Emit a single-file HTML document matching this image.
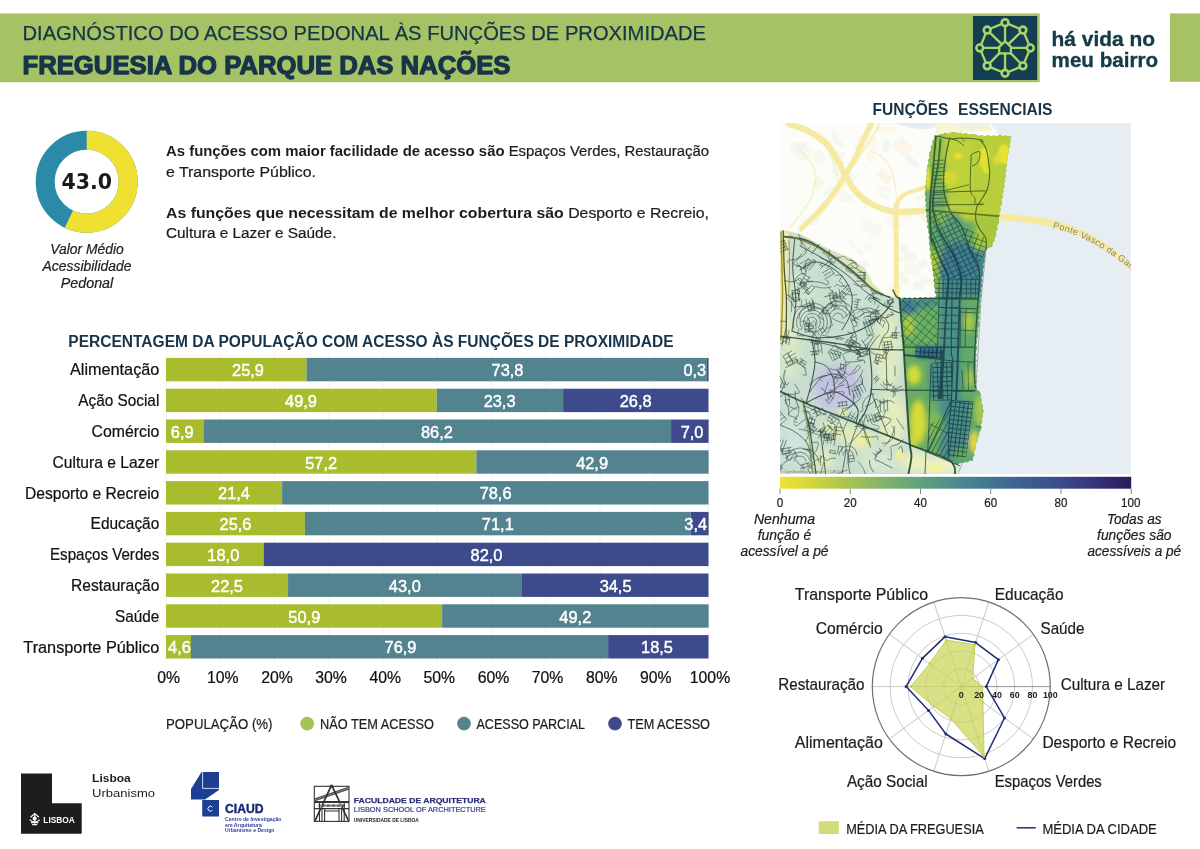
<!DOCTYPE html>
<html lang="pt"><head><meta charset="utf-8"><title>Diagnóstico do acesso pedonal às funções de proximidade - Freguesia do Parque das Nações</title>
<style>html,body{margin:0;padding:0;background:#fff;}body{width:1200px;height:849px;overflow:hidden;font-family:"Liberation Sans",sans-serif;}svg{display:block;}</style>
</head><body>
<svg width="1200" height="849" viewBox="0 0 1200 849">
<rect width="1200" height="849" fill="#ffffff"/>
<rect x="0.00" y="13.40" width="1039.70" height="68.80" fill="#a5c364" />
<rect x="1170.00" y="13.40" width="30.00" height="68.40" fill="#a5c364" />
<text x="22.50" y="39.70" font-family='"Liberation Sans", sans-serif' font-size="20.00" text-anchor="start" fill="#17344a" textLength="683.50" lengthAdjust="spacingAndGlyphs" stroke="#17344a" stroke-width="0.25">DIAGNÓSTICO DO ACESSO PEDONAL ÀS FUNÇÕES DE PROXIMIDADE</text>
<text x="22.50" y="74.30" font-family='"Liberation Sans", sans-serif' font-size="25.60" text-anchor="start" fill="#17344a" font-weight="bold" textLength="488.00" lengthAdjust="spacingAndGlyphs" stroke="#17344a" stroke-width="1.25" stroke-linejoin="round">FREGUESIA DO PARQUE DAS NAÇÕES</text>
<rect x="973.00" y="16.00" width="64.20" height="64.00" fill="#143f50" />
<g fill="none" stroke="#a9d56a" stroke-width="2.3" stroke-linecap="round" stroke-linejoin="round">
<polygon points="1005.05,22.65 1022.94,30.06 1030.35,47.95 1022.94,65.84 1005.05,73.25 987.16,65.84 979.75,47.95 987.16,30.06"/>
<polygon points="1005.05,41.45 1010.95,46.85 1010.95,53.35 999.15,53.35 999.15,46.85"/>
<line x1="1005.05" y1="22.65" x2="1005.05" y2="41.45"/>
<line x1="1022.94" y1="30.06" x2="1008.95" y2="43.55"/>
<line x1="1030.35" y1="47.95" x2="1010.95" y2="47.95"/>
<line x1="1022.94" y1="65.84" x2="1010.95" y2="53.35"/>
<line x1="1005.05" y1="73.25" x2="1005.05" y2="53.35"/>
<line x1="987.16" y1="65.84" x2="999.15" y2="53.35"/>
<line x1="979.75" y1="47.95" x2="999.15" y2="47.95"/>
<line x1="987.16" y1="30.06" x2="1001.15" y2="43.55"/>
</g>
<circle cx="1005.05" cy="22.65" r="3.4" fill="#143f50" stroke="#a9d56a" stroke-width="2.6"/>
<circle cx="1022.94" cy="30.06" r="3.4" fill="#143f50" stroke="#a9d56a" stroke-width="2.6"/>
<circle cx="1030.35" cy="47.95" r="3.4" fill="#143f50" stroke="#a9d56a" stroke-width="2.6"/>
<circle cx="1022.94" cy="65.84" r="3.4" fill="#143f50" stroke="#a9d56a" stroke-width="2.6"/>
<circle cx="1005.05" cy="73.25" r="3.4" fill="#143f50" stroke="#a9d56a" stroke-width="2.6"/>
<circle cx="987.16" cy="65.84" r="3.4" fill="#143f50" stroke="#a9d56a" stroke-width="2.6"/>
<circle cx="979.75" cy="47.95" r="3.4" fill="#143f50" stroke="#a9d56a" stroke-width="2.6"/>
<circle cx="987.16" cy="30.06" r="3.4" fill="#143f50" stroke="#a9d56a" stroke-width="2.6"/>
<text x="1051.60" y="46.30" font-family='"Liberation Sans", sans-serif' font-size="20.00" text-anchor="start" fill="#143b48" font-weight="bold" textLength="103.40" lengthAdjust="spacingAndGlyphs" stroke="#143b48" stroke-width="0.35">há vida no</text>
<text x="1051.60" y="67.30" font-family='"Liberation Sans", sans-serif' font-size="20.00" text-anchor="start" fill="#143b48" font-weight="bold" textLength="106.40" lengthAdjust="spacingAndGlyphs" stroke="#143b48" stroke-width="0.35">meu bairro</text>
<circle cx="86.70" cy="181.70" r="41.50" fill="none" stroke="#2b8aa7" stroke-width="19.00"/>
<circle cx="86.70" cy="181.70" r="41.50" fill="none" stroke="#efe032" stroke-width="19.00" stroke-dasharray="148.63 260.75" transform="rotate(-90 86.70 181.70)"/>
<text x="86.70" y="189.20" font-family='"DejaVu Sans", sans-serif' font-size="20.50" text-anchor="middle" fill="#1a1a1a" font-weight="bold" >43.0</text>
<text x="87.00" y="253.50" font-family='"Liberation Sans", sans-serif' font-size="15.00" text-anchor="middle" fill="#222" font-style="italic" textLength="73.50" lengthAdjust="spacingAndGlyphs"  stroke="#222" stroke-width="0.22">Valor Médio</text>
<text x="87.00" y="270.80" font-family='"Liberation Sans", sans-serif' font-size="15.00" text-anchor="middle" fill="#222" font-style="italic" textLength="89.00" lengthAdjust="spacingAndGlyphs"  stroke="#222" stroke-width="0.22">Acessibilidade</text>
<text x="87.00" y="288.10" font-family='"Liberation Sans", sans-serif' font-size="15.00" text-anchor="middle" fill="#222" font-style="italic" textLength="52.50" lengthAdjust="spacingAndGlyphs"  stroke="#222" stroke-width="0.22">Pedonal</text>
<text x="166.00" y="156.20" font-family='"Liberation Sans", sans-serif' font-size="15.20" text-anchor="start" fill="#1d1d1b" font-weight="bold" textLength="338.52" lengthAdjust="spacingAndGlyphs" >As funções com maior facilidade de acesso são</text>
<text x="508.66" y="156.20" font-family='"Liberation Sans", sans-serif' font-size="15.20" text-anchor="start" fill="#1d1d1b" textLength="200.34" lengthAdjust="spacingAndGlyphs"  stroke="#1d1d1b" stroke-width="0.22">Espaços Verdes, Restauração</text>
<text x="166.00" y="176.50" font-family='"Liberation Sans", sans-serif' font-size="15.20" text-anchor="start" fill="#1d1d1b" textLength="150.00" lengthAdjust="spacingAndGlyphs"  stroke="#1d1d1b" stroke-width="0.22">e Transporte Público.</text>
<text x="166.00" y="218.00" font-family='"Liberation Sans", sans-serif' font-size="15.20" text-anchor="start" fill="#1d1d1b" font-weight="bold" textLength="397.77" lengthAdjust="spacingAndGlyphs" >As funções que necessitam de melhor cobertura são</text>
<text x="568.17" y="218.00" font-family='"Liberation Sans", sans-serif' font-size="15.20" text-anchor="start" fill="#1d1d1b" textLength="140.83" lengthAdjust="spacingAndGlyphs"  stroke="#1d1d1b" stroke-width="0.22">Desporto e Recreio,</text>
<text x="166.00" y="238.20" font-family='"Liberation Sans", sans-serif' font-size="15.20" text-anchor="start" fill="#1d1d1b" textLength="170.40" lengthAdjust="spacingAndGlyphs"  stroke="#1d1d1b" stroke-width="0.22">Cultura e Lazer e Saúde.</text>
<text x="68.30" y="346.60" font-family='"Liberation Sans", sans-serif' font-size="16.00" text-anchor="start" fill="#17344a" font-weight="bold" textLength="605.30" lengthAdjust="spacingAndGlyphs" >PERCENTAGEM DA POPULAÇÃO COM ACESSO ÀS FUNÇÕES DE PROXIMIDADE</text>
<line x1="166.00" y1="352" x2="166.00" y2="664" stroke="#f2f2f2" stroke-width="1"/>
<line x1="220.25" y1="352" x2="220.25" y2="664" stroke="#f2f2f2" stroke-width="1"/>
<line x1="274.50" y1="352" x2="274.50" y2="664" stroke="#f2f2f2" stroke-width="1"/>
<line x1="328.75" y1="352" x2="328.75" y2="664" stroke="#f2f2f2" stroke-width="1"/>
<line x1="383.00" y1="352" x2="383.00" y2="664" stroke="#f2f2f2" stroke-width="1"/>
<line x1="437.25" y1="352" x2="437.25" y2="664" stroke="#f2f2f2" stroke-width="1"/>
<line x1="491.50" y1="352" x2="491.50" y2="664" stroke="#f2f2f2" stroke-width="1"/>
<line x1="545.75" y1="352" x2="545.75" y2="664" stroke="#f2f2f2" stroke-width="1"/>
<line x1="600.00" y1="352" x2="600.00" y2="664" stroke="#f2f2f2" stroke-width="1"/>
<line x1="654.25" y1="352" x2="654.25" y2="664" stroke="#f2f2f2" stroke-width="1"/>
<line x1="708.50" y1="352" x2="708.50" y2="664" stroke="#f2f2f2" stroke-width="1"/>
<text x="159.30" y="375.40" font-family='"Liberation Sans", sans-serif' font-size="16.20" text-anchor="end" fill="#111" textLength="89.30" lengthAdjust="spacingAndGlyphs"  stroke="#111" stroke-width="0.22">Alimentação</text>
<rect x="166.00" y="357.90" width="140.51" height="23.40" fill="#a8bc2d" />
<rect x="306.51" y="357.90" width="400.36" height="23.40" fill="#52838f" />
<rect x="706.87" y="357.90" width="1.63" height="23.40" fill="#3d4a8b" />
<text x="248.00" y="376.20" font-family='"Liberation Sans", sans-serif' font-size="16.40" text-anchor="middle" fill="#fff" stroke="#fff" stroke-width="0.45">25,9</text>
<text x="507.50" y="376.20" font-family='"Liberation Sans", sans-serif' font-size="16.40" text-anchor="middle" fill="#fff" stroke="#fff" stroke-width="0.45">73,8</text>
<text x="694.80" y="376.20" font-family='"Liberation Sans", sans-serif' font-size="16.40" text-anchor="middle" fill="#fff" stroke="#fff" stroke-width="0.45">0,3</text>
<text x="159.30" y="406.20" font-family='"Liberation Sans", sans-serif' font-size="16.20" text-anchor="end" fill="#111" textLength="81.00" lengthAdjust="spacingAndGlyphs"  stroke="#111" stroke-width="0.22">Ação Social</text>
<rect x="166.00" y="388.70" width="270.71" height="23.40" fill="#a8bc2d" />
<rect x="436.71" y="388.70" width="126.40" height="23.40" fill="#52838f" />
<rect x="563.11" y="388.70" width="145.39" height="23.40" fill="#3d4a8b" />
<text x="301.00" y="407.00" font-family='"Liberation Sans", sans-serif' font-size="16.40" text-anchor="middle" fill="#fff" stroke="#fff" stroke-width="0.45">49,9</text>
<text x="499.60" y="407.00" font-family='"Liberation Sans", sans-serif' font-size="16.40" text-anchor="middle" fill="#fff" stroke="#fff" stroke-width="0.45">23,3</text>
<text x="635.70" y="407.00" font-family='"Liberation Sans", sans-serif' font-size="16.40" text-anchor="middle" fill="#fff" stroke="#fff" stroke-width="0.45">26,8</text>
<text x="159.30" y="437.00" font-family='"Liberation Sans", sans-serif' font-size="16.20" text-anchor="end" fill="#111" textLength="67.70" lengthAdjust="spacingAndGlyphs"  stroke="#111" stroke-width="0.22">Comércio</text>
<rect x="166.00" y="419.50" width="37.43" height="23.40" fill="#a8bc2d" />
<rect x="203.43" y="419.50" width="467.63" height="23.40" fill="#52838f" />
<rect x="671.07" y="419.50" width="37.53" height="23.40" fill="#3d4a8b" />
<text x="182.20" y="437.80" font-family='"Liberation Sans", sans-serif' font-size="16.40" text-anchor="middle" fill="#fff" stroke="#fff" stroke-width="0.45">6,9</text>
<text x="436.90" y="437.80" font-family='"Liberation Sans", sans-serif' font-size="16.40" text-anchor="middle" fill="#fff" stroke="#fff" stroke-width="0.45">86,2</text>
<text x="692.10" y="437.80" font-family='"Liberation Sans", sans-serif' font-size="16.40" text-anchor="middle" fill="#fff" stroke="#fff" stroke-width="0.45">7,0</text>
<text x="159.30" y="467.80" font-family='"Liberation Sans", sans-serif' font-size="16.20" text-anchor="end" fill="#111" textLength="106.70" lengthAdjust="spacingAndGlyphs"  stroke="#111" stroke-width="0.22">Cultura e Lazer</text>
<rect x="166.00" y="450.30" width="310.31" height="23.40" fill="#a8bc2d" />
<rect x="476.31" y="450.30" width="232.29" height="23.40" fill="#52838f" />
<text x="321.20" y="468.60" font-family='"Liberation Sans", sans-serif' font-size="16.40" text-anchor="middle" fill="#fff" stroke="#fff" stroke-width="0.45">57,2</text>
<text x="592.10" y="468.60" font-family='"Liberation Sans", sans-serif' font-size="16.40" text-anchor="middle" fill="#fff" stroke="#fff" stroke-width="0.45">42,9</text>
<text x="159.30" y="498.60" font-family='"Liberation Sans", sans-serif' font-size="16.20" text-anchor="end" fill="#111" textLength="134.30" lengthAdjust="spacingAndGlyphs"  stroke="#111" stroke-width="0.22">Desporto e Recreio</text>
<rect x="166.00" y="481.10" width="116.09" height="23.40" fill="#a8bc2d" />
<rect x="282.09" y="481.10" width="426.40" height="23.40" fill="#52838f" />
<text x="234.00" y="499.40" font-family='"Liberation Sans", sans-serif' font-size="16.40" text-anchor="middle" fill="#fff" stroke="#fff" stroke-width="0.45">21,4</text>
<text x="495.60" y="499.40" font-family='"Liberation Sans", sans-serif' font-size="16.40" text-anchor="middle" fill="#fff" stroke="#fff" stroke-width="0.45">78,6</text>
<text x="159.30" y="529.40" font-family='"Liberation Sans", sans-serif' font-size="16.20" text-anchor="end" fill="#111" textLength="68.70" lengthAdjust="spacingAndGlyphs"  stroke="#111" stroke-width="0.22">Educação</text>
<rect x="166.00" y="511.90" width="138.88" height="23.40" fill="#a8bc2d" />
<rect x="304.88" y="511.90" width="385.72" height="23.40" fill="#52838f" />
<rect x="690.60" y="511.90" width="18.00" height="23.40" fill="#3d4a8b" />
<text x="235.50" y="530.20" font-family='"Liberation Sans", sans-serif' font-size="16.40" text-anchor="middle" fill="#fff" stroke="#fff" stroke-width="0.45">25,6</text>
<text x="497.80" y="530.20" font-family='"Liberation Sans", sans-serif' font-size="16.40" text-anchor="middle" fill="#fff" stroke="#fff" stroke-width="0.45">71,1</text>
<text x="695.70" y="530.20" font-family='"Liberation Sans", sans-serif' font-size="16.40" text-anchor="middle" fill="#fff" stroke="#fff" stroke-width="0.45">3,4</text>
<text x="159.30" y="560.20" font-family='"Liberation Sans", sans-serif' font-size="16.20" text-anchor="end" fill="#111" textLength="109.30" lengthAdjust="spacingAndGlyphs"  stroke="#111" stroke-width="0.22">Espaços Verdes</text>
<rect x="166.00" y="542.70" width="97.65" height="23.40" fill="#a8bc2d" />
<rect x="263.65" y="542.70" width="444.85" height="23.40" fill="#3d4a8b" />
<text x="223.30" y="561.00" font-family='"Liberation Sans", sans-serif' font-size="16.40" text-anchor="middle" fill="#fff" stroke="#fff" stroke-width="0.45">18,0</text>
<text x="486.50" y="561.00" font-family='"Liberation Sans", sans-serif' font-size="16.40" text-anchor="middle" fill="#fff" stroke="#fff" stroke-width="0.45">82,0</text>
<text x="159.30" y="591.00" font-family='"Liberation Sans", sans-serif' font-size="16.20" text-anchor="end" fill="#111" textLength="88.30" lengthAdjust="spacingAndGlyphs"  stroke="#111" stroke-width="0.22">Restauração</text>
<rect x="166.00" y="573.50" width="122.06" height="23.40" fill="#a8bc2d" />
<rect x="288.06" y="573.50" width="233.28" height="23.40" fill="#52838f" />
<rect x="521.34" y="573.50" width="187.16" height="23.40" fill="#3d4a8b" />
<text x="227.00" y="591.80" font-family='"Liberation Sans", sans-serif' font-size="16.40" text-anchor="middle" fill="#fff" stroke="#fff" stroke-width="0.45">22,5</text>
<text x="404.80" y="591.80" font-family='"Liberation Sans", sans-serif' font-size="16.40" text-anchor="middle" fill="#fff" stroke="#fff" stroke-width="0.45">43,0</text>
<text x="615.60" y="591.80" font-family='"Liberation Sans", sans-serif' font-size="16.40" text-anchor="middle" fill="#fff" stroke="#fff" stroke-width="0.45">34,5</text>
<text x="159.30" y="621.80" font-family='"Liberation Sans", sans-serif' font-size="16.20" text-anchor="end" fill="#111" textLength="44.30" lengthAdjust="spacingAndGlyphs"  stroke="#111" stroke-width="0.22">Saúde</text>
<rect x="166.00" y="604.30" width="276.13" height="23.40" fill="#a8bc2d" />
<rect x="442.13" y="604.30" width="266.47" height="23.40" fill="#52838f" />
<text x="304.30" y="622.60" font-family='"Liberation Sans", sans-serif' font-size="16.40" text-anchor="middle" fill="#fff" stroke="#fff" stroke-width="0.45">50,9</text>
<text x="575.30" y="622.60" font-family='"Liberation Sans", sans-serif' font-size="16.40" text-anchor="middle" fill="#fff" stroke="#fff" stroke-width="0.45">49,2</text>
<text x="159.30" y="652.60" font-family='"Liberation Sans", sans-serif' font-size="16.20" text-anchor="end" fill="#111" textLength="136.00" lengthAdjust="spacingAndGlyphs"  stroke="#111" stroke-width="0.22">Transporte Público</text>
<rect x="166.00" y="635.10" width="24.95" height="23.40" fill="#a8bc2d" />
<rect x="190.95" y="635.10" width="417.18" height="23.40" fill="#52838f" />
<rect x="608.14" y="635.10" width="100.36" height="23.40" fill="#3d4a8b" />
<text x="179.50" y="653.40" font-family='"Liberation Sans", sans-serif' font-size="16.40" text-anchor="middle" fill="#fff" stroke="#fff" stroke-width="0.45">4,6</text>
<text x="400.50" y="653.40" font-family='"Liberation Sans", sans-serif' font-size="16.40" text-anchor="middle" fill="#fff" stroke="#fff" stroke-width="0.45">76,9</text>
<text x="657.00" y="653.40" font-family='"Liberation Sans", sans-serif' font-size="16.40" text-anchor="middle" fill="#fff" stroke="#fff" stroke-width="0.45">18,5</text>
<text x="168.70" y="682.50" font-family='"Liberation Sans", sans-serif' font-size="15.80" text-anchor="middle" fill="#111" textLength="22.84" lengthAdjust="spacingAndGlyphs"  stroke="#111" stroke-width="0.22">0%</text>
<text x="222.83" y="682.50" font-family='"Liberation Sans", sans-serif' font-size="15.80" text-anchor="middle" fill="#111" textLength="31.62" lengthAdjust="spacingAndGlyphs"  stroke="#111" stroke-width="0.22">10%</text>
<text x="276.96" y="682.50" font-family='"Liberation Sans", sans-serif' font-size="15.80" text-anchor="middle" fill="#111" textLength="31.62" lengthAdjust="spacingAndGlyphs"  stroke="#111" stroke-width="0.22">20%</text>
<text x="331.09" y="682.50" font-family='"Liberation Sans", sans-serif' font-size="15.80" text-anchor="middle" fill="#111" textLength="31.62" lengthAdjust="spacingAndGlyphs"  stroke="#111" stroke-width="0.22">30%</text>
<text x="385.22" y="682.50" font-family='"Liberation Sans", sans-serif' font-size="15.80" text-anchor="middle" fill="#111" textLength="31.62" lengthAdjust="spacingAndGlyphs"  stroke="#111" stroke-width="0.22">40%</text>
<text x="439.35" y="682.50" font-family='"Liberation Sans", sans-serif' font-size="15.80" text-anchor="middle" fill="#111" textLength="31.62" lengthAdjust="spacingAndGlyphs"  stroke="#111" stroke-width="0.22">50%</text>
<text x="493.48" y="682.50" font-family='"Liberation Sans", sans-serif' font-size="15.80" text-anchor="middle" fill="#111" textLength="31.62" lengthAdjust="spacingAndGlyphs"  stroke="#111" stroke-width="0.22">60%</text>
<text x="547.61" y="682.50" font-family='"Liberation Sans", sans-serif' font-size="15.80" text-anchor="middle" fill="#111" textLength="31.62" lengthAdjust="spacingAndGlyphs"  stroke="#111" stroke-width="0.22">70%</text>
<text x="601.74" y="682.50" font-family='"Liberation Sans", sans-serif' font-size="15.80" text-anchor="middle" fill="#111" textLength="31.62" lengthAdjust="spacingAndGlyphs"  stroke="#111" stroke-width="0.22">80%</text>
<text x="655.87" y="682.50" font-family='"Liberation Sans", sans-serif' font-size="15.80" text-anchor="middle" fill="#111" textLength="31.62" lengthAdjust="spacingAndGlyphs"  stroke="#111" stroke-width="0.22">90%</text>
<text x="710.00" y="682.50" font-family='"Liberation Sans", sans-serif' font-size="15.80" text-anchor="middle" fill="#111" textLength="40.41" lengthAdjust="spacingAndGlyphs"  stroke="#111" stroke-width="0.22">100%</text>
<text x="166.00" y="729.00" font-family='"Liberation Sans", sans-serif' font-size="14.60" text-anchor="start" fill="#1d1d1b" textLength="106.50" lengthAdjust="spacingAndGlyphs"  stroke="#1d1d1b" stroke-width="0.22">POPULAÇÃO (%)</text>
<circle cx="307.20" cy="723.6" r="6.5" fill="#a5c454" stroke="#8fae48" stroke-width="0.6"/>
<text x="320.00" y="729.00" font-family='"Liberation Sans", sans-serif' font-size="14.60" text-anchor="start" fill="#1d1d1b" textLength="114.00" lengthAdjust="spacingAndGlyphs"  stroke="#1d1d1b" stroke-width="0.22">NÃO TEM ACESSO</text>
<circle cx="464.00" cy="723.6" r="6.5" fill="#52838f" stroke="#47727d" stroke-width="0.6"/>
<text x="476.50" y="729.00" font-family='"Liberation Sans", sans-serif' font-size="14.60" text-anchor="start" fill="#1d1d1b" textLength="108.50" lengthAdjust="spacingAndGlyphs"  stroke="#1d1d1b" stroke-width="0.22">ACESSO PARCIAL</text>
<circle cx="615.00" cy="723.6" r="6.5" fill="#3d4a8b" stroke="#333e78" stroke-width="0.6"/>
<text x="627.50" y="729.00" font-family='"Liberation Sans", sans-serif' font-size="14.60" text-anchor="start" fill="#1d1d1b" textLength="82.50" lengthAdjust="spacingAndGlyphs"  stroke="#1d1d1b" stroke-width="0.22">TEM ACESSO</text>
<text x="872.50" y="115.00" font-family='"Liberation Sans", sans-serif' font-size="16.20" text-anchor="start" fill="#17344a" font-weight="bold" textLength="76.00" lengthAdjust="spacingAndGlyphs" >FUNÇÕES</text>
<text x="958.00" y="115.00" font-family='"Liberation Sans", sans-serif' font-size="16.20" text-anchor="start" fill="#17344a" font-weight="bold" textLength="94.50" lengthAdjust="spacingAndGlyphs" >ESSENCIAIS</text>
<defs><clipPath id="mapclip"><rect x="780" y="123" width="351" height="351"/></clipPath>
<clipPath id="dclip"><polygon points="934.4,135.3 937.3,135.8 939.6,133.9 942.5,134.4 945.0,132.8 948.4,133.7 951.6,132.2 955.1,131.9 957.7,133.2 960.5,132.8 963.2,134.1 966.1,133.1 969.2,134.8 972.7,134.3 976.0,134.7 979.0,136.1 982.0,135.2 984.9,136.6 988.0,135.2 991.0,136.2 994.0,135.5 997.0,136.3 1000.0,134.8 1002.7,136.3 1005.5,135.5 1008.2,136.6 1011.3,136.4 1010.2,138.9 1010.7,141.7 1009.2,144.2 1009.7,147.0 1008.5,149.5 1008.9,152.3 1007.5,154.8 1008.1,157.6 1007.5,160.2 1006.2,162.7 1007.2,165.5 1005.6,168.0 1006.4,170.7 1004.9,173.2 1006.1,175.9 1004.7,178.4 1005.2,181.1 1003.7,183.6 1004.8,186.4 1002.9,188.8 1003.7,191.6 1002.1,194.0 1003.0,196.9 1001.4,199.3 1002.0,202.1 1001.7,204.7 999.9,207.1 1000.7,209.9 999.1,212.4 999.6,215.2 998.4,217.7 999.1,220.5 998.5,223.1 997.0,226.0 997.4,229.3 995.6,232.1 996.3,235.5 994.3,237.9 994.3,241.1 992.3,243.5 992.2,247.1 988.9,247.2 986.9,249.1 985.2,252.4 985.3,256.0 984.3,258.7 984.9,261.6 983.1,264.1 984.1,267.1 982.6,269.6 983.2,272.5 983.0,275.2 981.4,277.7 982.7,280.5 981.2,283.0 982.3,285.7 980.9,288.2 981.7,290.9 980.2,293.4 981.3,296.1 980.0,298.6 980.7,301.3 979.5,304.0 980.6,306.8 979.3,309.4 980.1,312.2 978.5,314.9 979.7,317.7 978.1,320.3 979.2,323.1 978.9,325.9 977.5,328.4 978.3,331.2 977.2,333.8 978.0,336.6 976.4,339.2 977.2,342.0 976.0,344.6 976.8,347.4 976.5,350.0 975.5,352.6 976.6,355.3 975.4,357.9 976.6,360.6 975.5,363.2 976.3,365.9 975.6,368.5 976.4,371.1 975.4,373.8 976.7,376.4 975.3,379.1 976.7,381.7 975.3,384.4 976.4,386.8 976.8,389.8 979.5,391.6 980.8,394.3 980.6,397.3 981.7,400.0 981.2,403.0 982.8,405.6 982.5,408.5 984.0,411.4 982.5,413.8 982.9,416.6 981.7,419.1 982.3,421.8 980.9,424.3 981.3,427.1 981.0,429.8 979.1,432.3 979.3,435.4 977.5,438.0 977.5,441.1 975.9,443.7 976.1,446.8 975.2,449.6 973.9,452.1 974.5,455.0 972.7,457.5 972.8,460.7 970.0,460.3 967.8,462.3 965.0,461.9 962.6,463.2 959.9,463.1 957.1,464.7 954.5,462.2 951.0,461.6 948.0,460.1 945.7,457.9 942.7,457.8 940.5,455.6 937.2,456.0 935.0,453.7 932.0,453.6 929.7,451.6 926.6,451.6 924.2,449.5 921.0,449.5 918.6,447.5 915.4,447.4 912.9,445.6 909.1,445.1 910.4,442.3 909.0,439.8 910.0,437.1 908.6,434.5 909.6,431.8 907.9,429.3 907.9,426.6 908.7,423.9 907.7,421.4 908.6,418.7 907.4,416.1 908.3,413.4 906.6,410.9 907.8,408.2 906.7,405.6 907.7,402.9 906.0,400.4 907.2,397.6 905.9,395.1 906.8,392.4 905.6,389.8 906.4,387.1 905.2,384.5 906.2,381.8 905.1,379.2 905.7,376.5 904.5,373.9 905.5,371.2 904.3,368.6 905.2,365.9 903.8,363.3 905.2,360.6 903.9,358.0 904.5,355.3 903.5,352.7 903.0,350.1 904.2,347.2 902.8,344.6 903.5,341.8 902.1,339.2 903.2,336.3 901.5,333.7 902.5,330.9 901.0,328.3 902.2,325.4 900.7,322.8 900.2,320.1 901.2,317.2 899.9,314.6 900.7,311.8 899.7,309.1 900.6,306.3 899.2,303.7 900.1,300.9 899.2,297.6 901.8,298.9 904.4,297.6 907.1,298.5 909.7,297.5 912.3,298.7 914.9,297.2 917.6,298.6 920.2,297.0 922.8,298.1 925.4,297.0 928.0,297.9 930.6,297.2 933.3,297.8 935.2,297.5 936.3,294.5 934.5,291.9 935.4,288.9 933.9,286.3 934.9,283.3 933.4,280.7 934.1,277.7 932.8,275.1 933.2,272.1 932.0,269.3 932.8,266.3 931.1,263.6 932.1,260.6 930.4,257.9 930.1,255.0 931.0,252.1 929.3,249.4 930.1,246.4 928.8,243.7 929.5,240.7 928.5,237.9 929.3,235.0 928.0,232.2 928.4,229.5 926.9,226.9 928.0,224.1 926.8,221.5 927.3,218.8 926.1,216.2 927.0,213.4 925.6,210.8 926.7,208.1 925.3,205.6 926.5,202.9 924.8,200.3 926.0,197.6 925.0,195.0 924.8,192.4 925.9,189.7 925.0,187.0 926.2,184.4 925.7,181.6 927.0,179.0 926.0,176.2 927.2,173.6 926.3,170.8 927.7,168.4 927.3,165.6 928.9,163.2 927.8,160.3 929.8,158.0 929.1,155.2 929.5,152.5 931.3,149.9 930.7,146.8 932.8,144.3 932.3,141.2 934.3,138.7"/></clipPath>
<clipPath id="nclip"><polygon points="779.0,230.2 786.0,230.5 801.2,234.5 828.8,249.3 850.0,257.8 864.8,268.4 873.3,284.0 885.0,295.0 899.2,298.2 903.8,350.0 909.9,445.0 957.4,464.1 960.0,465.5 958.0,475.0 779.0,475.0"/></clipPath>
<filter id="b3" x="-20%" y="-20%" width="140%" height="140%"><feGaussianBlur stdDeviation="2.6"/></filter>
<filter id="b5" x="-20%" y="-20%" width="140%" height="140%"><feGaussianBlur stdDeviation="5"/></filter>
<filter id="b1" x="-20%" y="-20%" width="140%" height="140%"><feGaussianBlur stdDeviation="1.2"/></filter>
</defs>
<g clip-path="url(#mapclip)">
<rect x="780" y="123" width="351" height="351" fill="#fcfcf8"/>
<rect x="828.3" y="151.4" width="16.4" height="4.7" fill="#f8f5ec" transform="rotate(0 828.3 151.4)"/>
<rect x="834.3" y="135.1" width="14.1" height="4.4" fill="#f2f6f1" transform="rotate(45 834.3 135.1)"/>
<rect x="792.0" y="140.9" width="12.8" height="12.3" fill="#f8f7f0" transform="rotate(20 792.0 140.9)"/>
<rect x="872.2" y="227.0" width="7.0" height="9.9" fill="#f8f7f0" transform="rotate(20 872.2 227.0)"/>
<rect x="788.7" y="275.2" width="10.6" height="5.4" fill="#f8f7f0" transform="rotate(-30 788.7 275.2)"/>
<rect x="862.1" y="244.4" width="7.6" height="9.7" fill="#f6f8f2" transform="rotate(-30 862.1 244.4)"/>
<rect x="795.9" y="249.6" width="15.0" height="10.2" fill="#f2f6f1" transform="rotate(45 795.9 249.6)"/>
<rect x="893.1" y="206.5" width="20.8" height="7.6" fill="#f6f8f2" transform="rotate(20 893.1 206.5)"/>
<rect x="882.0" y="167.7" width="15.2" height="9.3" fill="#faf6e8" transform="rotate(45 882.0 167.7)"/>
<rect x="823.2" y="296.5" width="7.9" height="8.2" fill="#faf6e8" transform="rotate(20 823.2 296.5)"/>
<rect x="915.5" y="198.8" width="21.4" height="4.8" fill="#f8f5ec" transform="rotate(-30 915.5 198.8)"/>
<rect x="830.6" y="186.3" width="13.9" height="12.0" fill="#f8f7f0" transform="rotate(0 830.6 186.3)"/>
<rect x="917.1" y="208.0" width="16.6" height="4.6" fill="#faf6e8" transform="rotate(45 917.1 208.0)"/>
<rect x="822.7" y="192.5" width="16.7" height="4.2" fill="#f2f6f1" transform="rotate(-30 822.7 192.5)"/>
<rect x="806.0" y="145.5" width="6.9" height="11.7" fill="#f6f8f2" transform="rotate(20 806.0 145.5)"/>
<rect x="838.9" y="285.4" width="13.9" height="5.7" fill="#f2f6f1" transform="rotate(-30 838.9 285.4)"/>
<rect x="908.3" y="268.4" width="19.8" height="6.8" fill="#f2f6f1" transform="rotate(-30 908.3 268.4)"/>
<rect x="879.6" y="191.6" width="9.7" height="4.8" fill="#f6f8f2" transform="rotate(20 879.6 191.6)"/>
<rect x="876.2" y="127.1" width="19.3" height="5.8" fill="#faf6e8" transform="rotate(0 876.2 127.1)"/>
<rect x="802.8" y="218.6" width="15.8" height="7.2" fill="#f6f8f2" transform="rotate(0 802.8 218.6)"/>
<rect x="847.3" y="277.4" width="21.2" height="10.8" fill="#f8f5ec" transform="rotate(45 847.3 277.4)"/>
<rect x="838.9" y="194.0" width="13.7" height="8.0" fill="#f6f8f2" transform="rotate(0 838.9 194.0)"/>
<rect x="922.8" y="202.1" width="7.8" height="10.0" fill="#f8f7f0" transform="rotate(0 922.8 202.1)"/>
<rect x="863.1" y="218.9" width="21.2" height="10.1" fill="#f8f7f0" transform="rotate(20 863.1 218.9)"/>
<rect x="869.8" y="151.0" width="10.0" height="7.5" fill="#faf6e8" transform="rotate(45 869.8 151.0)"/>
<rect x="799.6" y="273.6" width="21.9" height="8.7" fill="#f2f6f1" transform="rotate(-30 799.6 273.6)"/>
<rect x="794.3" y="142.9" width="11.5" height="6.6" fill="#f6f8f2" transform="rotate(0 794.3 142.9)"/>
<rect x="811.3" y="291.6" width="11.8" height="10.9" fill="#f8f7f0" transform="rotate(-30 811.3 291.6)"/>
<rect x="921.9" y="276.1" width="17.1" height="6.6" fill="#faf6e8" transform="rotate(20 921.9 276.1)"/>
<rect x="832.9" y="164.0" width="14.7" height="9.0" fill="#f6f8f2" transform="rotate(20 832.9 164.0)"/>
<rect x="897.3" y="268.2" width="17.8" height="6.3" fill="#f8f5ec" transform="rotate(45 897.3 268.2)"/>
<rect x="832.8" y="130.1" width="6.4" height="6.8" fill="#faf6e8" transform="rotate(20 832.8 130.1)"/>
<rect x="881.0" y="292.4" width="13.2" height="13.4" fill="#faf6e8" transform="rotate(-30 881.0 292.4)"/>
<rect x="793.5" y="142.9" width="13.5" height="7.4" fill="#f2f6f1" transform="rotate(0 793.5 142.9)"/>
<rect x="850.6" y="239.3" width="18.8" height="4.8" fill="#f8f7f0" transform="rotate(45 850.6 239.3)"/>
<rect x="893.9" y="256.3" width="13.6" height="5.8" fill="#faf6e8" transform="rotate(0 893.9 256.3)"/>
<rect x="896.5" y="295.0" width="12.3" height="8.0" fill="#f8f7f0" transform="rotate(20 896.5 295.0)"/>
<rect x="806.3" y="147.2" width="8.4" height="13.0" fill="#f6f8f2" transform="rotate(45 806.3 147.2)"/>
<rect x="876.0" y="186.3" width="14.8" height="5.3" fill="#f8f7f0" transform="rotate(0 876.0 186.3)"/>
<rect x="857.3" y="288.4" width="12.9" height="12.7" fill="#f6f8f2" transform="rotate(0 857.3 288.4)"/>
<rect x="818.0" y="176.3" width="9.8" height="9.9" fill="#faf6e8" transform="rotate(45 818.0 176.3)"/>
<rect x="901.3" y="135.7" width="17.8" height="13.0" fill="#f8f5ec" transform="rotate(45 901.3 135.7)"/>
<rect x="900.3" y="278.7" width="8.1" height="5.5" fill="#f8f5ec" transform="rotate(0 900.3 278.7)"/>
<rect x="906.8" y="260.9" width="15.7" height="11.8" fill="#f6f8f2" transform="rotate(20 906.8 260.9)"/>
<rect x="802.2" y="233.3" width="7.9" height="4.6" fill="#f8f5ec" transform="rotate(45 802.2 233.3)"/>
<rect x="894.2" y="143.6" width="15.0" height="6.5" fill="#faf6e8" transform="rotate(0 894.2 143.6)"/>
<rect x="892.4" y="213.8" width="15.0" height="11.6" fill="#f8f7f0" transform="rotate(45 892.4 213.8)"/>
<rect x="828.6" y="295.3" width="15.7" height="6.0" fill="#faf6e8" transform="rotate(45 828.6 295.3)"/>
<rect x="854.7" y="266.3" width="14.1" height="6.5" fill="#f8f5ec" transform="rotate(-30 854.7 266.3)"/>
<rect x="914.0" y="281.2" width="9.2" height="8.5" fill="#f2f6f1" transform="rotate(0 914.0 281.2)"/>
<rect x="838.1" y="180.3" width="16.7" height="8.3" fill="#f6f8f2" transform="rotate(-30 838.1 180.3)"/>
<rect x="894.1" y="282.0" width="8.5" height="11.2" fill="#faf6e8" transform="rotate(20 894.1 282.0)"/>
<rect x="818.2" y="149.0" width="13.5" height="11.5" fill="#f8f7f0" transform="rotate(45 818.2 149.0)"/>
<rect x="908.5" y="153.5" width="16.7" height="6.2" fill="#f2f6f1" transform="rotate(45 908.5 153.5)"/>
<rect x="830.5" y="159.3" width="11.1" height="11.2" fill="#f8f7f0" transform="rotate(-30 830.5 159.3)"/>
<rect x="861.2" y="202.1" width="6.3" height="7.3" fill="#f8f5ec" transform="rotate(-30 861.2 202.1)"/>
<rect x="855.3" y="136.3" width="21.8" height="11.9" fill="#f8f7f0" transform="rotate(0 855.3 136.3)"/>
<rect x="820.0" y="131.9" width="18.5" height="6.7" fill="#f6f8f2" transform="rotate(45 820.0 131.9)"/>
<rect x="903.5" y="243.3" width="21.1" height="8.1" fill="#f8f5ec" transform="rotate(45 903.5 243.3)"/>
<rect x="882.2" y="140.7" width="6.9" height="10.9" fill="#f2f6f1" transform="rotate(0 882.2 140.7)"/>
<polygon points="990,123 1131,123 1131,474 955,474 960,300 980,250 1000,136" fill="#e6eef4"/>
<path d="M893 123 C905 126 915 130 926 129 C935 128 940 125 946 123 Z" fill="#e3edf3"/>
<path d="M936 123 L990 123 L992 131 L936 133 Z" fill="#f8f4d4"/>
<path d="M955 123 L990 123 L990 127 C975 131 965 129 955 127 Z" fill="#eef2e6"/>
<g fill="none" stroke="#f6eaa2" stroke-linecap="round" stroke-linejoin="round">
<path d="M788.5 123.8 C791.8 125.0 801.9 127.9 808.3 131.3 C814.6 134.7 821.6 139.1 826.6 144.0 C831.6 148.9 834.9 155.8 838.0 161.0 C841.1 166.2 842.0 169.9 845.0 175.1 C848.0 180.3 852.0 187.4 856.3 192.1 C860.5 196.8 865.3 200.3 870.5 203.4 C875.7 206.5 882.5 209.1 887.4 210.5 C892.3 211.9 893.2 211.9 900.0 211.9 C906.8 211.9 923.3 210.7 928.0 210.4" stroke-width="6.2"/>
<path d="M871.9 122.8 C870.5 125.6 866.5 133.4 863.4 139.8 C860.3 146.2 856.8 154.6 853.5 161.0 C850.2 167.4 846.9 172.6 843.6 178.0 C840.3 183.4 837.5 188.3 833.7 193.5 C829.9 198.7 825.5 204.1 821.0 209.0 C816.5 213.9 810.2 219.9 806.9 223.2 C803.6 226.5 802.2 227.9 801.2 228.8" stroke-width="5.4"/>
<path d="M826.6 144.0 C827.8 147.5 832.1 158.2 834.0 165.0 C835.9 171.8 839.0 178.3 838.0 185.0 C837.0 191.7 831.8 199.2 828.0 205.0 C824.2 210.8 817.2 217.5 815.0 220.0" stroke-width="1.6" opacity="0.55"/>
<path d="M870.0 150.0 C872.5 151.7 881.2 155.8 885.0 160.0 C888.8 164.2 891.0 168.3 893.0 175.0 C895.0 181.7 896.3 195.8 897.0 200.0" stroke-width="1.6" opacity="0.5"/>
<path d="M800.0 150.0 C802.5 153.3 813.0 162.5 815.0 170.0 C817.0 177.5 814.5 187.5 812.0 195.0 C809.5 202.5 803.7 209.5 800.0 215.0 C796.3 220.5 791.7 225.8 790.0 228.0" stroke-width="1.8" opacity="0.5"/>
<path d="M896 205 L896.5 300" stroke-width="5"/>
<path d="M896 209 C897 197 905 193 915 190.5 C921 189 925 187.5 927 186" stroke-width="4.2"/>
<path d="M895 212 C905 213 915 212 927 210" stroke-width="5.6"/>
<path d="M880 123 C872 140 862 150 856 162" stroke-width="2.2" opacity="0.6"/>
<path d="M782 240 C784 260 784 280 783 300 C782 320 781 330 780 340" stroke-width="5"/>
<path d="M789 244 C790 262 789 280 788 296" stroke-width="2.4"/>
</g>
<path d="M998 213.6 C1030 215.2 1050 218.2 1068 224.2 C1095 234 1112 247 1131 263.4 L1131 270.6 C1112 254 1094 241.6 1066 231.4 C1048 225.4 1030 222.2 998 220.2 Z" fill="#f6eaa2"/>
<defs><path id="bridgep" d="M1052.5 228 C1080 234.5 1105 247.5 1136 273.5"/></defs>
<text font-family='"Liberation Sans", sans-serif' font-size="9.2" fill="#8b8672" letter-spacing="0.35"><textPath href="#bridgep">Ponte Vasco da Gama</textPath></text>
<path d="M986 250 L981 300 L976 388 M962 464 L958 474" fill="none" stroke="#8c8c8c" stroke-width="0.7"/>
<g clip-path="url(#nclip)">
<rect x="779" y="225" width="190" height="250" fill="#c9decf"/>
<g filter="url(#b5)">
<ellipse cx="837.0" cy="386.0" rx="24.0" ry="22.0" fill="#c3c1e2"/>
<ellipse cx="832.0" cy="398.0" rx="16.0" ry="12.0" fill="#c6c2e4"/>
<ellipse cx="887.0" cy="350.0" rx="12.0" ry="40.0" fill="#e2ecc0"/>
<ellipse cx="892.0" cy="420.0" rx="14.0" ry="26.0" fill="#e4edbf"/>
<ellipse cx="860.0" cy="440.0" rx="14.0" ry="10.0" fill="#e6ecb4"/>
<ellipse cx="835.0" cy="430.0" rx="16.0" ry="9.0" fill="#e4ecb8"/>
<ellipse cx="940.0" cy="466.0" rx="22.0" ry="9.0" fill="#eff2c2"/>
<ellipse cx="915.0" cy="462.0" rx="14.0" ry="10.0" fill="#edf1c0"/>
<ellipse cx="800.0" cy="300.0" rx="18.0" ry="30.0" fill="#cfe3d0"/>
<ellipse cx="850.0" cy="290.0" rx="20.0" ry="18.0" fill="#cde2d6"/>
<ellipse cx="795.0" cy="440.0" rx="12.0" ry="25.0" fill="#cfe4dc"/>
<ellipse cx="880.0" cy="462.0" rx="20.0" ry="10.0" fill="#d6e8d0"/>
<ellipse cx="790.0" cy="350.0" rx="8.0" ry="30.0" fill="#dfeac4"/>
<ellipse cx="822.0" cy="460.0" rx="12.0" ry="10.0" fill="#e3ebbd"/>
</g>
<rect x="779" y="229" width="9.5" height="112" fill="#efe9a8"/>
<path d="M790 232 L803 236 L836 254 L862 276 L878 294 L886 298 L868 274 L846 256 L822 243 L803 233 Z" fill="#dfe9b6"/>
<g filter="url(#b1)">
<ellipse cx="866.0" cy="437.0" rx="5.0" ry="4.0" fill="#eeee9a"/>
<ellipse cx="861.0" cy="442.0" rx="4.0" ry="3.0" fill="#efef96"/>
<ellipse cx="843.0" cy="411.0" rx="5.0" ry="3.0" fill="#e9ee9e"/>
<ellipse cx="900.0" cy="455.0" rx="4.0" ry="6.0" fill="#f0ee98"/>
<ellipse cx="935.0" cy="468.0" rx="8.0" ry="4.0" fill="#f2f0a0"/>
</g>
</g>
<g clip-path="url(#dclip)">
<rect x="895" y="128" width="125" height="345" fill="#69ab64"/>
<g filter="url(#b3)">
<rect x="920.0" y="125.0" width="100.0" height="96.0" fill="#b9ce3a"/>
<rect x="946.0" y="140.0" width="26.0" height="50.0" fill="#c0d23a"/>
<rect x="920.0" y="128.0" width="25.0" height="40.0" fill="#94bf50"/>
<rect x="920.0" y="165.0" width="26.0" height="30.0" fill="#80b55a"/>
<rect x="920.0" y="192.0" width="27.0" height="30.0" fill="#6fa868"/>
<rect x="975.0" y="215.0" width="40.0" height="40.0" fill="#a9c73c"/>
<ellipse cx="950.0" cy="232.0" rx="17.0" ry="20.0" fill="#5c9d78"/>
<ellipse cx="940.0" cy="215.0" rx="9.0" ry="12.0" fill="#7fb460"/>
<rect x="926.0" y="250.0" width="62.0" height="50.0" fill="#448689"/>
<ellipse cx="960.0" cy="262.0" rx="18.0" ry="20.0" fill="#3f7f8d"/>
<rect x="922.0" y="250.0" width="17.0" height="30.0" fill="#a6c73c"/>
<rect x="924.0" y="278.0" width="16.0" height="20.0" fill="#84b957"/>
<ellipse cx="989.0" cy="243.0" rx="8.0" ry="6.0" fill="#a5c63c"/>
<rect x="897.0" y="296.0" width="42.0" height="60.0" fill="#6bb063"/>
<ellipse cx="908.0" cy="306.0" rx="11.0" ry="8.0" fill="#3e7a94"/>
<ellipse cx="925.0" cy="303.0" rx="12.0" ry="5.0" fill="#4a8a8c"/>
<ellipse cx="909.0" cy="326.0" rx="5.0" ry="10.0" fill="#b5cf3a"/>
<rect x="939.0" y="296.0" width="22.0" height="170.0" fill="#4b8f86"/>
<rect x="961.0" y="296.0" width="20.0" height="170.0" fill="#62a868"/>
<ellipse cx="969.0" cy="322.0" rx="5.0" ry="10.0" fill="#a8c846"/>
<rect x="916.0" y="346.0" width="25.0" height="12.0" fill="#2f6585"/>
<ellipse cx="914.0" cy="375.0" rx="7.0" ry="10.0" fill="#d6dc38"/>
<ellipse cx="918.0" cy="422.0" rx="8.0" ry="22.0" fill="#d8dc38"/>
<ellipse cx="913.0" cy="440.0" rx="6.0" ry="8.0" fill="#c8d63c"/>
<rect x="929.0" y="362.0" width="26.0" height="38.0" fill="#4b8c88"/>
<rect x="948.0" y="400.0" width="22.0" height="56.0" fill="#4a8b88"/>
<ellipse cx="970.0" cy="378.0" rx="4.0" ry="9.0" fill="#a8c848"/>
<ellipse cx="980.0" cy="410.0" rx="5.0" ry="16.0" fill="#a8c848"/>
<ellipse cx="974.0" cy="442.0" rx="4.5" ry="11.0" fill="#e2de35"/>
<ellipse cx="935.0" cy="425.0" rx="8.0" ry="14.0" fill="#7db85a"/>
<ellipse cx="962.0" cy="455.0" rx="10.0" ry="8.0" fill="#62a868"/>
</g>
<g filter="url(#b1)">
<ellipse cx="958.0" cy="156.0" rx="4.0" ry="3.5" fill="#e8e032"/>
<ellipse cx="984.0" cy="158.0" rx="5.0" ry="11.0" fill="#e6e030"/>
<ellipse cx="1004.0" cy="154.0" rx="6.0" ry="10.0" fill="#eae232"/>
<ellipse cx="986.0" cy="170.0" rx="3.0" ry="3.0" fill="#e6e030"/>
<ellipse cx="950.0" cy="178.0" rx="8.0" ry="7.0" fill="#d0d836"/>
<ellipse cx="997.0" cy="160.0" rx="4.0" ry="5.0" fill="#dcdc34"/>
<ellipse cx="928.0" cy="178.0" rx="2.5" ry="12.0" fill="#e4de30"/>
</g>
</g>
<g clip-path="url(#nclip)" fill="none" stroke="#324e48" stroke-opacity="0.8" stroke-linecap="round" stroke-linejoin="round">
<path d="M837.6 369.9 C837.9 370.4 838.5 371.8 839.0 372.8 C839.4 373.7 839.8 374.7 840.3 375.7 C840.8 376.6 841.4 377.5 842.0 378.4 C842.6 379.3 844.1 380.2 844.0 380.9 C843.9 381.7 842.3 382.3 841.4 382.9 C840.5 383.5 839.2 384.3 838.7 384.6" stroke-width="0.90"/>
<path d="M862.0 384.6 C862.1 384.0 862.5 382.5 862.6 381.4 C862.6 380.4 862.3 379.3 862.0 378.3 C861.7 377.3 860.9 375.9 860.6 375.4" stroke-width="0.90"/>
<path d="M810.7 308.2 C811.3 308.2 812.9 308.1 813.9 308.1 C815.0 308.1 816.1 308.2 817.1 308.2 C818.2 308.3 819.8 308.3 820.3 308.4" stroke-width="0.70"/>
<path d="M851.3 265.0 C851.7 265.4 852.8 266.5 853.7 267.1 C854.6 267.7 855.6 268.2 856.5 268.7 C857.4 269.3 858.3 269.8 859.2 270.4 C860.1 271.0 861.0 271.6 861.9 272.1 C862.8 272.6 864.3 273.2 864.8 273.4" stroke-width="0.90"/>
<path d="M815.2 260.2 C814.9 260.7 814.1 262.8 813.4 262.9 C812.7 263.0 811.7 261.6 810.9 260.9 C810.1 260.2 809.4 258.7 808.6 258.7 C807.8 258.6 806.9 260.0 806.0 260.6 C805.2 261.2 804.2 261.8 803.3 262.2 C802.3 262.7 800.8 263.3 800.3 263.5" stroke-width="0.70"/>
<path d="M815.2 465.3 C814.7 465.0 812.5 464.3 812.4 463.6 C812.3 462.9 813.8 461.9 814.6 461.3 C815.4 460.6 816.3 460.0 817.3 459.5 C818.2 459.1 819.9 459.2 820.3 458.5 C820.8 457.9 820.1 455.9 820.0 455.4" stroke-width="0.70"/>
<path d="M856.0 326.2 C855.4 326.4 853.2 326.5 852.9 327.1 C852.6 327.8 853.7 329.1 854.0 330.1 C854.4 331.1 854.6 332.2 855.0 333.2 C855.4 334.2 856.5 335.5 856.2 336.2 C855.9 336.8 854.2 336.8 853.1 337.1 C852.1 337.4 850.4 337.2 850.0 337.9 C849.6 338.5 850.7 340.4 850.8 340.9" stroke-width="0.90"/>
<path d="M868.7 299.6 C868.9 299.1 869.4 297.0 870.1 296.8 C870.8 296.6 871.9 297.9 872.8 298.4 C873.7 299.0 874.6 299.6 875.5 300.1 C876.4 300.7 877.3 301.3 878.2 301.9 C879.1 302.5 879.9 303.2 880.8 303.8 C881.6 304.4 882.8 305.7 883.5 305.5 C884.2 305.3 884.8 303.2 885.1 302.7" stroke-width="0.80"/>
<path d="M827.4 372.7 C827.8 373.0 829.1 374.0 830.0 374.5 C830.9 375.1 831.9 375.5 832.9 375.9 C833.9 376.3 834.9 376.6 836.0 376.8 C837.0 377.1 838.1 377.3 839.1 377.4 C840.2 377.4 841.8 377.2 842.3 377.1" stroke-width="0.70"/>
<path d="M784.6 387.6 C784.5 387.1 784.0 385.5 783.7 384.5 C783.3 383.5 782.9 382.6 782.4 381.6 C782.0 380.6 781.6 379.6 781.1 378.7 C780.6 377.7 780.1 376.8 779.5 375.9 C779.0 375.0 778.5 374.0 777.9 373.1 C777.3 372.3 776.7 371.4 776.0 370.5 C775.4 369.7 774.8 368.8 774.1 368.0 C773.4 367.2 772.4 366.0 772.0 365.6" stroke-width="0.90"/>
<path d="M783.8 393.6 C783.4 394.0 782.3 395.2 781.5 395.9 C780.7 396.6 779.8 397.2 778.9 397.7 C778.0 398.3 776.6 399.0 776.1 399.3" stroke-width="0.90"/>
<path d="M867.4 346.2 C867.6 346.7 868.2 348.2 868.7 349.1 C869.3 350.0 870.0 350.8 870.8 351.6 C871.5 352.3 872.4 353.0 873.3 353.6 C874.2 354.1 875.7 354.2 876.2 354.9 C876.6 355.7 875.7 357.1 875.7 358.1 C875.7 359.2 875.9 360.3 876.2 361.3 C876.5 362.3 877.3 363.7 877.5 364.2" stroke-width="0.80"/>
<path d="M863.2 342.5 C863.6 342.2 864.7 341.0 865.4 340.3 C866.2 339.5 867.0 338.8 867.7 338.0 C868.4 337.2 869.1 336.4 869.7 335.5 C870.3 334.6 870.6 333.0 871.4 332.8 C872.1 332.6 873.8 333.9 874.3 334.1" stroke-width="0.70"/>
<path d="M869.5 460.4 C869.5 460.9 869.5 462.5 869.7 463.6 C869.9 464.6 870.1 465.7 870.5 466.7 C870.8 467.7 871.3 468.7 871.9 469.6 C872.4 470.5 873.5 471.7 873.8 472.1" stroke-width="0.90"/>
<path d="M837.7 257.3 C838.2 257.3 839.8 257.4 840.9 257.2 C841.9 257.0 843.0 255.9 843.9 256.1 C844.7 256.3 845.2 257.9 846.0 258.5 C846.8 259.2 847.8 259.7 848.8 260.1 C849.7 260.5 850.8 260.6 851.9 260.7 C853.0 260.8 854.4 260.1 855.1 260.6 C855.8 261.1 856.1 263.1 856.3 263.6" stroke-width="0.70"/>
<path d="M866.2 286.2 C865.7 286.2 864.1 286.2 863.0 286.2 C861.9 286.1 860.8 286.1 859.8 286.0 C858.7 285.8 857.7 285.6 856.7 285.2 C855.7 284.8 854.3 284.0 853.8 283.8" stroke-width="0.70"/>
<path d="M830.4 423.7 C830.9 423.4 833.0 422.7 833.1 422.0 C833.2 421.3 831.9 420.3 831.2 419.4 C830.6 418.6 829.5 417.4 829.1 417.0" stroke-width="0.90"/>
<path d="M862.1 287.5 C862.1 287.0 861.6 284.7 862.1 284.3 C862.6 283.9 864.2 284.7 865.2 285.1 C866.2 285.5 867.2 286.0 868.0 286.6 C868.9 287.2 869.8 287.9 870.5 288.7 C871.1 289.5 871.6 290.5 872.1 291.5 C872.5 292.4 873.0 293.4 873.2 294.5 C873.4 295.5 872.9 297.0 873.5 297.7 C874.1 298.3 876.1 298.1 876.7 298.2" stroke-width="0.80"/>
<path d="M823.2 422.8 C823.4 423.3 824.0 424.8 824.2 425.8 C824.3 426.9 824.3 428.0 824.1 429.0 C823.9 430.1 823.4 431.1 822.8 432.0 C822.3 432.9 821.0 434.0 820.7 434.3" stroke-width="0.80"/>
<path d="M846.8 307.3 C846.6 306.8 846.2 305.2 845.7 304.3 C845.3 303.3 844.6 302.5 844.0 301.6 C843.3 300.8 842.7 299.9 841.9 299.2 C841.2 298.4 840.4 297.7 839.5 297.1 C838.6 296.5 837.6 296.1 836.6 295.8 C835.6 295.5 833.9 294.8 833.4 295.2 C832.9 295.6 833.0 298.0 833.6 298.4 C834.1 298.8 836.2 297.8 836.7 297.7" stroke-width="0.90"/>
<path d="M894.8 366.2 C894.9 366.7 894.9 368.3 894.9 369.4 C895.0 370.5 895.1 371.5 895.1 372.6 C895.1 373.7 895.1 375.3 895.0 375.8" stroke-width="0.80"/>
<path d="M842.6 318.8 C843.1 318.5 844.3 317.5 845.1 316.8 C845.9 316.1 846.6 315.3 847.4 314.6 C848.2 313.8 849.8 313.2 849.9 312.5 C849.9 311.8 848.3 311.0 847.6 310.2 C846.9 309.4 846.2 308.6 845.4 307.8 C844.7 307.1 843.6 305.9 843.3 305.5" stroke-width="0.70"/>
<path d="M843.5 375.1 C843.7 374.6 844.4 373.2 844.8 372.2 C845.2 371.2 845.4 370.1 845.6 369.1 C845.8 368.0 846.0 367.0 846.0 365.9 C846.0 364.8 845.8 363.8 845.6 362.7 C845.4 361.7 845.2 360.6 844.8 359.6 C844.5 358.6 844.1 357.6 843.6 356.6 C843.2 355.7 842.3 354.3 842.1 353.9" stroke-width="0.70"/>
<path d="M894.5 385.7 C894.3 386.1 893.5 387.5 893.1 388.5 C892.7 389.5 891.8 390.9 892.1 391.6 C892.5 392.2 894.8 391.8 895.2 392.4 C895.7 393.1 895.0 395.1 895.0 395.6" stroke-width="0.70"/>
<path d="M835.5 458.4 C834.9 458.3 833.3 458.1 832.3 458.3 C831.2 458.4 830.2 458.8 829.2 459.2 C828.2 459.6 827.2 460.9 826.4 460.7 C825.6 460.5 825.2 458.8 824.5 458.0 C823.8 457.3 822.8 455.8 822.2 455.9 C821.5 456.0 821.1 457.8 820.8 458.8 C820.5 459.8 820.4 460.9 820.4 462.0 C820.3 463.0 820.6 464.6 820.6 465.1" stroke-width="0.80"/>
<path d="M800.0 282.8 C800.6 282.9 802.2 282.9 803.2 283.1 C804.3 283.3 806.0 283.5 806.3 284.1 C806.5 284.7 805.3 286.0 804.7 286.9 C804.0 287.7 802.7 288.7 802.4 289.1" stroke-width="0.80"/>
<path d="M807.8 326.6 C807.5 326.1 806.5 324.9 806.1 323.9 C805.6 323.0 805.7 321.3 805.0 320.9 C804.3 320.5 802.4 321.4 801.9 321.5" stroke-width="0.80"/>
<path d="M891.9 426.0 C892.2 426.4 893.2 427.7 893.7 428.6 C894.1 429.6 894.4 430.7 894.5 431.7 C894.6 432.8 894.5 433.9 894.3 434.9 C894.0 435.9 893.6 436.9 893.1 437.9 C892.5 438.8 891.9 439.7 891.2 440.4 C890.4 441.2 889.5 441.8 888.5 442.2 C887.6 442.7 886.5 442.9 885.4 443.1 C884.4 443.3 882.8 443.2 882.2 443.2" stroke-width="0.70"/>
<path d="M880.1 310.0 C879.6 310.3 878.3 311.3 877.4 311.7 C876.4 312.1 875.3 312.2 874.2 312.3 C873.2 312.3 872.1 312.2 871.0 312.0 C870.0 311.8 869.0 311.3 868.1 310.8 C867.2 310.2 866.0 309.1 865.5 308.8" stroke-width="0.90"/>
<path d="M808.2 267.7 C807.9 268.2 806.8 269.4 806.3 270.3 C805.8 271.2 806.0 272.8 805.3 273.3 C804.6 273.9 803.1 273.3 802.1 273.5 C801.1 273.8 800.1 274.3 799.2 274.9 C798.4 275.5 797.6 276.3 796.9 277.2 C796.3 278.0 795.7 279.0 795.4 279.9 C795.0 280.9 794.7 282.5 794.6 283.0" stroke-width="0.70"/>
<path d="M860.5 427.8 C860.9 428.1 862.2 429.1 863.0 429.8 C863.7 430.5 864.5 431.4 865.1 432.2 C865.7 433.1 866.2 434.1 866.6 435.0 C867.1 436.0 867.5 437.0 867.9 437.9 C868.3 438.9 868.6 440.0 868.9 441.0 C869.2 442.0 869.5 443.0 869.7 444.1 C870.0 445.1 870.3 446.7 870.4 447.2" stroke-width="0.80"/>
<path d="M862.6 370.1 C862.4 370.6 862.1 372.2 861.7 373.2 C861.4 374.2 860.9 375.1 860.4 376.1 C859.9 377.0 859.3 377.9 858.7 378.8 C858.1 379.7 857.5 380.6 856.8 381.4 C856.2 382.2 855.5 383.0 854.7 383.7 C853.9 384.4 853.0 385.1 852.1 385.6 C851.2 386.1 850.2 386.6 849.2 386.9 C848.2 387.3 846.6 387.5 846.0 387.6" stroke-width="0.70"/>
<path d="M787.6 262.8 C787.7 262.3 787.7 260.2 788.4 259.8 C789.1 259.3 790.5 260.0 791.6 260.0 C792.6 260.0 793.7 259.9 794.8 259.6 C795.8 259.3 796.8 258.8 797.7 258.2 C798.5 257.6 799.3 256.9 800.0 256.1 C800.8 255.3 801.7 254.0 802.0 253.6" stroke-width="0.80"/>
<path d="M860.7 398.2 C860.3 398.6 859.1 399.7 858.3 400.4 C857.5 401.1 856.6 401.7 855.8 402.4 C855.0 403.1 854.2 403.8 853.4 404.5 C852.6 405.2 851.7 405.8 850.9 406.4 C850.0 407.1 849.2 407.8 848.3 408.4 C847.5 409.1 846.6 409.7 845.7 410.2 C844.8 410.8 843.2 411.2 843.0 412.0 C842.8 412.7 844.3 414.3 844.6 414.8" stroke-width="0.90"/>
<path d="M902.5 452.4 C902.5 451.9 902.5 450.3 902.2 449.3 C901.9 448.3 901.4 446.5 900.8 446.4 C900.2 446.3 899.0 448.4 898.6 448.8" stroke-width="0.90"/>
<path d="M810.9 467.7 C810.4 467.9 808.1 468.0 807.8 468.7 C807.5 469.3 808.6 470.7 809.1 471.6 C809.6 472.5 810.3 473.4 810.9 474.3 C811.5 475.1 812.2 476.0 813.0 476.7 C813.7 477.4 815.0 478.4 815.4 478.7" stroke-width="0.80"/>
<path d="M881.6 325.6 C881.3 325.2 880.2 324.0 879.6 323.1 C878.9 322.3 877.4 321.5 877.4 320.7 C877.4 319.9 878.7 318.5 879.5 318.3 C880.4 318.2 881.4 319.4 882.3 320.0 C883.2 320.5 884.9 320.7 885.1 321.5 C885.4 322.2 884.1 323.3 883.7 324.3 C883.4 325.3 883.0 326.9 882.8 327.4" stroke-width="0.70"/>
<path d="M867.5 354.8 C867.4 354.3 867.3 352.7 867.1 351.6 C867.0 350.6 866.8 349.5 866.5 348.5 C866.2 347.5 865.7 346.5 865.2 345.5 C864.8 344.6 864.2 343.7 863.7 342.8 C863.1 341.8 862.2 340.5 861.9 340.0" stroke-width="0.80"/>
<path d="M847.2 470.2 C846.7 470.4 845.1 470.7 844.1 471.0 C843.1 471.3 842.1 471.7 841.1 472.1 C840.1 472.5 839.1 472.9 838.2 473.4 C837.2 473.9 835.9 474.7 835.4 475.0" stroke-width="0.70"/>
<path d="M872.9 325.4 C872.6 325.0 871.8 323.6 871.4 322.6 C871.1 321.6 870.9 320.5 870.8 319.5 C870.6 318.4 870.5 317.3 870.5 316.3 C870.5 315.2 870.8 313.6 870.9 313.1" stroke-width="0.70"/>
<path d="M862.1 426.6 C862.6 426.8 864.7 426.8 865.2 427.5 C865.6 428.2 864.8 429.6 864.7 430.7 C864.7 431.8 864.8 432.8 865.0 433.9 C865.1 434.9 865.4 436.0 865.8 437.0 C866.1 438.0 866.4 439.0 866.8 440.0 C867.3 441.0 867.8 441.9 868.4 442.8 C869.0 443.7 870.0 445.0 870.3 445.4" stroke-width="0.80"/>
<path d="M825.1 427.3 C824.8 427.7 824.1 429.1 823.5 430.1 C822.9 431.0 822.4 431.9 821.8 432.8 C821.2 433.7 820.7 434.6 820.1 435.5 C819.6 436.4 818.7 437.8 818.4 438.2" stroke-width="0.80"/>
<path d="M884.6 446.2 C884.9 445.8 885.9 444.5 886.6 443.7 C887.3 442.9 888.1 442.1 888.7 441.3 C889.3 440.4 889.8 439.5 890.4 438.5 C890.9 437.6 891.4 436.7 891.9 435.7 C892.4 434.8 892.8 433.8 893.2 432.8 C893.5 431.8 893.8 430.8 894.0 429.7 C894.3 428.7 894.5 427.1 894.6 426.6" stroke-width="0.80"/>
<path d="M861.7 420.0 C861.9 420.5 862.6 422.0 862.9 423.0 C863.2 424.0 863.3 425.1 863.5 426.1 C863.6 427.2 863.7 428.8 863.7 429.3" stroke-width="0.90"/>
<path d="M811.0 406.4 C810.5 406.1 809.2 405.1 808.4 404.5 C807.5 403.8 806.7 403.1 805.9 402.5 C805.1 401.8 804.3 401.1 803.4 400.5 C802.6 399.8 801.3 398.8 800.9 398.5" stroke-width="0.80"/>
<path d="M849.3 462.0 C849.2 461.5 848.8 460.0 848.6 458.9 C848.4 457.9 848.2 456.8 848.0 455.8 C847.8 454.7 847.7 453.7 847.4 452.6 C847.1 451.6 846.5 450.1 846.3 449.6" stroke-width="0.70"/>
<path d="M812.3 337.8 C812.6 337.3 813.5 336.0 814.0 335.0 C814.5 334.1 814.9 333.1 815.3 332.1 C815.6 331.1 815.9 330.0 816.0 329.0 C816.1 327.9 816.1 326.8 815.9 325.8 C815.8 324.7 815.5 323.7 815.0 322.7 C814.5 321.8 813.5 320.5 813.2 320.1" stroke-width="0.70"/>
<path d="M815.2 406.2 C815.6 406.6 817.0 407.5 817.8 408.2 C818.6 408.8 819.3 410.4 820.1 410.4 C820.8 410.4 821.7 408.1 822.3 408.1 C823.0 408.2 823.5 409.9 824.1 410.8 C824.7 411.7 825.9 412.9 825.7 413.6 C825.5 414.2 823.2 414.6 822.8 414.8" stroke-width="0.80"/>
<path d="M820.2 257.6 C820.7 257.8 822.2 258.4 823.2 258.8 C824.2 259.2 825.2 259.5 826.2 260.0 C827.1 260.4 828.1 260.9 829.0 261.4 C829.9 262.0 830.7 262.7 831.6 263.4 C832.4 264.0 833.3 264.6 834.1 265.3 C834.9 266.0 836.0 267.2 836.4 267.6" stroke-width="0.90"/>
<path d="M795.9 419.1 C796.2 418.6 797.1 417.2 797.5 416.3 C797.9 415.3 798.3 414.3 798.5 413.2 C798.7 412.2 798.8 411.1 798.8 410.0 C798.8 409.0 799.0 407.2 798.5 406.9 C797.9 406.5 796.4 407.4 795.5 407.9 C794.5 408.3 793.6 408.9 792.7 409.5 C791.8 410.1 791.0 410.8 790.2 411.6 C789.5 412.3 788.6 413.7 788.3 414.1" stroke-width="0.70"/>
<path d="M794.5 384.2 C794.9 384.7 796.0 385.8 796.6 386.7 C797.1 387.6 797.6 388.6 798.1 389.5 C798.5 390.5 799.7 391.7 799.4 392.4 C799.2 393.1 797.5 393.3 796.5 393.6 C795.5 394.0 794.4 394.2 793.4 394.3 C792.3 394.4 791.2 394.4 790.2 394.4 C789.1 394.4 788.0 394.4 787.0 394.3 C785.9 394.2 784.3 394.1 783.8 394.0" stroke-width="0.80"/>
<path d="M822.8 335.6 C823.3 335.7 824.9 335.9 825.9 336.0 C827.0 336.2 828.1 336.3 829.1 336.5 C830.2 336.7 831.2 336.9 832.2 337.2 C833.3 337.4 834.3 337.6 835.3 337.9 C836.4 338.2 837.4 338.5 838.4 338.8 C839.4 339.1 841.0 339.5 841.5 339.7" stroke-width="0.80"/>
<path d="M883.5 381.9 C883.7 382.4 883.8 384.4 884.5 384.9 C885.2 385.3 886.7 384.5 887.7 384.6 C888.8 384.7 889.8 385.0 890.8 385.4 C891.8 385.8 892.7 386.5 893.5 387.1 C894.4 387.7 895.1 389.1 895.9 389.2 C896.8 389.3 897.7 388.0 898.6 387.4 C899.6 386.9 901.1 386.4 901.6 386.2" stroke-width="0.80"/>
<path d="M867.7 316.4 C868.2 316.1 869.6 315.4 870.5 314.8 C871.4 314.2 872.3 313.7 873.2 313.0 C874.0 312.3 874.9 311.7 875.6 310.9 C876.3 310.1 876.9 309.2 877.4 308.2 C877.9 307.3 878.5 305.8 878.7 305.3" stroke-width="0.80"/>
<path d="M856.0 268.5 C856.3 268.0 857.8 266.5 857.7 265.7 C857.5 265.0 855.9 264.5 855.1 263.8 C854.3 263.2 853.4 262.5 852.7 261.7 C852.0 260.9 850.6 259.8 850.8 259.2 C850.9 258.5 853.1 258.0 853.6 257.8" stroke-width="0.90"/>
<path d="M854.8 426.5 C855.3 426.5 856.9 426.5 858.0 426.3 C859.1 426.2 860.8 426.4 861.2 425.8 C861.5 425.2 860.6 423.7 860.3 422.7 C860.0 421.7 859.6 420.2 859.4 419.6" stroke-width="0.90"/>
<path d="M878.4 407.4 C878.7 407.0 879.4 405.5 880.1 404.7 C880.7 403.8 881.5 403.0 882.3 402.4 C883.2 401.8 884.2 401.3 885.2 401.0 C886.2 400.6 887.3 400.5 888.3 400.5 C889.4 400.6 890.5 400.8 891.5 401.2 C892.4 401.7 893.7 402.7 894.1 403.0" stroke-width="0.80"/>
<path d="M796.4 266.6 C796.9 266.4 798.7 265.1 799.4 265.4 C800.1 265.7 800.3 267.4 800.7 268.3 C801.0 269.3 801.4 270.3 801.7 271.4 C802.1 272.4 801.9 274.1 802.6 274.4 C803.3 274.8 805.2 273.8 805.7 273.7" stroke-width="0.80"/>
<path d="M811.8 442.5 C812.3 442.5 813.9 442.4 815.0 442.4 C816.1 442.4 817.7 441.9 818.2 442.5 C818.7 443.0 818.1 444.6 817.9 445.7 C817.7 446.7 817.4 447.7 817.0 448.7 C816.6 449.7 816.1 450.7 815.6 451.6 C815.0 452.5 814.0 453.8 813.7 454.2" stroke-width="0.70"/>
<path d="M794.1 423.8 C794.5 424.2 795.5 426.1 796.3 426.2 C797.1 426.2 798.0 424.9 798.8 424.2 C799.7 423.5 800.4 422.7 801.3 422.1 C802.1 421.4 803.0 420.9 803.9 420.3 C804.8 419.7 805.8 418.4 806.6 418.5 C807.3 418.7 807.8 420.3 808.5 421.1 C809.1 422.0 810.0 423.3 810.3 423.7" stroke-width="0.80"/>
<path d="M820.9 439.3 C821.2 439.0 822.5 438.0 823.2 437.1 C823.9 436.3 824.4 435.4 824.9 434.4 C825.3 433.5 825.7 431.9 825.8 431.4" stroke-width="0.70"/>
<path d="M862.0 311.0 C862.4 311.3 864.4 312.4 864.4 313.0 C864.4 313.7 862.8 314.4 861.9 315.0 C861.1 315.7 860.1 316.2 859.2 316.7 C858.2 317.1 857.2 317.5 856.2 317.8 C855.1 318.0 853.5 318.1 853.0 318.2" stroke-width="0.80"/>
<path d="M827.8 393.6 C828.3 393.3 829.6 392.4 830.4 391.7 C831.3 391.1 832.1 390.4 832.9 389.7 C833.7 389.0 835.2 388.3 835.3 387.6 C835.3 386.8 833.1 385.9 833.1 385.2 C833.2 384.5 834.7 383.8 835.5 383.1 C836.3 382.4 837.9 381.8 838.0 381.0 C838.0 380.3 836.3 378.9 836.0 378.5" stroke-width="0.70"/>
<path d="M804.1 410.3 C804.6 410.5 806.1 411.0 807.0 411.5 C807.9 412.1 808.8 412.8 809.4 413.6 C810.1 414.5 810.5 415.5 810.9 416.5 C811.2 417.5 811.5 419.1 811.6 419.6" stroke-width="0.90"/>
<path d="M893.9 314.4 C893.4 314.5 891.8 314.6 890.7 314.7 C889.6 314.8 888.1 314.3 887.5 314.9 C886.9 315.4 887.4 317.5 887.3 318.1" stroke-width="0.70"/>
<path d="M856.8 294.6 C856.3 294.7 854.7 295.0 853.6 295.1 C852.6 295.1 851.5 295.1 850.4 295.0 C849.4 294.9 848.3 294.6 847.3 294.3 C846.3 294.0 845.2 293.8 844.2 293.4 C843.3 293.0 841.9 292.1 841.4 291.8" stroke-width="0.70"/>
<path d="M822.0 381.1 C821.6 380.8 820.3 378.9 819.6 379.0 C818.9 379.1 818.3 380.7 817.7 381.6 C817.0 382.4 816.4 383.3 815.7 384.1 C815.1 384.9 814.3 385.7 813.7 386.5 C813.0 387.4 812.3 388.2 811.7 389.1 C811.1 390.0 810.3 391.3 810.0 391.8" stroke-width="0.90"/>
<path d="M872.8 421.1 C873.4 421.1 875.0 421.1 876.0 420.8 C877.0 420.6 878.1 420.1 879.0 419.6 C879.9 419.1 880.8 418.5 881.6 417.8 C882.4 417.1 883.1 416.3 883.7 415.4 C884.3 414.5 884.8 413.6 885.2 412.6 C885.5 411.6 885.8 410.0 886.0 409.5" stroke-width="0.70"/>
<path d="M842.2 416.6 C842.7 416.6 844.3 416.7 845.4 416.8 C846.5 416.9 848.2 416.6 848.6 417.2 C849.0 417.8 848.1 419.3 847.8 420.3 C847.4 421.3 846.7 422.7 846.5 423.2" stroke-width="0.70"/>
<path d="M865.6 406.3 C866.1 406.2 867.7 405.7 868.6 405.2 C869.6 404.7 870.4 404.1 871.3 403.5 C872.2 402.9 873.1 402.3 873.8 401.5 C874.6 400.8 875.2 399.2 876.0 399.1 C876.8 399.0 877.7 400.4 878.6 400.9 C879.6 401.4 880.5 401.9 881.5 402.3 C882.5 402.7 884.1 403.1 884.6 403.3" stroke-width="0.90"/>
<path d="M828.6 251.4 C828.9 251.8 829.9 253.1 830.6 253.9 C831.4 254.6 832.3 255.3 833.1 255.9 C834.0 256.5 834.9 257.0 835.9 257.5 C836.9 257.9 838.4 258.4 838.9 258.6" stroke-width="0.70"/>
<path d="M829.1 256.9 C829.1 256.4 828.8 254.7 828.9 253.7 C829.0 252.6 829.2 251.6 829.6 250.6 C830.0 249.6 831.4 248.6 831.2 247.8 C831.1 247.0 829.6 246.5 828.9 245.7 C828.2 244.9 827.3 243.5 827.0 243.1" stroke-width="0.80"/>
<path d="M798.9 295.9 C799.0 295.4 799.6 293.8 799.6 292.8 C799.7 291.7 799.5 290.6 799.2 289.6 C798.9 288.6 798.0 287.2 797.8 286.7" stroke-width="0.90"/>
<path d="M864.3 310.1 C863.8 309.9 862.3 309.2 861.3 309.1 C860.3 308.9 859.1 309.0 858.1 309.2 C857.1 309.4 856.0 309.7 855.1 310.2 C854.1 310.7 853.3 311.4 852.6 312.2 C851.9 313.0 850.6 314.3 850.8 314.9 C851.0 315.5 853.4 315.8 853.9 315.9" stroke-width="0.80"/>
<path d="M847.8 344.3 C848.1 344.7 849.0 346.0 849.5 347.0 C849.9 347.9 850.9 349.4 850.6 350.0 C850.3 350.6 848.5 350.6 847.5 350.7 C846.4 350.8 845.3 350.9 844.3 350.7 C843.2 350.5 842.2 350.2 841.2 349.7 C840.3 349.3 839.4 348.6 838.5 348.0 C837.7 347.3 836.6 346.2 836.2 345.8" stroke-width="0.90"/>
<path d="M797.0 419.7 C796.6 419.4 795.4 418.3 794.6 417.7 C793.7 417.1 792.7 416.6 791.7 416.3 C790.7 415.9 789.1 416.0 788.6 415.4 C788.2 414.7 788.9 413.2 788.9 412.2 C788.9 411.1 788.8 410.0 788.6 409.0 C788.4 407.9 788.1 406.9 787.7 405.9 C787.3 404.9 786.9 404.0 786.4 403.0 C785.9 402.0 785.2 400.6 784.9 400.2" stroke-width="0.80"/>
<path d="M853.7 402.7 C853.3 403.1 852.5 404.5 851.7 405.2 C850.9 406.0 850.0 406.5 849.0 407.0 C848.1 407.5 847.0 407.8 846.0 408.1 C845.0 408.3 843.5 407.9 842.8 408.5 C842.2 409.1 842.6 410.7 842.3 411.7 C842.0 412.7 841.5 413.7 841.0 414.6 C840.5 415.5 839.7 417.2 839.0 417.2 C838.4 417.1 837.5 415.0 837.2 414.6" stroke-width="0.80"/>
<path d="M857.7 461.5 C858.1 461.9 859.3 462.9 860.0 463.7 C860.7 464.5 861.3 465.4 861.9 466.3 C862.5 467.2 863.1 468.1 863.5 469.0 C864.0 470.0 864.3 471.0 864.6 472.0 C864.9 473.0 865.8 474.5 865.4 475.1 C865.0 475.8 863.3 475.6 862.3 475.8 C861.2 476.0 859.6 476.2 859.1 476.2" stroke-width="0.70"/>
<path d="M800.4 284.6 C800.6 285.2 801.7 287.0 801.4 287.7 C801.0 288.4 799.4 288.4 798.4 288.9 C797.4 289.3 796.4 289.7 795.5 290.3 C794.7 290.9 793.9 291.7 793.1 292.4 C792.4 293.2 791.6 293.9 790.9 294.8 C790.2 295.6 788.8 296.7 789.0 297.3 C789.2 297.9 790.9 298.2 791.9 298.6 C792.9 298.9 794.5 299.3 795.0 299.4" stroke-width="0.70"/>
<path d="M858.5 353.8 C858.0 353.7 856.4 353.1 855.4 352.8 C854.4 352.5 853.4 352.2 852.3 352.0 C851.3 351.7 850.2 351.6 849.2 351.3 C848.2 351.1 847.1 350.9 846.1 350.6 C845.0 350.4 843.5 350.0 843.0 349.8" stroke-width="0.70"/>
<path d="M890.9 312.0 C891.3 312.3 893.3 313.6 893.2 314.2 C893.1 314.9 891.4 315.4 890.5 315.9 C889.5 316.4 888.6 316.8 887.5 317.2 C886.5 317.5 885.5 317.7 884.4 317.8 C883.4 317.9 881.8 317.3 881.2 317.9 C880.6 318.4 880.9 320.0 880.6 321.0 C880.3 322.0 879.6 323.5 879.3 324.0" stroke-width="0.90"/>
<path d="M903.0 388.8 C902.5 389.0 901.2 389.9 900.2 390.4 C899.2 390.8 898.2 391.1 897.1 391.3 C896.1 391.5 895.0 391.6 893.9 391.5 C892.9 391.5 891.8 391.4 890.8 391.2 C889.7 390.9 888.7 390.4 887.8 390.0 C886.8 389.5 885.9 389.0 885.0 388.4 C884.2 387.7 883.3 387.1 882.5 386.3 C881.8 385.6 880.8 384.3 880.4 383.9" stroke-width="0.70"/>
<path d="M788.0 405.5 C788.5 405.7 789.8 406.6 790.7 407.1 C791.7 407.6 792.7 408.0 793.7 408.4 C794.7 408.7 796.2 409.2 796.7 409.3" stroke-width="0.80"/>
<path d="M803.1 255.6 C802.6 255.9 801.2 256.7 800.3 257.3 C799.4 257.8 798.5 258.4 797.7 259.1 C796.9 259.8 796.1 260.5 795.4 261.3 C794.7 262.1 793.2 263.1 793.4 263.8 C793.5 264.5 795.2 264.9 796.2 265.3 C797.2 265.7 798.2 266.1 799.2 266.4 C800.2 266.8 801.2 267.2 802.2 267.4 C803.3 267.6 804.9 267.7 805.4 267.8" stroke-width="0.80"/>
<path d="M851.6 273.3 C851.2 273.0 849.9 272.1 849.0 271.5 C848.1 271.0 846.5 270.8 846.2 270.0 C845.9 269.2 846.5 267.3 847.2 267.0 C847.9 266.6 849.2 267.5 850.3 267.8 C851.3 268.0 852.9 268.1 853.4 268.2" stroke-width="0.70"/>
<path d="M786.0 321.5 C785.4 321.5 783.8 321.1 782.8 321.1 C781.7 321.1 780.6 321.3 779.6 321.5 C778.6 321.7 777.5 322.1 776.5 322.5 C775.6 322.9 774.6 323.3 773.7 323.9 C772.8 324.5 771.1 325.3 771.2 325.9 C771.2 326.5 772.9 327.2 773.8 327.6 C774.8 328.1 776.4 328.5 776.9 328.6" stroke-width="0.80"/>
<path d="M826.1 414.8 C825.7 414.6 824.2 413.9 823.2 413.5 C822.3 413.1 821.2 412.8 820.2 412.5 C819.2 412.1 818.2 411.8 817.2 411.4 C816.2 411.0 815.2 410.6 814.2 410.2 C813.3 409.8 812.3 409.3 811.3 408.9 C810.4 408.4 809.4 407.9 808.4 407.4 C807.5 407.0 805.9 406.5 805.4 406.3" stroke-width="0.80"/>
<path d="M885.3 334.8 C885.6 334.4 886.8 333.2 887.3 332.3 C887.8 331.3 888.2 330.3 888.4 329.3 C888.6 328.2 888.8 327.1 888.7 326.1 C888.7 325.0 888.4 323.9 888.1 323.0 C887.7 322.0 887.1 321.0 886.5 320.2 C885.8 319.3 885.2 318.4 884.3 317.8 C883.5 317.2 882.0 316.6 881.5 316.3" stroke-width="0.90"/>
<path d="M804.2 250.9 C804.6 250.5 806.5 249.6 806.6 248.8 C806.7 248.0 805.3 247.1 804.7 246.2 C804.1 245.3 803.5 244.5 802.9 243.6 C802.3 242.7 801.8 241.8 801.3 240.8 C800.8 239.9 800.2 238.4 800.0 237.9" stroke-width="0.70"/>
<path d="M784.6 280.5 C785.1 280.6 786.6 281.2 787.6 281.4 C788.7 281.6 789.7 281.8 790.8 281.8 C791.9 281.8 793.0 281.7 794.0 281.5 C795.0 281.2 796.0 280.7 796.9 280.2 C797.8 279.6 798.7 278.3 799.5 278.3 C800.4 278.4 801.8 279.5 802.0 280.3 C802.2 281.2 800.8 282.7 800.6 283.2" stroke-width="0.90"/>
<path d="M788.8 383.0 C788.4 383.4 787.1 385.3 786.4 385.2 C785.8 385.1 785.3 383.3 784.9 382.4 C784.4 381.4 784.1 380.4 783.9 379.3 C783.7 378.3 783.7 377.2 783.8 376.1 C783.9 375.1 784.1 374.0 784.3 373.0 C784.6 371.9 785.1 370.4 785.2 369.9" stroke-width="0.90"/>
<path d="M859.2 343.7 C858.6 343.5 857.1 342.9 856.1 342.8 C855.0 342.6 853.6 343.3 852.9 342.8 C852.2 342.3 852.4 340.7 852.1 339.7 C851.7 338.7 850.5 337.6 850.7 336.8 C850.9 336.0 853.3 335.6 853.3 334.9 C853.3 334.3 851.6 333.6 850.7 333.1 C849.8 332.6 848.2 332.1 847.8 331.9" stroke-width="0.90"/>
<path d="M813.0 300.7 C813.1 301.2 813.7 302.7 814.0 303.7 C814.3 304.7 815.1 306.3 814.7 306.8 C814.3 307.3 812.0 306.9 811.5 306.9" stroke-width="0.90"/>
<path d="M811.3 264.9 C810.8 265.0 809.3 265.5 808.2 265.6 C807.2 265.8 805.7 265.4 805.0 265.9 C804.4 266.5 804.9 268.8 804.3 269.1 C803.7 269.3 802.4 268.1 801.5 267.5 C800.6 266.9 799.7 266.3 799.0 265.6 C798.2 264.8 797.4 263.4 797.1 263.0" stroke-width="0.70"/>
<path d="M833.2 382.5 C833.4 382.0 833.9 380.5 834.3 379.5 C834.7 378.5 835.1 377.5 835.6 376.6 C836.1 375.7 836.7 374.8 837.3 373.9 C838.0 373.1 838.6 372.2 839.3 371.4 C840.0 370.6 840.7 369.8 841.4 369.0 C842.1 368.2 842.9 367.5 843.8 366.8 C844.6 366.2 845.5 365.6 846.4 365.1 C847.3 364.5 848.7 363.6 849.1 363.3" stroke-width="0.70"/>
<path d="M803.1 374.7 C803.6 374.7 805.8 375.5 806.3 375.1 C806.7 374.6 806.1 372.9 805.8 371.9 C805.6 370.9 805.2 369.8 804.8 368.9 C804.3 367.9 802.9 367.1 803.0 366.2 C803.1 365.4 804.8 364.2 805.1 363.8" stroke-width="0.80"/>
<path d="M828.1 382.2 C827.9 382.7 827.5 384.2 827.2 385.2 C826.9 386.3 826.5 387.3 826.2 388.3 C825.9 389.3 825.5 390.3 825.1 391.3 C824.7 392.3 824.0 393.7 823.8 394.2" stroke-width="0.70"/>
<path d="M865.2 345.5 C865.7 345.2 867.0 344.4 867.8 343.7 C868.7 343.0 869.5 342.3 870.1 341.5 C870.8 340.7 871.4 339.7 871.9 338.8 C872.5 337.9 873.6 336.6 873.3 335.9 C873.0 335.3 871.3 335.2 870.2 335.0 C869.2 334.8 867.6 335.0 867.0 335.0" stroke-width="0.90"/>
<path d="M892.1 298.4 C891.7 298.7 890.3 299.6 889.6 300.3 C888.9 301.1 888.3 302.1 887.8 303.0 C887.3 304.0 886.4 305.4 886.7 306.0 C887.1 306.6 888.8 306.5 889.9 306.5 C891.0 306.6 892.6 306.5 893.1 306.4" stroke-width="0.80"/>
<path d="M903.8 429.2 C903.5 428.8 902.6 427.4 902.1 426.5 C901.5 425.6 900.8 424.8 900.2 423.9 C899.6 423.0 898.9 422.2 898.4 421.3 C897.8 420.4 897.0 419.0 896.7 418.6" stroke-width="0.80"/>
<path d="M835.3 293.3 C834.8 293.1 833.3 292.5 832.5 291.9 C831.6 291.3 830.8 290.5 830.1 289.7 C829.4 288.9 828.7 287.5 828.4 287.0" stroke-width="0.70"/>
<path d="M843.2 432.6 C843.3 432.1 843.4 430.5 843.7 429.5 C843.9 428.5 844.3 427.4 844.7 426.5 C845.2 425.5 846.0 424.1 846.2 423.6" stroke-width="0.80"/>
<path d="M887.7 459.1 C888.3 459.2 890.3 460.0 890.9 459.5 C891.5 459.0 891.2 457.4 891.3 456.3 C891.3 455.2 891.2 454.2 891.2 453.1 C891.2 452.0 891.2 451.0 891.1 449.9 C891.0 448.9 890.7 447.3 890.6 446.7" stroke-width="0.70"/>
<path d="M812.4 336.0 C812.5 335.5 813.7 333.7 813.4 333.0 C813.1 332.3 811.5 332.1 810.5 331.6 C809.5 331.1 808.6 330.7 807.6 330.3 C806.6 329.8 805.2 329.2 804.7 328.9" stroke-width="0.90"/>
<path d="M900.5 335.9 C901.1 336.0 902.7 336.2 903.7 336.4 C904.7 336.7 905.8 337.0 906.7 337.4 C907.7 337.9 908.6 338.4 909.5 339.0 C910.4 339.7 911.5 340.8 912.0 341.1" stroke-width="0.90"/>
<path d="M861.1 436.7 C861.6 436.7 863.2 436.9 864.3 437.0 C865.3 437.1 866.4 437.1 867.5 437.1 C868.5 437.1 869.6 437.1 870.7 437.0 C871.7 437.0 872.8 437.1 873.9 436.9 C874.9 436.8 876.3 435.8 877.0 436.2 C877.6 436.6 877.7 438.7 877.8 439.3" stroke-width="0.80"/>
<path d="M872.9 299.9 C872.5 300.3 871.1 302.1 870.4 301.9 C869.8 301.8 868.6 299.8 868.8 299.2 C869.0 298.6 870.8 298.5 871.9 298.3 C872.9 298.0 874.5 297.4 875.1 297.9 C875.6 298.4 875.1 300.0 875.0 301.1 C875.0 302.2 874.8 303.8 874.7 304.3" stroke-width="0.70"/>
<path d="M845.9 362.2 C846.5 362.2 848.1 362.1 849.1 362.0 C850.2 362.0 851.3 362.0 852.3 361.9 C853.4 361.9 854.5 361.8 855.5 361.7 C856.6 361.6 857.6 361.4 858.7 361.2 C859.7 361.0 861.3 360.6 861.8 360.5" stroke-width="0.80"/>
<path d="M796.5 416.0 C796.3 416.4 795.6 417.9 795.1 418.9 C794.7 419.8 793.7 421.3 794.0 421.9 C794.4 422.4 796.7 422.3 797.2 422.4" stroke-width="0.70"/>
<path d="M830.8 292.3 C830.8 292.8 831.4 294.9 830.9 295.5 C830.4 296.1 828.8 295.6 827.8 295.9 C826.7 296.1 825.2 296.7 824.7 296.9" stroke-width="0.90"/>
<path d="M799.0 318.9 C799.1 318.4 799.2 316.8 799.4 315.7 C799.6 314.7 799.8 313.6 800.2 312.6 C800.6 311.6 801.1 310.6 801.8 309.8 C802.5 309.0 803.4 308.4 804.3 307.8 C805.1 307.2 806.1 306.6 807.0 306.2 C808.0 305.8 809.1 305.5 810.1 305.3 C811.2 305.1 812.8 305.2 813.3 305.2" stroke-width="0.80"/>
<path d="M880.5 343.2 C880.8 342.8 881.8 341.5 882.3 340.6 C882.8 339.6 882.8 338.1 883.5 337.6 C884.2 337.1 885.6 337.8 886.7 337.7 C887.7 337.6 888.8 337.5 889.8 337.1 C890.8 336.7 891.8 336.2 892.6 335.5 C893.4 334.9 894.1 334.0 894.7 333.1 C895.2 332.2 895.7 331.2 895.9 330.1 C896.1 329.1 896.0 327.5 896.1 326.9" stroke-width="0.80"/>
<path d="M785.9 340.2 C785.4 340.5 784.2 341.6 783.3 342.1 C782.4 342.7 781.4 343.2 780.5 343.6 C779.5 344.0 778.5 344.4 777.4 344.7 C776.4 344.9 774.8 344.6 774.3 345.2 C773.8 345.8 774.5 347.3 774.5 348.4 C774.5 349.4 774.4 350.5 774.2 351.6 C774.1 352.6 773.7 353.6 773.4 354.7 C773.1 355.7 772.4 357.1 772.2 357.6" stroke-width="0.80"/>
<path d="M826.1 375.4 C825.5 375.5 823.9 375.8 822.9 376.0 C821.9 376.3 820.9 376.7 819.9 377.1 C818.9 377.5 817.9 377.9 817.0 378.4 C816.1 378.9 815.2 379.6 814.4 380.3 C813.5 380.9 812.8 381.7 812.0 382.4 C811.3 383.2 810.3 384.5 809.9 384.9" stroke-width="0.90"/>
<path d="M804.1 336.0 C803.6 335.9 802.0 335.7 800.9 335.6 C799.9 335.5 798.2 336.0 797.7 335.4 C797.3 334.9 798.0 333.3 798.1 332.2 C798.2 331.2 797.8 329.6 798.4 329.1 C799.0 328.6 801.0 329.8 801.6 329.3 C802.2 328.8 802.0 326.6 802.0 326.1" stroke-width="0.70"/>
<path d="M903.3 439.8 C902.9 440.2 901.9 441.4 901.1 442.1 C900.2 442.8 899.3 443.3 898.4 443.8 C897.4 444.3 896.4 444.8 895.4 445.1 C894.4 445.5 892.8 445.7 892.3 445.8" stroke-width="0.90"/>
<path d="M826.0 280.0 C826.4 280.4 828.3 281.3 828.5 282.1 C828.6 282.9 827.7 284.7 827.0 284.9 C826.2 285.1 825.1 283.9 824.1 283.5 C823.1 283.1 822.0 282.9 821.0 282.7 C820.0 282.4 818.9 282.1 817.9 282.0 C816.8 281.8 815.8 281.7 814.7 281.7 C813.6 281.6 812.6 281.7 811.5 281.7 C810.4 281.8 808.8 281.9 808.3 281.9" stroke-width="0.80"/>
<path d="M819.7 339.1 C819.9 338.6 820.3 337.0 820.7 336.0 C821.1 335.1 821.5 334.0 822.1 333.2 C822.6 332.3 823.4 331.5 824.2 330.7 C824.9 330.0 825.8 329.4 826.7 328.8 C827.5 328.1 828.5 327.6 829.4 327.1 C830.3 326.6 831.9 326.4 832.3 325.7 C832.6 324.9 831.7 323.6 831.5 322.6 C831.2 321.5 831.0 319.9 830.9 319.4" stroke-width="0.70"/>
<path d="M806.0 325.2 C806.5 325.5 808.4 326.9 808.9 326.5 C809.5 326.2 809.4 324.4 809.4 323.4 C809.4 322.3 809.3 321.2 809.0 320.2 C808.6 319.2 807.7 317.8 807.5 317.4" stroke-width="0.90"/>
<path d="M843.4 285.8 C843.1 285.4 842.4 283.9 841.7 283.1 C841.0 282.3 839.4 281.8 839.2 281.1 C839.1 280.3 840.5 279.3 840.9 278.3 C841.4 277.4 842.3 275.8 841.9 275.3 C841.5 274.8 839.7 275.1 838.7 275.2 C837.6 275.2 836.0 275.5 835.5 275.5" stroke-width="0.70"/>
<path d="M856.9 424.5 C857.4 424.6 859.0 424.7 860.1 424.8 C861.2 424.8 862.6 425.4 863.3 424.9 C863.9 424.4 863.7 422.8 864.0 421.8 C864.2 420.8 864.4 419.7 864.7 418.7 C865.1 417.7 866.3 416.5 866.0 415.8 C865.7 415.1 863.7 414.2 863.0 414.5 C862.4 414.8 862.1 417.0 861.9 417.5" stroke-width="0.80"/>
<path d="M884.5 334.6 C884.2 335.0 883.3 336.3 882.8 337.3 C882.3 338.2 882.0 339.3 881.6 340.2 C881.2 341.2 880.8 342.2 880.4 343.2 C880.1 344.2 879.8 345.3 879.5 346.3 C879.2 347.3 878.7 348.8 878.6 349.3" stroke-width="0.70"/>
<path d="M800.4 298.8 C799.9 298.9 798.4 299.3 797.4 299.7 C796.4 300.1 795.3 301.3 794.5 301.1 C793.7 300.9 793.3 299.3 792.6 298.5 C791.9 297.7 791.0 297.0 790.2 296.5 C789.3 295.9 787.8 295.2 787.3 295.0" stroke-width="0.90"/>
<path d="M786.2 297.5 C786.6 297.8 787.9 298.8 788.7 299.5 C789.5 300.3 790.2 301.1 790.9 301.9 C791.5 302.7 792.2 303.6 792.7 304.5 C793.2 305.5 793.1 307.1 793.9 307.5 C794.6 307.9 795.9 307.0 797.0 306.8 C798.0 306.6 799.1 306.5 800.1 306.4 C801.2 306.4 802.3 306.4 803.3 306.5 C804.4 306.6 806.0 307.1 806.5 307.2" stroke-width="0.80"/>
<path d="M786.0 461.4 C785.7 461.7 784.4 462.8 783.7 463.5 C783.0 464.3 782.2 465.1 781.6 466.0 C781.0 466.9 780.5 467.9 780.2 468.9 C779.9 469.9 779.7 471.5 779.7 472.0" stroke-width="0.70"/>
<path d="M805.7 271.5 C805.6 271.0 805.2 269.4 805.1 268.3 C805.1 267.3 805.2 266.2 805.4 265.2 C805.6 264.1 805.8 263.0 806.2 262.1 C806.6 261.1 807.3 259.4 807.9 259.4 C808.6 259.3 810.2 261.1 810.1 261.8 C810.0 262.5 808.3 263.0 807.3 263.5 C806.4 263.9 804.8 263.6 804.3 264.3 C803.7 265.0 804.1 267.0 804.1 267.5" stroke-width="0.70"/>
<path d="M791.4 311.8 C791.4 311.2 791.4 309.6 791.4 308.6 C791.4 307.5 791.4 306.4 791.5 305.4 C791.5 304.3 791.7 303.3 791.7 302.2 C791.8 301.1 791.9 300.1 792.0 299.0 C792.1 297.9 792.3 296.9 792.4 295.8 C792.6 294.8 792.1 293.1 792.7 292.6 C793.3 292.2 794.8 293.0 795.9 293.2 C796.9 293.4 798.5 293.7 799.0 293.8" stroke-width="0.70"/>
<path d="M803.3 410.8 C803.6 411.3 804.3 413.5 804.9 413.6 C805.6 413.7 806.3 411.4 807.2 411.3 C808.0 411.1 809.6 412.4 810.1 412.6" stroke-width="0.70"/>
<path d="M823.4 436.7 C822.9 436.5 821.4 435.9 820.5 435.5 C819.5 435.1 818.4 434.7 817.4 434.4 C816.4 434.0 815.4 433.6 814.4 433.3 C813.4 432.9 812.4 432.5 811.4 432.2 C810.4 431.9 809.4 431.5 808.4 431.3 C807.3 431.0 806.3 430.8 805.3 430.5 C804.2 430.3 803.2 429.9 802.2 429.7 C801.1 429.4 799.6 429.1 799.0 429.0" stroke-width="0.80"/>
<path d="M876.1 456.7 C875.9 457.1 874.6 458.9 874.9 459.6 C875.2 460.3 876.9 460.4 877.9 460.8 C878.9 461.2 879.9 461.7 880.8 462.1 C881.8 462.5 882.8 463.0 883.7 463.5 C884.6 464.0 885.6 464.6 886.5 465.1 C887.4 465.6 888.4 466.0 889.4 466.5 C890.3 467.0 891.7 467.7 892.2 467.9" stroke-width="0.90"/>
<path d="M821.3 388.3 C821.7 388.6 823.1 389.5 823.9 390.2 C824.7 390.9 825.4 391.7 826.1 392.5 C826.7 393.4 827.3 394.3 827.6 395.3 C828.0 396.3 828.1 397.9 828.2 398.4" stroke-width="0.90"/>
<path d="M844.0 338.9 C843.5 338.7 842.0 338.2 841.0 337.8 C840.0 337.4 838.7 336.3 838.0 336.6 C837.3 336.9 837.1 339.1 836.9 339.6" stroke-width="0.90"/>
<path d="M884.6 426.4 C885.0 426.1 886.4 425.2 887.2 424.5 C888.0 423.8 888.7 423.0 889.4 422.2 C890.0 421.3 891.2 420.1 891.0 419.4 C890.8 418.7 889.0 418.5 888.0 418.1 C887.1 417.7 886.1 417.3 885.0 417.0 C884.0 416.7 883.0 416.5 881.9 416.4 C880.9 416.3 879.8 416.2 878.7 416.2 C877.7 416.1 876.0 416.1 875.5 416.1" stroke-width="0.90"/>
<path d="M801.7 300.2 C801.6 300.8 801.5 302.4 801.5 303.4 C801.4 304.5 800.9 306.2 801.4 306.6 C802.0 307.1 803.6 306.5 804.6 306.4 C805.7 306.2 806.7 306.0 807.8 305.7 C808.8 305.4 809.8 305.0 810.8 304.6 C811.7 304.1 813.0 303.2 813.5 302.9" stroke-width="0.80"/>
<path d="M860.6 354.1 C860.3 354.6 859.2 355.8 858.7 356.7 C858.1 357.6 857.0 359.0 857.3 359.5 C857.5 360.1 859.3 360.1 860.4 360.2 C861.4 360.3 862.8 359.6 863.6 360.0 C864.3 360.5 864.6 362.5 864.8 363.0" stroke-width="0.90"/>
<path d="M822.4 252.6 C822.9 252.8 824.4 253.4 825.3 254.0 C826.1 254.6 826.9 255.5 827.5 256.3 C828.2 257.1 828.4 258.7 829.2 259.0 C830.0 259.3 831.2 258.3 832.3 258.1 C833.3 257.9 835.0 257.5 835.5 258.0 C835.9 258.6 835.2 260.2 834.8 261.2 C834.5 262.2 833.7 263.6 833.5 264.1" stroke-width="0.70"/>
<path d="M823.8 462.4 C823.7 462.9 823.3 464.5 823.0 465.5 C822.7 466.5 822.3 467.5 822.0 468.5 C821.7 469.6 821.4 470.6 821.2 471.6 C820.9 472.7 820.6 473.7 820.3 474.7 C820.0 475.7 819.7 476.8 819.3 477.8 C818.9 478.8 818.5 479.7 818.0 480.7 C817.5 481.6 816.2 482.7 816.4 483.4 C816.5 484.2 818.7 484.8 819.1 485.1" stroke-width="0.70"/>
<path d="M804.4 469.0 C804.0 468.6 802.7 467.6 801.9 466.9 C801.2 466.2 800.4 465.4 799.7 464.6 C799.0 463.9 798.3 463.0 797.6 462.2 C797.0 461.4 796.0 460.0 795.7 459.6" stroke-width="0.80"/>
<path d="M813.1 449.9 C812.6 449.8 811.0 449.3 809.9 449.2 C808.9 449.1 807.8 449.1 806.7 449.2 C805.7 449.2 804.1 449.5 803.6 449.5" stroke-width="0.80"/>
<path d="M882.2 295.7 C881.8 295.4 880.4 294.6 879.4 294.2 C878.4 293.8 877.3 293.6 876.3 293.5 C875.2 293.4 874.1 293.5 873.1 293.7 C872.0 293.9 871.0 294.2 870.0 294.6 C869.1 295.1 868.2 295.8 867.4 296.5 C866.7 297.2 865.7 298.5 865.3 298.9" stroke-width="0.80"/>
<path d="M895.9 388.0 C895.7 388.5 894.9 389.9 894.5 390.9 C894.2 391.9 893.9 393.0 893.7 394.0 C893.5 395.1 893.3 396.6 893.2 397.2" stroke-width="0.70"/>
<path d="M869.1 344.0 C868.8 344.5 867.9 345.8 867.5 346.8 C867.0 347.7 867.3 349.4 866.6 349.9 C865.9 350.3 864.5 349.5 863.4 349.5 C862.4 349.5 861.3 349.5 860.2 349.6 C859.2 349.8 858.1 349.9 857.1 350.2 C856.1 350.5 854.6 351.2 854.1 351.4" stroke-width="0.80"/>
<path d="M809.9 293.1 C809.5 292.7 808.3 291.6 807.6 290.8 C806.9 290.0 806.2 289.2 805.7 288.3 C805.1 287.4 804.5 286.5 804.1 285.5 C803.6 284.5 802.7 283.1 803.0 282.5 C803.4 281.9 805.1 282.0 806.2 281.9 C807.2 281.7 808.3 281.6 809.4 281.5 C810.4 281.3 812.0 281.1 812.5 281.1" stroke-width="0.80"/>
<path d="M818.9 461.7 C818.7 461.2 818.4 459.6 818.0 458.7 C817.7 457.7 817.2 456.7 816.6 455.8 C816.0 454.9 815.3 454.1 814.5 453.4 C813.8 452.6 812.9 451.9 812.0 451.4 C811.1 450.9 810.1 450.5 809.0 450.1 C808.0 449.8 806.4 449.7 805.9 449.6" stroke-width="0.90"/>
<path d="M801.3 245.9 C801.3 245.3 801.3 243.7 801.2 242.7 C801.1 241.6 800.8 240.6 800.6 239.5 C800.3 238.5 800.0 237.4 799.7 236.5 C799.3 235.5 798.7 234.5 798.2 233.6 C797.7 232.6 797.3 231.7 796.7 230.8 C796.1 229.9 795.5 228.3 794.8 228.2 C794.1 228.1 792.9 230.0 792.5 230.4" stroke-width="0.80"/>
<path d="M838.9 369.3 C838.4 369.3 836.8 369.7 835.8 369.7 C834.7 369.8 833.6 369.8 832.6 369.5 C831.5 369.3 830.1 368.6 829.6 368.4" stroke-width="0.70"/>
<path d="M828.8 303.5 C828.4 303.9 827.4 305.1 826.7 305.9 C826.0 306.8 825.4 307.6 824.7 308.4 C824.0 309.2 823.3 310.0 822.6 310.8 C821.9 311.6 821.1 312.3 820.4 313.2 C819.7 314.0 818.3 314.9 818.4 315.7 C818.5 316.4 820.0 317.1 820.9 317.7 C821.7 318.4 823.0 319.4 823.4 319.7" stroke-width="0.90"/>
<path d="M853.6 394.4 C853.6 394.9 853.3 396.5 853.2 397.6 C853.2 398.6 853.3 399.7 853.5 400.8 C853.7 401.8 854.0 402.9 854.5 403.8 C854.9 404.8 855.5 405.7 856.0 406.6 C856.6 407.5 857.6 408.8 857.9 409.2" stroke-width="0.90"/>
<path d="M844.1 323.3 C843.6 323.2 842.1 322.7 841.1 322.3 C840.1 322.0 839.1 321.6 838.1 321.3 C837.1 320.9 836.1 320.5 835.2 320.0 C834.2 319.5 833.3 318.9 832.4 318.3 C831.5 317.7 830.6 317.2 829.7 316.6 C828.9 315.9 828.0 315.3 827.3 314.6 C826.5 313.8 825.5 312.6 825.1 312.2" stroke-width="0.70"/>
<path d="M842.6 395.2 C842.9 394.7 844.3 392.8 844.0 392.3 C843.7 391.7 841.9 391.7 840.8 391.7 C839.8 391.6 838.7 391.6 837.6 391.8 C836.6 392.0 835.5 392.4 834.6 392.8 C833.7 393.3 832.7 393.9 832.0 394.7 C831.2 395.4 830.5 396.2 829.9 397.1 C829.4 398.0 829.3 399.6 828.5 400.0 C827.8 400.4 825.9 399.8 825.4 399.7" stroke-width="0.70"/>
<path d="M839.5 307.1 C839.0 307.0 836.9 307.2 836.3 306.6 C835.8 306.0 836.3 304.5 836.2 303.4 C836.0 302.4 836.0 300.6 835.4 300.3 C834.8 300.0 833.4 301.2 832.5 301.7 C831.6 302.2 830.3 303.2 829.8 303.5" stroke-width="0.80"/>
<path d="M849.0 444.2 C849.4 443.8 850.5 442.7 851.3 442.0 C852.1 441.2 852.9 440.5 853.6 439.7 C854.4 439.0 855.0 438.2 855.7 437.4 C856.5 436.6 857.1 435.7 857.8 434.9 C858.5 434.1 859.3 433.4 860.0 432.6 C860.7 431.8 861.3 430.9 862.0 430.1 C862.6 429.2 863.2 428.3 863.8 427.4 C864.3 426.5 865.0 425.1 865.3 424.6" stroke-width="0.90"/>
<path d="M805.5 441.5 C805.8 441.0 806.6 439.7 807.0 438.7 C807.5 437.7 807.9 436.7 808.3 435.7 C808.6 434.7 808.9 433.7 809.2 432.7 C809.6 431.7 809.6 430.0 810.2 429.7 C810.9 429.3 812.3 430.2 813.4 430.4 C814.4 430.7 815.4 430.9 816.5 431.1 C817.5 431.3 818.6 431.5 819.6 431.6 C820.7 431.8 822.3 432.0 822.8 432.1" stroke-width="0.70"/>
<path d="M847.4 266.1 C847.8 265.8 849.0 264.7 849.9 264.2 C850.8 263.6 851.9 263.2 852.8 262.8 C853.8 262.5 854.9 262.2 855.9 261.9 C856.9 261.6 858.0 261.4 859.0 261.1 C860.1 260.9 861.1 260.7 862.2 260.5 C863.2 260.3 864.8 260.2 865.3 260.1" stroke-width="0.80"/>
<path d="M862.2 428.5 C862.8 428.4 864.4 428.2 865.4 428.2 C866.5 428.2 867.6 428.3 868.6 428.4 C869.7 428.4 870.7 428.5 871.8 428.6 C872.9 428.7 873.9 428.8 875.0 428.9 C876.1 429.0 877.5 429.8 878.2 429.4 C878.8 428.9 879.1 426.9 878.7 426.2 C878.2 425.5 876.6 425.7 875.6 425.3 C874.6 425.0 873.1 424.3 872.6 424.1" stroke-width="0.70"/>
<path d="M860.0 411.7 C860.5 411.5 862.5 411.0 862.9 410.3 C863.3 409.5 862.4 408.2 862.4 407.1 C862.5 406.0 862.7 405.0 863.0 403.9 C863.2 402.9 863.6 401.9 864.1 400.9 C864.5 400.0 865.2 399.1 865.9 398.3 C866.6 397.5 867.4 396.7 868.2 396.1 C869.1 395.5 870.0 394.8 871.0 394.5 C871.9 394.1 873.6 394.0 874.1 394.0" stroke-width="0.80"/>
<path d="M815.3 286.4 C815.8 286.5 817.3 287.0 818.3 287.3 C819.4 287.5 820.4 287.7 821.5 287.8 C822.6 287.9 823.6 288.0 824.7 288.0 C825.8 288.0 826.8 287.9 827.9 287.7 C828.9 287.5 830.5 287.1 831.0 287.0" stroke-width="0.70"/>
<path d="M832.5 376.5 C833.0 376.7 834.4 377.4 835.4 377.7 C836.4 378.0 837.6 378.1 838.6 378.0 C839.7 378.0 841.4 377.9 841.7 377.3 C842.0 376.7 841.0 375.3 840.4 374.4 C839.8 373.5 838.7 372.3 838.4 371.9" stroke-width="0.90"/>
<path d="M859.1 344.0 C859.2 344.6 859.5 346.1 860.0 347.1 C860.4 348.1 861.0 349.0 861.6 349.8 C862.3 350.7 863.6 351.7 864.0 352.0" stroke-width="0.70"/>
<path d="M875.6 407.6 C875.6 407.1 875.8 405.4 875.8 404.4 C875.7 403.3 875.4 402.3 875.1 401.3 C874.7 400.3 873.8 398.9 873.5 398.5" stroke-width="0.70"/>
<path d="M886.1 379.6 C886.4 380.0 887.2 381.4 887.7 382.3 C888.3 383.3 888.6 384.9 889.4 385.1 C890.1 385.3 891.8 383.9 892.2 383.6" stroke-width="0.90"/>
<path d="M879.4 335.1 C879.0 335.4 877.8 336.5 877.1 337.3 C876.4 338.1 875.7 338.9 875.0 339.8 C874.4 340.6 873.7 341.4 873.1 342.3 C872.5 343.2 872.0 344.2 871.4 345.1 C870.9 346.0 870.3 346.9 869.7 347.7 C869.1 348.6 868.5 349.5 867.9 350.4 C867.4 351.3 866.9 352.3 866.4 353.2 C865.8 354.1 864.9 355.4 864.6 355.9" stroke-width="0.90"/>
<path d="M795.2 391.5 C795.2 392.0 795.2 393.6 795.2 394.7 C795.2 395.8 795.3 396.9 795.4 397.9 C795.6 399.0 796.0 400.0 796.3 401.0 C796.6 402.0 796.8 403.1 797.2 404.0 C797.7 405.0 798.6 406.4 798.8 406.8" stroke-width="0.90"/>
<path d="M833.1 398.7 C832.7 398.3 831.6 397.1 831.1 396.1 C830.7 395.2 830.3 394.1 830.2 393.1 C830.1 392.0 829.9 390.2 830.4 389.9 C830.9 389.5 832.5 391.4 833.3 391.2 C834.1 391.0 834.6 389.4 835.3 388.7 C836.1 388.0 837.0 387.4 837.9 386.8 C838.9 386.3 839.9 385.9 840.9 385.6 C841.9 385.3 843.5 385.2 844.1 385.1" stroke-width="0.90"/>
<path d="M827.0 401.0 C827.2 401.4 828.0 403.6 828.6 403.7 C829.3 403.7 830.1 402.2 830.8 401.3 C831.5 400.5 832.1 399.6 832.6 398.7 C833.1 397.7 833.5 396.7 833.8 395.7 C834.1 394.7 834.1 393.1 834.2 392.5" stroke-width="0.70"/>
<path d="M838.9 350.0 C838.6 349.6 837.7 348.3 837.1 347.4 C836.4 346.6 835.8 345.0 835.1 344.9 C834.3 344.9 833.4 346.3 832.7 347.1 C832.0 347.9 831.4 348.8 830.8 349.7 C830.2 350.6 829.4 351.9 829.1 352.4" stroke-width="0.70"/>
<path d="M849.1 285.2 C848.6 285.3 847.1 285.9 846.0 286.1 C845.0 286.3 843.9 286.4 842.8 286.4 C841.8 286.3 840.7 286.2 839.7 285.9 C838.7 285.6 837.6 284.4 836.8 284.6 C835.9 284.7 834.9 286.4 834.5 286.8" stroke-width="0.80"/>
<path d="M810.2 246.9 C809.8 247.3 808.7 248.4 808.0 249.2 C807.3 250.0 806.6 250.8 806.0 251.7 C805.4 252.6 804.7 254.1 804.5 254.5" stroke-width="0.80"/>
<path d="M850.2 375.0 C850.5 374.6 851.5 373.4 852.2 372.6 C852.9 371.8 853.6 370.9 854.2 370.1 C854.9 369.3 855.5 368.4 856.2 367.5 C856.8 366.7 857.6 365.2 858.3 365.2 C859.0 365.2 860.5 366.8 860.4 367.6 C860.4 368.4 859.0 369.1 858.2 369.9 C857.4 370.6 856.6 371.3 855.8 372.0 C855.0 372.7 853.7 373.6 853.2 373.9" stroke-width="0.80"/>
<path d="M856.8 337.4 C856.8 338.0 856.5 339.6 856.3 340.6 C856.2 341.7 856.0 342.7 856.0 343.8 C855.9 344.9 855.9 345.9 855.9 347.0 C856.0 348.1 856.7 349.6 856.2 350.2 C855.7 350.8 854.0 350.5 853.0 350.7 C852.0 350.9 850.9 351.2 849.9 351.5 C848.9 351.8 847.9 352.1 846.9 352.5 C845.9 352.9 844.4 353.5 843.9 353.7" stroke-width="0.70"/>
<polyline points="805.6,275.3 810.6,278.1" stroke-width="0.75"/>
<polyline points="803.3,278.0 808.8,281.1" stroke-width="0.75"/>
<polyline points="803.3,281.9 806.9,284.0" stroke-width="0.75"/>
<polyline points="799.1,283.6 804.0,286.4" stroke-width="0.75"/>
<polyline points="809.2,277.3 804.1,286.4" stroke-width="0.75"/>
<polyline points="805.2,275.1 800.1,284.2" stroke-width="0.75"/>
<polyline points="788.7,393.4 789.7,404.3" stroke-width="0.75"/>
<polyline points="785.0,392.5 786.1,404.2" stroke-width="0.75"/>
<polyline points="788.7,393.9 785.2,394.2" stroke-width="0.75"/>
<polyline points="789.3,399.6 785.7,399.9" stroke-width="0.75"/>
<polyline points="791.5,452.8 783.7,454.0" stroke-width="0.75"/>
<polyline points="789.4,450.4 782.9,451.5" stroke-width="0.75"/>
<polyline points="791.2,447.4 782.6,448.8" stroke-width="0.75"/>
<polyline points="782.0,454.3 781.1,449.0" stroke-width="0.75"/>
<polyline points="782.9,454.2 782.1,448.9" stroke-width="0.75"/>
<polyline points="789.6,453.1 788.7,447.8" stroke-width="0.75"/>
<polyline points="850.8,315.0 859.1,319.9" stroke-width="0.75"/>
<polyline points="850.0,318.1 858.1,322.8" stroke-width="0.75"/>
<polyline points="855.4,317.7 853.8,320.3" stroke-width="0.75"/>
<polyline points="811.8,298.6 814.7,310.3" stroke-width="0.75"/>
<polyline points="809.3,301.1 811.5,309.8" stroke-width="0.75"/>
<polyline points="805.7,299.4 808.5,310.3" stroke-width="0.75"/>
<polyline points="813.2,304.4 807.4,305.9" stroke-width="0.75"/>
<polyline points="814.7,310.1 808.8,311.6" stroke-width="0.75"/>
<polyline points="814.2,308.3 808.3,309.8" stroke-width="0.75"/>
<polyline points="811.1,465.6 800.4,468.7" stroke-width="0.75"/>
<polyline points="808.8,462.8 800.8,465.1" stroke-width="0.75"/>
<polyline points="809.8,466.0 808.9,462.7" stroke-width="0.75"/>
<polyline points="808.3,466.4 807.3,463.2" stroke-width="0.75"/>
<polyline points="803.6,467.8 802.7,464.5" stroke-width="0.75"/>
<polyline points="789.1,330.5 786.4,343.0" stroke-width="0.75"/>
<polyline points="785.6,329.2 782.6,342.9" stroke-width="0.75"/>
<polyline points="787.6,337.3 784.0,336.5" stroke-width="0.75"/>
<polyline points="787.3,338.6 783.7,337.8" stroke-width="0.75"/>
<polyline points="787.6,337.3 784.0,336.5" stroke-width="0.75"/>
<polyline points="877.1,353.8 882.9,355.6" stroke-width="0.75"/>
<polyline points="876.8,357.0 882.0,358.6" stroke-width="0.75"/>
<polyline points="876.8,360.3 881.8,361.9" stroke-width="0.75"/>
<polyline points="875.6,363.3 878.7,364.2" stroke-width="0.75"/>
<polyline points="880.1,354.7 877.3,363.8" stroke-width="0.75"/>
<polyline points="877.1,353.8 874.3,362.9" stroke-width="0.75"/>
<polyline points="832.6,262.1 826.5,268.3" stroke-width="0.75"/>
<polyline points="831.6,258.7 824.5,265.9" stroke-width="0.75"/>
<polyline points="831.7,263.1 829.4,260.9" stroke-width="0.75"/>
<polyline points="832.6,262.2 830.3,260.0" stroke-width="0.75"/>
<polyline points="857.9,414.8 854.6,419.9" stroke-width="0.75"/>
<polyline points="854.9,412.9 850.8,419.1" stroke-width="0.75"/>
<polyline points="851.4,411.7 847.9,417.0" stroke-width="0.75"/>
<polyline points="855.6,418.4 849.6,414.5" stroke-width="0.75"/>
<polyline points="854.3,420.2 848.4,416.3" stroke-width="0.75"/>
<polyline points="839.1,421.4 837.2,424.5" stroke-width="0.75"/>
<polyline points="835.8,419.8 833.9,423.0" stroke-width="0.75"/>
<polyline points="832.8,417.8 831.0,420.8" stroke-width="0.75"/>
<polyline points="830.2,414.9 827.9,418.8" stroke-width="0.75"/>
<polyline points="839.9,420.1 830.4,414.5" stroke-width="0.75"/>
<polyline points="839.4,420.8 830.0,415.2" stroke-width="0.75"/>
<polyline points="836.5,425.8 827.1,420.2" stroke-width="0.75"/>
<polyline points="821.0,343.9 822.1,353.2" stroke-width="0.75"/>
<polyline points="817.6,343.5 818.6,352.7" stroke-width="0.75"/>
<polyline points="814.3,344.3 815.3,353.1" stroke-width="0.75"/>
<polyline points="821.0,343.3 814.3,344.0" stroke-width="0.75"/>
<polyline points="815.2,419.2 812.7,427.9" stroke-width="0.75"/>
<polyline points="812.9,416.6 809.5,428.1" stroke-width="0.75"/>
<polyline points="809.7,416.9 807.0,425.8" stroke-width="0.75"/>
<polyline points="815.0,419.9 809.3,418.2" stroke-width="0.75"/>
<polyline points="814.0,423.6 808.2,421.9" stroke-width="0.75"/>
<polyline points="813.8,424.1 808.1,422.4" stroke-width="0.75"/>
<polyline points="782.6,468.0 776.8,471.4" stroke-width="0.75"/>
<polyline points="781.0,465.4 776.3,468.0" stroke-width="0.75"/>
<polyline points="776.6,471.5 775.0,468.7" stroke-width="0.75"/>
<polyline points="782.3,468.2 780.7,465.5" stroke-width="0.75"/>
<polyline points="798.6,279.8 808.2,288.2" stroke-width="0.75"/>
<polyline points="796.8,282.4 805.4,290.0" stroke-width="0.75"/>
<polyline points="804.0,284.6 801.9,286.9" stroke-width="0.75"/>
<polyline points="802.1,282.9 800.0,285.3" stroke-width="0.75"/>
<polyline points="808.2,288.3 806.1,290.6" stroke-width="0.75"/>
<polyline points="784.9,420.9 780.1,424.6" stroke-width="0.75"/>
<polyline points="784.7,416.6 777.5,422.0" stroke-width="0.75"/>
<polyline points="781.5,414.4 776.3,418.3" stroke-width="0.75"/>
<polyline points="779.3,411.4 774.0,415.5" stroke-width="0.75"/>
<polyline points="779.3,425.2 772.7,416.5" stroke-width="0.75"/>
<polyline points="780.1,424.6 773.5,415.8" stroke-width="0.75"/>
<polyline points="786.6,419.7 780.0,410.9" stroke-width="0.75"/>
<polyline points="822.7,327.6 825.7,331.9" stroke-width="0.75"/>
<polyline points="819.2,328.4 822.8,333.8" stroke-width="0.75"/>
<polyline points="816.8,331.0 819.3,334.7" stroke-width="0.75"/>
<polyline points="813.5,332.3 816.3,336.5" stroke-width="0.75"/>
<polyline points="822.8,327.7 814.2,333.4" stroke-width="0.75"/>
<polyline points="830.1,349.5 840.9,352.6" stroke-width="0.75"/>
<polyline points="830.4,352.9 840.6,355.8" stroke-width="0.75"/>
<polyline points="840.8,352.6 839.9,355.6" stroke-width="0.75"/>
<polyline points="853.2,461.2 847.7,462.2" stroke-width="0.75"/>
<polyline points="854.1,458.1 848.1,459.3" stroke-width="0.75"/>
<polyline points="851.9,455.6 848.2,456.3" stroke-width="0.75"/>
<polyline points="854.4,460.9 853.3,455.3" stroke-width="0.75"/>
<polyline points="834.6,426.8 842.5,427.6" stroke-width="0.75"/>
<polyline points="835.6,430.4 841.1,431.0" stroke-width="0.75"/>
<polyline points="833.9,433.9 840.8,434.6" stroke-width="0.75"/>
<polyline points="836.8,427.0 836.0,434.1" stroke-width="0.75"/>
<polyline points="835.8,426.9 835.1,434.0" stroke-width="0.75"/>
<polyline points="834.5,426.7 833.7,433.8" stroke-width="0.75"/>
<polyline points="789.9,337.1 788.8,344.8" stroke-width="0.75"/>
<polyline points="786.8,335.7 785.6,343.9" stroke-width="0.75"/>
<polyline points="783.3,337.4 782.2,344.9" stroke-width="0.75"/>
<polyline points="780.1,336.5 778.9,344.7" stroke-width="0.75"/>
<polyline points="789.8,337.9 780.1,336.5" stroke-width="0.75"/>
<polyline points="789.7,338.7 780.0,337.3" stroke-width="0.75"/>
<polyline points="878.6,378.8 874.9,383.0" stroke-width="0.75"/>
<polyline points="877.1,375.8 874.1,379.2" stroke-width="0.75"/>
<polyline points="876.6,381.1 874.3,379.0" stroke-width="0.75"/>
<polyline points="878.9,378.5 876.6,376.4" stroke-width="0.75"/>
<polyline points="877.7,379.8 875.4,377.7" stroke-width="0.75"/>
<polyline points="815.2,331.1 806.4,332.0" stroke-width="0.75"/>
<polyline points="813.1,328.5 805.8,329.2" stroke-width="0.75"/>
<polyline points="814.0,325.7 806.0,326.4" stroke-width="0.75"/>
<polyline points="812.5,323.0 805.2,323.7" stroke-width="0.75"/>
<polyline points="809.4,331.7 808.6,323.4" stroke-width="0.75"/>
<polyline points="809.2,331.7 808.3,323.4" stroke-width="0.75"/>
<polyline points="805.4,332.1 804.5,323.8" stroke-width="0.75"/>
<polyline points="858.0,272.3 864.7,272.5" stroke-width="0.75"/>
<polyline points="855.6,275.2 865.0,275.4" stroke-width="0.75"/>
<polyline points="857.6,278.2 865.5,278.3" stroke-width="0.75"/>
<polyline points="856.1,281.0 864.1,281.2" stroke-width="0.75"/>
<polyline points="865.2,272.5 865.0,281.2" stroke-width="0.75"/>
<polyline points="864.1,272.4 863.9,281.2" stroke-width="0.75"/>
<polyline points="815.5,262.1 809.0,270.4" stroke-width="0.75"/>
<polyline points="813.3,259.5 806.7,268.0" stroke-width="0.75"/>
<polyline points="815.7,261.8 813.1,259.8" stroke-width="0.75"/>
<polyline points="836.2,305.7 833.8,309.7" stroke-width="0.75"/>
<polyline points="834.2,303.1 830.8,308.7" stroke-width="0.75"/>
<polyline points="831.8,301.2 828.9,306.0" stroke-width="0.75"/>
<polyline points="836.0,306.1 830.7,303.0" stroke-width="0.75"/>
<polyline points="835.9,306.2 830.7,303.1" stroke-width="0.75"/>
<polyline points="835.1,307.5 829.9,304.3" stroke-width="0.75"/>
<polyline points="860.7,380.6 866.1,391.0" stroke-width="0.75"/>
<polyline points="858.9,384.4 863.0,392.5" stroke-width="0.75"/>
<polyline points="855.8,385.8 860.4,394.9" stroke-width="0.75"/>
<polyline points="862.3,383.7 856.3,386.8" stroke-width="0.75"/>
<polyline points="879.1,448.2 881.9,451.4" stroke-width="0.75"/>
<polyline points="876.3,450.9 878.6,453.3" stroke-width="0.75"/>
<polyline points="873.1,452.9 876.8,456.9" stroke-width="0.75"/>
<polyline points="880.7,450.1 875.2,455.2" stroke-width="0.75"/>
<polyline points="881.2,450.5 875.6,455.6" stroke-width="0.75"/>
<polyline points="881.4,450.8 875.8,455.9" stroke-width="0.75"/>
<polyline points="797.4,301.1 794.7,301.5" stroke-width="0.75"/>
<polyline points="797.1,297.4 793.9,297.9" stroke-width="0.75"/>
<polyline points="796.6,293.6 792.5,294.3" stroke-width="0.75"/>
<polyline points="798.3,289.6 792.4,290.5" stroke-width="0.75"/>
<polyline points="793.6,301.7 791.9,290.6" stroke-width="0.75"/>
<polyline points="799.4,300.8 797.7,289.7" stroke-width="0.75"/>
<polyline points="799.3,300.8 797.6,289.7" stroke-width="0.75"/>
<polyline points="870.4,353.4 857.7,357.8" stroke-width="0.75"/>
<polyline points="868.5,350.2 855.8,354.7" stroke-width="0.75"/>
<polyline points="865.8,347.4 856.6,350.5" stroke-width="0.75"/>
<polyline points="861.0,356.7 858.6,349.9" stroke-width="0.75"/>
<polyline points="859.9,357.1 857.5,350.2" stroke-width="0.75"/>
<polyline points="839.1,289.2 840.5,298.1" stroke-width="0.75"/>
<polyline points="836.0,292.0 837.1,299.1" stroke-width="0.75"/>
<polyline points="832.2,290.2 833.6,299.3" stroke-width="0.75"/>
<polyline points="829.1,292.8 830.4,300.9" stroke-width="0.75"/>
<polyline points="840.3,296.9 830.0,298.5" stroke-width="0.75"/>
<polyline points="786.4,440.0 782.8,450.1" stroke-width="0.75"/>
<polyline points="783.5,439.9 780.5,448.2" stroke-width="0.75"/>
<polyline points="780.3,440.3 777.4,448.5" stroke-width="0.75"/>
<polyline points="778.5,437.1 774.7,447.8" stroke-width="0.75"/>
<polyline points="783.1,449.3 775.1,446.5" stroke-width="0.75"/>
<polyline points="782.5,451.0 774.5,448.2" stroke-width="0.75"/>
<polyline points="785.7,382.2 780.7,392.9" stroke-width="0.75"/>
<polyline points="782.6,381.7 777.7,392.1" stroke-width="0.75"/>
<polyline points="779.6,380.8 774.6,391.6" stroke-width="0.75"/>
<polyline points="777.4,378.3 772.4,389.2" stroke-width="0.75"/>
<polyline points="783.0,387.9 774.7,384.1" stroke-width="0.75"/>
<polyline points="892.5,332.5 899.4,332.8" stroke-width="0.75"/>
<polyline points="890.9,335.1 897.6,335.4" stroke-width="0.75"/>
<polyline points="892.3,337.9 897.9,338.1" stroke-width="0.75"/>
<polyline points="892.3,332.5 892.1,337.9" stroke-width="0.75"/>
<polyline points="896.4,332.7 896.2,338.0" stroke-width="0.75"/>
<polyline points="894.9,332.6 894.7,338.0" stroke-width="0.75"/>
<polyline points="878.5,319.5 872.5,319.9" stroke-width="0.75"/>
<polyline points="878.0,316.5 872.7,316.9" stroke-width="0.75"/>
<polyline points="878.0,313.6 873.0,313.9" stroke-width="0.75"/>
<polyline points="877.0,310.7 872.4,311.0" stroke-width="0.75"/>
<polyline points="878.5,319.5 877.8,310.6" stroke-width="0.75"/>
<polyline points="876.3,319.6 875.7,310.8" stroke-width="0.75"/>
<polyline points="817.2,428.5 809.3,435.5" stroke-width="0.75"/>
<polyline points="815.3,426.5 807.1,433.7" stroke-width="0.75"/>
<polyline points="814.0,424.0 806.6,430.5" stroke-width="0.75"/>
<polyline points="811.2,422.8 804.3,428.8" stroke-width="0.75"/>
<polyline points="816.5,429.1 811.1,422.9" stroke-width="0.75"/>
<polyline points="813.7,431.6 808.2,425.4" stroke-width="0.75"/>
<polyline points="813.5,431.8 808.0,425.6" stroke-width="0.75"/>
<polyline points="829.4,313.3 824.2,313.9" stroke-width="0.75"/>
<polyline points="828.5,310.3 822.5,311.0" stroke-width="0.75"/>
<polyline points="828.0,307.3 823.3,307.8" stroke-width="0.75"/>
<polyline points="823.7,313.9 823.0,307.8" stroke-width="0.75"/>
<polyline points="822.8,314.0 822.1,307.9" stroke-width="0.75"/>
<polyline points="849.7,291.0 842.2,298.7" stroke-width="0.75"/>
<polyline points="848.7,288.0 842.1,294.9" stroke-width="0.75"/>
<polyline points="846.7,286.2 839.6,293.5" stroke-width="0.75"/>
<polyline points="845.8,295.0 841.9,291.2" stroke-width="0.75"/>
<polyline points="843.8,297.0 839.9,293.2" stroke-width="0.75"/>
<polyline points="849.5,291.2 845.6,287.4" stroke-width="0.75"/>
<polyline points="884.5,417.5 876.1,421.5" stroke-width="0.75"/>
<polyline points="880.6,415.6 875.0,418.2" stroke-width="0.75"/>
<polyline points="881.3,411.4 873.7,415.1" stroke-width="0.75"/>
<polyline points="880.4,419.5 877.4,413.3" stroke-width="0.75"/>
<polyline points="877.7,420.8 874.7,414.6" stroke-width="0.75"/>
<polyline points="876.6,421.3 873.6,415.1" stroke-width="0.75"/>
<polyline points="798.1,360.0 788.9,365.3" stroke-width="0.75"/>
<polyline points="796.2,356.9 785.6,363.0" stroke-width="0.75"/>
<polyline points="795.3,353.2 785.8,358.6" stroke-width="0.75"/>
<polyline points="791.6,351.1 784.0,355.4" stroke-width="0.75"/>
<polyline points="793.1,362.9 787.6,353.3" stroke-width="0.75"/>
<polyline points="793.3,362.8 787.8,353.3" stroke-width="0.75"/>
<polyline points="788.4,365.6 782.9,356.0" stroke-width="0.75"/>
<polyline points="868.2,318.8 872.9,331.8" stroke-width="0.75"/>
<polyline points="865.3,319.2 869.9,331.8" stroke-width="0.75"/>
<polyline points="863.0,321.3 867.3,333.2" stroke-width="0.75"/>
<polyline points="869.6,322.7 864.2,324.6" stroke-width="0.75"/>
<polyline points="869.1,321.1 863.6,323.1" stroke-width="0.75"/>
<polyline points="836.1,349.5 840.2,357.8" stroke-width="0.75"/>
<polyline points="833.7,350.7 837.0,357.3" stroke-width="0.75"/>
<polyline points="831.4,351.9 835.4,360.1" stroke-width="0.75"/>
<polyline points="828.3,351.6 832.0,359.3" stroke-width="0.75"/>
<polyline points="839.9,357.2 832.7,360.7" stroke-width="0.75"/>
<polyline points="830.6,450.1 834.5,450.9" stroke-width="0.75"/>
<polyline points="829.9,452.6 836.4,454.0" stroke-width="0.75"/>
<polyline points="830.3,450.0 829.8,452.6" stroke-width="0.75"/>
<polyline points="835.4,451.1 834.8,453.6" stroke-width="0.75"/>
<polyline points="811.3,324.6 814.1,328.4" stroke-width="0.75"/>
<polyline points="808.4,326.6 812.0,331.5" stroke-width="0.75"/>
<polyline points="811.1,324.3 808.3,326.5" stroke-width="0.75"/>
<polyline points="813.4,327.4 810.5,329.6" stroke-width="0.75"/>
<polyline points="847.5,405.0 838.0,406.6" stroke-width="0.75"/>
<polyline points="846.6,401.4 837.8,402.8" stroke-width="0.75"/>
<polyline points="839.4,406.4 838.8,402.6" stroke-width="0.75"/>
<polyline points="842.6,405.8 842.0,402.1" stroke-width="0.75"/>
<polyline points="846.8,405.2 846.2,401.4" stroke-width="0.75"/>
<polyline points="797.7,455.5 786.0,461.5" stroke-width="0.75"/>
<polyline points="795.4,452.5 785.6,457.5" stroke-width="0.75"/>
<polyline points="792.2,449.9 783.1,454.6" stroke-width="0.75"/>
<polyline points="796.9,455.9 793.5,449.2" stroke-width="0.75"/>
<polyline points="788.6,460.2 785.1,453.5" stroke-width="0.75"/>
<polyline points="856.2,350.6 866.8,354.6" stroke-width="0.75"/>
<polyline points="857.6,354.3 863.7,356.6" stroke-width="0.75"/>
<polyline points="858.0,351.3 857.0,354.1" stroke-width="0.75"/>
<polyline points="859.8,352.0 858.7,354.7" stroke-width="0.75"/>
<polyline points="858.1,351.4 857.1,354.1" stroke-width="0.75"/>
<polyline points="887.3,399.8 887.7,411.1" stroke-width="0.75"/>
<polyline points="883.7,398.6 884.2,411.7" stroke-width="0.75"/>
<polyline points="880.1,400.0 880.5,410.6" stroke-width="0.75"/>
<polyline points="887.4,401.8 880.2,402.0" stroke-width="0.75"/>
<polyline points="833.7,439.7 825.3,440.5" stroke-width="0.75"/>
<polyline points="832.4,436.9 823.7,437.7" stroke-width="0.75"/>
<polyline points="832.9,433.8 823.4,434.8" stroke-width="0.75"/>
<polyline points="834.0,439.7 833.4,433.8" stroke-width="0.75"/>
<polyline points="829.3,440.1 828.7,434.2" stroke-width="0.75"/>
<polyline points="833.8,439.7 833.3,433.8" stroke-width="0.75"/>
<polyline points="832.0,430.2 826.2,436.5" stroke-width="0.75"/>
<polyline points="831.1,426.5 823.2,435.0" stroke-width="0.75"/>
<polyline points="827.3,425.9 820.9,432.7" stroke-width="0.75"/>
<polyline points="832.8,429.4 828.1,425.0" stroke-width="0.75"/>
<polyline points="832.3,430.0 827.6,425.6" stroke-width="0.75"/>
<polyline points="832.6,429.6 828.0,425.2" stroke-width="0.75"/>
<polyline points="834.2,273.5 825.1,279.0" stroke-width="0.75"/>
<polyline points="830.7,271.8 824.2,275.7" stroke-width="0.75"/>
<polyline points="829.5,268.7 822.6,272.9" stroke-width="0.75"/>
<polyline points="833.9,273.7 830.6,268.1" stroke-width="0.75"/>
<polyline points="825.2,264.0 820.8,268.4" stroke-width="0.75"/>
<polyline points="822.4,262.7 819.5,265.6" stroke-width="0.75"/>
<polyline points="822.6,266.6 820.6,264.5" stroke-width="0.75"/>
<polyline points="809.3,336.0 820.6,339.4" stroke-width="0.75"/>
<polyline points="809.1,338.8 819.7,342.0" stroke-width="0.75"/>
<polyline points="810.3,342.1 818.5,344.6" stroke-width="0.75"/>
<polyline points="818.5,338.7 816.9,344.1" stroke-width="0.75"/>
<polyline points="816.5,338.1 814.9,343.5" stroke-width="0.75"/>
<polyline points="814.5,287.7 807.9,294.7" stroke-width="0.75"/>
<polyline points="811.4,285.7 803.8,293.6" stroke-width="0.75"/>
<polyline points="814.6,287.7 811.9,285.1" stroke-width="0.75"/>
<polyline points="808.6,294.0 805.9,291.4" stroke-width="0.75"/>
<polyline points="808.3,294.3 805.6,291.8" stroke-width="0.75"/>
<polyline points="855.5,299.0 860.8,300.1" stroke-width="0.75"/>
<polyline points="853.8,301.4 858.3,302.4" stroke-width="0.75"/>
<polyline points="854.6,304.4 858.0,305.2" stroke-width="0.75"/>
<polyline points="854.4,307.2 858.1,308.0" stroke-width="0.75"/>
<polyline points="858.4,299.6 856.6,307.7" stroke-width="0.75"/>
<polyline points="853.7,316.9 857.4,326.1" stroke-width="0.75"/>
<polyline points="850.7,319.7 853.3,326.1" stroke-width="0.75"/>
<polyline points="854.9,319.9 851.4,321.3" stroke-width="0.75"/>
<polyline points="835.6,435.1 834.1,445.5" stroke-width="0.75"/>
<polyline points="831.8,436.8 830.7,443.7" stroke-width="0.75"/>
<polyline points="828.4,434.8 827.2,443.3" stroke-width="0.75"/>
<polyline points="824.9,434.3 823.4,444.1" stroke-width="0.75"/>
<polyline points="835.6,435.7 824.9,434.1" stroke-width="0.75"/>
<polyline points="835.0,439.5 824.4,437.9" stroke-width="0.75"/>
<polyline points="893.5,349.5 883.1,351.0" stroke-width="0.75"/>
<polyline points="893.3,346.7 882.4,348.2" stroke-width="0.75"/>
<polyline points="891.9,344.0 882.2,345.3" stroke-width="0.75"/>
<polyline points="891.2,341.2 883.1,342.3" stroke-width="0.75"/>
<polyline points="885.3,350.7 884.2,342.1" stroke-width="0.75"/>
<polyline points="888.7,350.2 887.5,341.7" stroke-width="0.75"/>
<polyline points="892.3,349.7 891.1,341.2" stroke-width="0.75"/>
<polyline points="844.1,364.6 843.7,369.0" stroke-width="0.75"/>
<polyline points="840.9,363.1 840.4,368.3" stroke-width="0.75"/>
<polyline points="844.0,364.7 840.8,364.5" stroke-width="0.75"/>
<polyline points="843.7,368.4 840.5,368.2" stroke-width="0.75"/>
<polyline points="842.4,446.7 841.6,452.0" stroke-width="0.75"/>
<polyline points="838.6,446.5 837.6,453.2" stroke-width="0.75"/>
<polyline points="842.4,446.8 838.7,446.2" stroke-width="0.75"/>
<polyline points="820.4,414.3 816.1,416.4" stroke-width="0.75"/>
<polyline points="818.2,411.1 813.1,413.7" stroke-width="0.75"/>
<polyline points="816.1,408.0 811.1,410.4" stroke-width="0.75"/>
<polyline points="817.4,415.8 814.0,409.0" stroke-width="0.75"/>
<polyline points="820.9,414.0 817.5,407.2" stroke-width="0.75"/>
<polyline points="817.9,415.5 814.5,408.7" stroke-width="0.75"/>
<polyline points="871.4,414.2 874.3,422.5" stroke-width="0.75"/>
<polyline points="868.6,414.6 871.7,423.4" stroke-width="0.75"/>
<polyline points="865.8,415.0 868.2,422.0" stroke-width="0.75"/>
<polyline points="873.1,418.9 867.8,420.8" stroke-width="0.75"/>
<polyline points="838.9,368.0 848.9,375.2" stroke-width="0.75"/>
<polyline points="836.7,370.5 846.3,377.5" stroke-width="0.75"/>
<polyline points="844.8,372.2 842.8,375.0" stroke-width="0.75"/>
<polyline points="852.5,339.8 861.4,345.7" stroke-width="0.75"/>
<polyline points="849.7,341.3 860.3,348.5" stroke-width="0.75"/>
<polyline points="849.1,344.5 859.6,351.5" stroke-width="0.75"/>
<polyline points="846.7,346.4 858.1,354.0" stroke-width="0.75"/>
<polyline points="854.3,340.9 849.4,348.2" stroke-width="0.75"/>
<polyline points="855.6,341.8 850.7,349.1" stroke-width="0.75"/>
<polyline points="888.5,350.9 885.3,357.8" stroke-width="0.75"/>
<polyline points="886.7,348.0 882.3,357.3" stroke-width="0.75"/>
<polyline points="884.9,358.7 882.3,357.5" stroke-width="0.75"/>
<polyline points="887.2,353.7 884.6,352.5" stroke-width="0.75"/>
<polyline points="884.9,358.7 882.3,357.5" stroke-width="0.75"/>
<polyline points="856.9,385.6 861.1,396.5" stroke-width="0.75"/>
<polyline points="854.0,386.6 858.2,397.5" stroke-width="0.75"/>
<polyline points="851.6,388.8 855.2,398.1" stroke-width="0.75"/>
<polyline points="858.3,389.1 852.5,391.3" stroke-width="0.75"/>
<polyline points="796.1,363.1 785.8,367.4" stroke-width="0.75"/>
<polyline points="796.0,359.3 786.8,363.2" stroke-width="0.75"/>
<polyline points="798.1,362.3 796.7,359.0" stroke-width="0.75"/>
<polyline points="797.6,362.5 796.2,359.2" stroke-width="0.75"/>
<polyline points="818.8,354.2 811.4,354.9" stroke-width="0.75"/>
<polyline points="820.5,350.7 810.2,351.7" stroke-width="0.75"/>
<polyline points="813.0,354.8 812.7,351.5" stroke-width="0.75"/>
<polyline points="816.4,354.4 816.1,351.2" stroke-width="0.75"/>
<polyline points="836.4,294.0 846.1,299.2" stroke-width="0.75"/>
<polyline points="834.1,296.0 844.4,301.6" stroke-width="0.75"/>
<polyline points="833.4,299.0 841.7,303.5" stroke-width="0.75"/>
<polyline points="835.4,293.4 832.7,298.6" stroke-width="0.75"/>
<polyline points="893.6,302.5 889.5,304.1" stroke-width="0.75"/>
<polyline points="893.0,298.6 887.0,301.0" stroke-width="0.75"/>
<polyline points="888.6,304.4 887.2,300.9" stroke-width="0.75"/>
<polyline points="889.4,304.1 888.0,300.6" stroke-width="0.75"/>
<polyline points="893.8,302.4 892.4,298.9" stroke-width="0.75"/>
<polyline points="788.8,248.9 778.5,252.5" stroke-width="0.75"/>
<polyline points="785.3,246.7 777.3,249.6" stroke-width="0.75"/>
<polyline points="785.9,243.2 776.0,246.7" stroke-width="0.75"/>
<polyline points="784.1,240.5 775.8,243.4" stroke-width="0.75"/>
<polyline points="785.8,249.9 782.7,241.0" stroke-width="0.75"/>
<polyline points="779.6,252.1 776.5,243.2" stroke-width="0.75"/>
<polyline points="787.5,249.3 784.4,240.4" stroke-width="0.75"/>
<polyline points="800.2,358.3 806.6,362.5" stroke-width="0.75"/>
<polyline points="799.7,361.1 805.7,365.1" stroke-width="0.75"/>
<polyline points="797.1,362.5 806.0,368.4" stroke-width="0.75"/>
<polyline points="802.0,359.5 799.1,363.9" stroke-width="0.75"/>
<polyline points="803.2,360.3 800.4,364.7" stroke-width="0.75"/>
<polyline points="876.1,317.0 877.8,322.6" stroke-width="0.75"/>
<polyline points="873.1,319.7 874.3,323.8" stroke-width="0.75"/>
<polyline points="869.7,320.8 870.7,324.3" stroke-width="0.75"/>
<polyline points="876.5,318.4 869.6,320.5" stroke-width="0.75"/>
<polyline points="876.8,319.4 869.9,321.4" stroke-width="0.75"/>
<polyline points="876.5,318.4 869.6,320.5" stroke-width="0.75"/>
<polyline points="854.9,340.5 850.2,347.7" stroke-width="0.75"/>
<polyline points="851.9,339.1 847.2,346.4" stroke-width="0.75"/>
<polyline points="848.1,339.0 844.7,344.2" stroke-width="0.75"/>
<polyline points="853.0,343.4 847.5,339.9" stroke-width="0.75"/>
<polyline points="851.9,345.1 846.4,341.6" stroke-width="0.75"/>
<polyline points="850.2,347.8 844.7,344.2" stroke-width="0.75"/>
<polyline points="830.3,435.6 825.4,440.5" stroke-width="0.75"/>
<polyline points="826.8,433.7 824.1,436.5" stroke-width="0.75"/>
<polyline points="825.6,429.6 821.6,433.6" stroke-width="0.75"/>
<polyline points="822.9,427.0 817.9,432.1" stroke-width="0.75"/>
<polyline points="826.9,439.0 818.9,431.0" stroke-width="0.75"/>
<polyline points="829.5,436.3 821.6,428.4" stroke-width="0.75"/>
<polyline points="828.2,437.7 820.2,429.7" stroke-width="0.75"/>
<path d="M807.3 323.7 A5.0 5.0 0 1 1 815.8 325.2" stroke-width="0.75"/>
<path d="M804.0 324.9 A8.5 8.5 0 1 1 818.5 327.5" stroke-width="0.75"/>
<path d="M800.7 326.1 A12.0 12.0 0 1 1 821.2 329.7" stroke-width="0.75"/>
<path d="M797.4 327.3 A15.5 15.5 0 1 1 823.9 332.0" stroke-width="0.75"/>
<path d="M794.1 328.5 A19.0 19.0 0 1 1 826.6 334.2" stroke-width="0.75"/>
<path d="M833.3 316.3 A5.0 5.0 0 0 1 842.9 317.1" stroke-width="0.75"/>
<path d="M829.5 314.9 A9.0 9.0 0 0 1 846.9 316.4" stroke-width="0.75"/>
<path d="M825.8 313.6 A13.0 13.0 0 0 1 850.8 315.7" stroke-width="0.75"/>
<path d="M822.0 312.2 A17.0 17.0 0 0 1 854.7 315.0" stroke-width="0.75"/>
<path d="M794.1 461.0 A6.0 6.0 0 0 1 805.9 461.0" stroke-width="0.75"/>
<path d="M790.2 460.3 A10.0 10.0 0 0 1 809.8 460.3" stroke-width="0.75"/>
<path d="M786.2 459.6 A14.0 14.0 0 0 1 813.8 459.6" stroke-width="0.75"/>
<path d="M843.0 455.0 A5.0 5.0 0 0 1 853.0 455.0" stroke-width="0.75"/>
<path d="M839.0 455.0 A9.0 9.0 0 0 1 857.0 455.0" stroke-width="0.75"/>
<path d="M863.4 318.1 A6.0 6.0 0 0 1 873.6 319.9" stroke-width="0.75"/>
<path d="M860.3 315.6 A10.0 10.0 0 0 1 877.4 318.6" stroke-width="0.75"/>
<path d="M857.3 313.0 A14.0 14.0 0 0 1 881.2 317.2" stroke-width="0.75"/>
<path d="M780.0 336.2 C785.0 336.8 800.5 338.8 810.0 340.0 C819.5 341.2 827.4 342.1 837.2 343.6 C847.0 345.1 857.7 347.8 869.0 348.9 C880.3 350.0 899.0 349.8 905.0 350.0" stroke-width="1.30" stroke="#2c4a3c" stroke-opacity="0.90"/>
<path d="M780.0 391.3 C784.6 393.4 794.9 398.7 807.6 404.0 C820.3 409.3 839.3 416.4 856.3 423.1 C873.2 429.8 892.0 437.2 909.3 444.3 C926.6 451.4 951.5 462.0 960.0 465.5" stroke-width="1.70" stroke="#2c4a3c" stroke-opacity="0.90"/>
<path d="M803.3 401.9 C804.4 406.5 808.1 421.0 809.7 429.4 C811.3 437.8 812.0 444.6 813.0 452.0 C814.0 459.4 815.5 470.3 816.0 474.0" stroke-width="1.20" stroke="#2c4a3c" stroke-opacity="0.90"/>
<path d="M820.3 429.4 C820.8 433.2 822.1 444.6 823.0 452.0 C823.9 459.4 825.2 470.3 825.6 474.0" stroke-width="1.00" stroke="#2c4a3c" stroke-opacity="0.90"/>
<path d="M869.0 348.9 C869.4 352.4 871.1 362.9 871.5 370.0 C871.9 377.1 872.1 384.6 871.2 391.3 C870.3 398.0 868.1 404.7 866.0 410.0 C863.9 415.3 859.7 420.8 858.4 423.0" stroke-width="1.20" stroke="#2c4a3c" stroke-opacity="0.90"/>
<path d="M871.0 389.5 L905.0 390.2" stroke-width="1.00" stroke="#2c4a3c" stroke-opacity="0.90"/>
<path d="M812.0 341.0 C812.5 344.5 815.2 354.7 815.0 362.0 C814.8 369.3 812.5 378.2 811.0 385.0 C809.5 391.8 806.8 400.0 806.0 403.0" stroke-width="1.10" stroke="#2c4a3c" stroke-opacity="0.90"/>
<path d="M812.0 341.0 C815.0 341.7 823.7 343.5 830.0 345.0 C836.3 346.5 844.0 349.3 850.0 350.0 C856.0 350.7 863.3 349.2 866.0 349.0" stroke-width="0.90" stroke="#2c4a3c" stroke-opacity="0.90"/>
<path d="M806.0 403.0 C808.3 401.8 815.2 397.8 820.0 396.0 C824.8 394.2 830.0 391.3 835.0 392.0 C840.0 392.7 846.2 397.0 850.0 400.0 C853.8 403.0 857.0 406.2 858.0 410.0 C859.0 413.8 856.3 420.8 856.0 423.0" stroke-width="1.10" stroke="#2c4a3c" stroke-opacity="0.90"/>
<path d="M835.0 392.0 C834.7 389.7 834.5 382.3 833.0 378.0 C831.5 373.7 829.0 368.7 826.0 366.0 C823.0 363.3 816.8 362.7 815.0 362.0" stroke-width="0.90" stroke="#2c4a3c" stroke-opacity="0.90"/>
<path d="M820.0 378.0 C822.3 377.3 829.7 373.7 834.0 374.0 C838.3 374.3 843.3 376.5 846.0 380.0 C848.7 383.5 849.3 392.5 850.0 395.0" stroke-width="0.90" stroke="#2c4a3c" stroke-opacity="0.90"/>
<path d="M873.0 298.0 C875.0 299.3 881.0 303.7 885.0 306.0 C889.0 308.3 893.8 310.8 897.0 312.0 C900.2 313.2 902.8 312.8 904.0 313.0" stroke-width="1.10" stroke="#2c4a3c" stroke-opacity="0.90"/>
<path d="M792.0 331.0 C795.8 332.1 806.2 336.8 815.0 337.5 C823.8 338.2 836.2 336.9 845.0 335.0 C853.8 333.1 861.3 329.8 868.0 326.0 C874.7 322.2 880.8 316.3 885.0 312.0 C889.2 307.7 891.7 302.0 893.0 300.0" stroke-width="1.10" stroke="#2c4a3c" stroke-opacity="0.90"/>
<path d="M800.0 270.0 C802.5 268.7 809.7 262.3 815.0 262.0 C820.3 261.7 827.0 265.0 832.0 268.0 C837.0 271.0 841.7 275.3 845.0 280.0 C848.3 284.7 851.2 290.2 852.0 296.0 C852.8 301.8 851.7 309.3 850.0 315.0 C848.3 320.7 843.3 327.5 842.0 330.0" stroke-width="1.00" stroke="#2c4a3c" stroke-opacity="0.90"/>
<path d="M784.0 236.6 C787.9 237.3 799.1 237.3 807.6 240.8 C816.1 244.3 827.0 252.3 835.1 257.8 C843.2 263.3 849.6 268.7 856.0 274.0 C862.4 279.3 867.6 285.7 873.3 289.6 C879.0 293.5 887.2 296.2 890.0 297.5" stroke-width="1.60" stroke="#2c4a3c" stroke-opacity="0.90"/>
<path d="M800.0 246.0 C803.7 248.0 814.3 253.3 822.0 258.0 C829.7 262.7 838.7 268.3 846.0 274.0 C853.3 279.7 860.3 287.7 866.0 292.0 C871.7 296.3 877.7 298.7 880.0 300.0" stroke-width="0.90" stroke="#2c4a3c" stroke-opacity="0.90"/>
<path d="M783.2 230.2 C783.4 236.6 783.7 256.8 784.2 268.4 C784.7 280.0 786.1 288.7 786.4 300.0 C786.7 311.3 786.1 330.0 786.0 336.0" stroke-width="1.30" stroke="#2c4a3c" stroke-opacity="0.90"/>
<path d="M794.8 238.7 C794.4 243.6 792.5 258.2 792.7 268.4 C792.9 278.6 796.0 289.6 795.9 300.0 C795.8 310.4 792.6 325.8 792.0 331.0" stroke-width="1.00" stroke="#2c4a3c" stroke-opacity="0.90"/>
<path d="M828.8 232.4 L811.8 253.6" stroke-width="0.90" stroke="#2c4a3c" stroke-opacity="0.90"/>
<path d="M871.0 391.0 C872.5 395.0 877.2 407.5 880.0 415.0 C882.8 422.5 886.7 432.5 888.0 436.0" stroke-width="0.80" stroke="#2c4a3c" stroke-opacity="0.90"/>
<path d="M886.0 351.0 L887.0 390.0" stroke-width="0.80" stroke="#2c4a3c" stroke-opacity="0.90"/>
<path d="M840.0 423.0 C841.0 426.7 845.7 436.5 846.0 445.0 C846.3 453.5 842.7 469.2 842.0 474.0" stroke-width="0.80" stroke="#2c4a3c" stroke-opacity="0.90"/>
<path d="M926.0 451.5 L925.0 474.0" stroke-width="0.90" stroke="#2c4a3c" stroke-opacity="0.90"/>
<path d="M858.4 423.0 C857.3 425.8 853.7 434.2 852.0 440.0 C850.3 445.8 848.3 452.3 848.0 458.0 C847.7 463.7 849.7 471.3 850.0 474.0" stroke-width="0.80" stroke="#2c4a3c" stroke-opacity="0.90"/>
<path d="M780.0 425.0 C782.5 426.2 790.3 428.7 795.0 432.0 C799.7 435.3 805.2 438.7 808.0 445.0 C810.8 451.3 811.3 465.8 812.0 470.0" stroke-width="0.80" stroke="#2c4a3c" stroke-opacity="0.90"/>
<path d="M781.0 232.0 C781.2 238.0 781.8 256.7 782.0 268.0 C782.2 279.3 782.7 288.0 782.5 300.0 C782.3 312.0 781.2 333.3 781.0 340.0" stroke-width="1.40" stroke="#8b8a2e" stroke-opacity="0.90"/>
<path d="M789.0 240.0 C789.1 244.7 789.6 258.7 789.5 268.0 C789.4 277.3 788.7 291.3 788.5 296.0" stroke-width="1.00" stroke="#8b8a2e" stroke-opacity="0.80"/>
<path d="M790.0 236.0 C794.2 237.7 807.0 241.8 815.0 246.0 C823.0 250.2 830.5 255.5 838.0 261.0 C845.5 266.5 853.7 273.7 860.0 279.0 C866.3 284.3 873.3 290.7 876.0 293.0" stroke-width="1.30" stroke="#77782a" stroke-opacity="0.90"/>
<path d="M803.0 404.0 C803.8 408.3 806.7 422.0 808.0 430.0 C809.3 438.0 810.2 444.7 811.0 452.0 C811.8 459.3 812.7 470.3 813.0 474.0" stroke-width="1.20" stroke="#7d8a3a" stroke-opacity="0.70"/>
</g>
<g fill="none" stroke="#274a2e" stroke-opacity="0.92" stroke-linecap="round" stroke-linejoin="round">
<path d="M899.5 298.2 C900.0 303.8 901.6 323.3 902.3 331.9 C903.0 340.5 903.2 340.4 903.8 350.0 C904.4 359.6 905.3 377.0 906.1 389.8 C906.9 402.6 907.8 417.4 908.4 426.6 C909.0 435.8 909.4 439.9 909.9 445.0 C910.4 450.1 911.6 452.4 911.4 457.2 C911.1 462.0 908.9 471.2 908.4 474.0" stroke-width="1.90"/>
<path d="M909.9 445.0 C912.7 446.0 920.4 448.7 926.8 451.1 C933.2 453.5 943.6 456.9 948.2 459.5 C952.8 462.1 953.1 464.0 954.3 466.4 C955.4 468.8 955.0 472.7 955.1 474.0" stroke-width="1.80"/>
<path d="M893.0 290.0 C893.5 291.0 894.9 294.6 896.0 296.0 C897.1 297.4 898.9 298.1 899.5 298.5" stroke-width="1.40"/>
</g>
<g clip-path="url(#dclip)" style="mix-blend-mode:multiply" fill="none" stroke="#5a7f90" stroke-opacity="0.95" stroke-linecap="butt" stroke-linejoin="round">
<path d="M936.0 135.7 C935.5 141.6 933.9 159.0 932.9 171.0 C931.9 183.0 930.1 196.2 929.9 207.7 C929.6 219.2 930.9 234.6 931.4 240.0 C931.9 245.4 931.4 236.7 932.9 240.0 C934.4 243.3 938.0 253.8 940.5 259.9 C943.0 266.0 947.2 270.4 948.2 276.8 C949.2 283.2 947.3 287.7 946.7 298.2 C946.1 308.7 945.1 328.0 944.5 340.0 C943.9 352.0 943.4 360.2 942.8 370.0 C942.2 379.8 941.3 394.2 941.0 399.0" stroke-width="1.80"/>
<path d="M940.6 138.8 C940.2 142.9 939.3 155.4 938.3 163.3 C937.3 171.2 935.4 178.9 934.5 186.3 C933.6 193.7 932.5 201.3 932.9 207.7 C933.3 214.1 934.9 219.1 936.8 224.5 C938.7 229.9 941.5 234.6 944.4 240.0 C947.3 245.4 951.5 250.7 954.3 256.8 C957.1 262.9 960.3 269.9 961.2 276.8 C962.1 283.7 960.2 286.5 959.7 298.2 C959.2 309.9 958.5 335.2 958.1 347.2 C957.7 359.2 957.8 361.2 957.4 370.0 C957.0 378.8 956.2 395.0 956.0 400.0" stroke-width="1.80"/>
<path d="M949.8 137.3 C949.1 140.4 946.9 149.2 945.9 155.6 C944.9 162.0 943.9 169.1 943.6 175.5 C943.4 181.9 943.2 187.8 944.4 193.9 C945.5 200.0 947.7 206.9 950.5 212.3 C953.3 217.7 958.1 219.9 961.3 226.1 C964.5 232.2 966.9 243.0 969.6 249.2 C972.3 255.3 975.6 258.7 977.3 263.0 C979.0 267.3 979.5 268.8 979.6 275.2 C979.7 281.6 978.6 291.9 978.0 301.3 C977.4 310.8 976.4 320.4 975.8 331.9 C975.2 343.3 974.2 360.6 974.2 370.0 C974.2 379.4 975.4 385.0 975.6 388.0" stroke-width="1.30"/>
<path d="M936.0 135.7 C938.4 136.2 946.3 138.4 950.5 138.8 C954.7 139.2 956.4 137.9 961.3 138.0 C966.1 138.1 975.9 138.9 979.6 139.5 C983.3 140.1 982.9 141.4 983.5 141.8" stroke-width="1.10"/>
<path d="M979.6 139.5 C980.6 140.9 984.3 144.0 985.8 148.0 C987.3 152.0 988.2 158.7 988.8 163.3 C989.4 167.9 989.9 171.2 989.6 175.5 C989.4 179.8 988.7 185.2 987.3 189.3 C985.9 193.4 983.0 196.9 981.2 200.0 C979.4 203.1 977.5 204.4 976.6 207.7 C975.7 211.0 975.3 216.4 975.8 220.0 C976.3 223.6 977.9 226.0 979.6 229.1 C981.3 232.2 984.7 234.8 985.8 238.3 C986.9 241.8 986.0 248.1 986.0 250.0" stroke-width="1.10"/>
<path d="M972.0 154.1 C973.3 153.7 978.6 150.5 979.6 151.8 C980.6 153.1 979.4 159.4 978.1 161.8 C976.8 164.2 973.0 165.6 972.0 166.3" stroke-width="1.00"/>
<path d="M971.2 154.1 C971.1 160.0 969.8 181.9 970.4 189.3 C971.0 196.7 974.4 195.9 975.0 198.5 C975.6 201.1 974.4 203.6 974.3 204.6" stroke-width="1.00"/>
<path d="M950.5 138.8 C951.8 139.2 955.8 139.8 958.0 141.0 C960.2 142.2 963.0 145.2 964.0 146.0" stroke-width="1.00"/>
<path d="M961.3 138.0 L964.4 141.0" stroke-width="1.00"/>
<polyline points="944.4,190.8 968.9,184.7" stroke-width="0.90"/>
<polyline points="932.9,192.4 985.8,190.8" stroke-width="1.00"/>
<polyline points="932.9,204.6 983.5,204.6" stroke-width="0.90"/>
<polyline points="976.0,204.0 984.0,204.0" stroke-width="0.80"/>
<polyline points="933.8,160.6 945.5,160.0" stroke-width="0.80"/>
<polyline points="933.5,164.4 945.4,163.8" stroke-width="0.80"/>
<polyline points="933.3,168.2 945.3,167.6" stroke-width="0.80"/>
<polyline points="933.0,172.0 945.2,171.4" stroke-width="0.80"/>
<polyline points="932.7,175.8 945.0,175.2" stroke-width="0.80"/>
<polyline points="932.5,179.6 944.9,179.0" stroke-width="0.80"/>
<polyline points="932.2,183.4 944.8,182.8" stroke-width="0.80"/>
<polyline points="931.9,187.2 944.7,186.6" stroke-width="0.80"/>
<polyline points="931.7,191.0 944.6,190.4" stroke-width="0.80"/>
<polyline points="931.4,194.8 944.5,194.2" stroke-width="0.80"/>
<polyline points="931.1,198.6 946.4,198.0" stroke-width="0.80"/>
<polyline points="930.9,202.4 948.1,201.8" stroke-width="0.80"/>
<polyline points="930.6,206.2 949.8,205.6" stroke-width="0.80"/>
<clipPath id="g1"><polygon points="930.0,209.0 950.0,212.0 961.0,226.0 969.6,249.0 977.3,263.0 979.2,272.0 979.2,279.0 934.0,279.0 932.0,262.0 931.0,240.0"/></clipPath>
<g clip-path="url(#g1)">
<polyline points="995.2,144.3 1058.4,273.7" stroke-width="0.75"/>
<polyline points="990.6,146.5 1053.8,275.9" stroke-width="0.75"/>
<polyline points="986.1,148.7 1049.2,278.2" stroke-width="0.75"/>
<polyline points="981.5,151.0 1044.6,280.4" stroke-width="0.75"/>
<polyline points="977.1,153.1 1040.3,282.5" stroke-width="0.75"/>
<polyline points="972.5,155.4 1035.6,284.8" stroke-width="0.75"/>
<polyline points="968.8,157.2 1031.9,286.6" stroke-width="0.75"/>
<polyline points="963.9,159.5 1027.0,289.0" stroke-width="0.75"/>
<polyline points="959.0,161.9 1022.1,291.4" stroke-width="0.75"/>
<polyline points="954.8,164.0 1017.9,293.4" stroke-width="0.75"/>
<polyline points="950.0,166.3 1013.2,295.7" stroke-width="0.75"/>
<polyline points="946.3,168.2 1009.4,297.6" stroke-width="0.75"/>
<polyline points="941.4,170.5 1004.6,299.9" stroke-width="0.75"/>
<polyline points="937.1,172.6 1000.3,302.0" stroke-width="0.75"/>
<polyline points="932.4,174.9 995.5,304.3" stroke-width="0.75"/>
<polyline points="927.9,177.1 991.0,306.6" stroke-width="0.75"/>
<polyline points="923.9,179.1 987.0,308.5" stroke-width="0.75"/>
<polyline points="919.2,181.4 982.3,310.8" stroke-width="0.75"/>
<polyline points="914.6,183.6 977.8,313.0" stroke-width="0.75"/>
<polyline points="909.6,186.0 972.7,315.5" stroke-width="0.75"/>
<polyline points="905.2,188.2 968.3,317.6" stroke-width="0.75"/>
<polyline points="901.3,190.1 964.4,319.5" stroke-width="0.75"/>
<polyline points="896.2,192.6 959.3,322.0" stroke-width="0.75"/>
<polyline points="892.3,194.5 955.4,323.9" stroke-width="0.75"/>
<polyline points="887.4,196.9 950.5,326.3" stroke-width="0.75"/>
<polyline points="883.3,198.8 946.5,328.3" stroke-width="0.75"/>
<polyline points="878.9,201.0 942.1,330.4" stroke-width="0.75"/>
<polyline points="873.7,203.6 936.8,333.0" stroke-width="0.75"/>
<polyline points="869.8,205.5 932.9,334.9" stroke-width="0.75"/>
<polyline points="865.3,207.7 928.4,337.1" stroke-width="0.75"/>
<polyline points="860.1,210.2 923.2,339.6" stroke-width="0.75"/>
<polyline points="855.7,212.3 918.8,341.8" stroke-width="0.75"/>
<polyline points="851.7,214.3 914.8,343.7" stroke-width="0.75"/>
<polyline points="984.1,139.5 854.7,202.6" stroke-width="0.75"/>
<polyline points="986.1,143.4 856.6,206.6" stroke-width="0.75"/>
<polyline points="988.2,147.9 858.8,211.0" stroke-width="0.75"/>
<polyline points="990.1,151.8 860.7,214.9" stroke-width="0.75"/>
<polyline points="992.6,156.7 863.1,219.9" stroke-width="0.75"/>
<polyline points="994.5,160.8 865.1,224.0" stroke-width="0.75"/>
<polyline points="996.8,165.4 867.3,228.5" stroke-width="0.75"/>
<polyline points="998.8,169.6 869.4,232.8" stroke-width="0.75"/>
<polyline points="1000.7,173.4 871.3,236.6" stroke-width="0.75"/>
<polyline points="1002.8,177.8 873.4,240.9" stroke-width="0.75"/>
<polyline points="1004.8,181.9 875.4,245.1" stroke-width="0.75"/>
<polyline points="1006.9,186.2 877.5,249.4" stroke-width="0.75"/>
<polyline points="1009.0,190.5 879.6,253.6" stroke-width="0.75"/>
<polyline points="1011.2,195.0 881.8,258.1" stroke-width="0.75"/>
<polyline points="1013.4,199.6 884.0,262.7" stroke-width="0.75"/>
<polyline points="1015.3,203.4 885.9,266.5" stroke-width="0.75"/>
<polyline points="1017.7,208.3 888.3,271.4" stroke-width="0.75"/>
<polyline points="1019.6,212.3 890.2,275.4" stroke-width="0.75"/>
<polyline points="1021.7,216.6 892.3,279.7" stroke-width="0.75"/>
<polyline points="1024.1,221.4 894.6,284.5" stroke-width="0.75"/>
<polyline points="1026.0,225.4 896.6,288.5" stroke-width="0.75"/>
<polyline points="1028.0,229.5 898.6,292.7" stroke-width="0.75"/>
<polyline points="1030.2,234.0 900.8,297.1" stroke-width="0.75"/>
<polyline points="1032.4,238.5 903.0,301.6" stroke-width="0.75"/>
<polyline points="1034.2,242.2 904.8,305.4" stroke-width="0.75"/>
<polyline points="1036.8,247.4 907.3,310.5" stroke-width="0.75"/>
<polyline points="1038.4,250.8 909.0,314.0" stroke-width="0.75"/>
<polyline points="1040.9,255.8 911.4,318.9" stroke-width="0.75"/>
<polyline points="1043.0,260.2 913.6,323.3" stroke-width="0.75"/>
<polyline points="1044.8,263.8 915.3,326.9" stroke-width="0.75"/>
<polyline points="1047.2,268.8 917.8,331.9" stroke-width="0.75"/>
<polyline points="1049.1,272.7 919.7,335.8" stroke-width="0.75"/>
<polyline points="1051.3,277.2 921.9,340.3" stroke-width="0.75"/>
<polyline points="1053.2,281.0 923.7,344.1" stroke-width="0.75"/>
<polyline points="1055.3,285.4 925.9,348.5" stroke-width="0.75"/>
</g>
<clipPath id="g1c"><polygon points="934.0,279.0 979.2,279.0 978.5,298.0 935.9,298.0"/></clipPath>
<g clip-path="url(#g1c)">
<polyline points="912.0,232.8 1004.0,234.4" stroke-width="0.80"/>
<polyline points="911.9,236.8 1003.9,238.4" stroke-width="0.80"/>
<polyline points="911.8,241.8 1003.8,243.5" stroke-width="0.80"/>
<polyline points="911.7,246.1 1003.7,247.7" stroke-width="0.80"/>
<polyline points="911.6,251.2 1003.6,252.8" stroke-width="0.80"/>
<polyline points="911.6,255.2 1003.6,256.8" stroke-width="0.80"/>
<polyline points="911.5,260.3 1003.5,261.9" stroke-width="0.80"/>
<polyline points="911.4,264.8 1003.4,266.4" stroke-width="0.80"/>
<polyline points="911.3,269.5 1003.3,271.1" stroke-width="0.80"/>
<polyline points="911.2,274.2 1003.2,275.8" stroke-width="0.80"/>
<polyline points="911.2,278.3 1003.2,279.9" stroke-width="0.80"/>
<polyline points="911.1,283.0 1003.1,284.6" stroke-width="0.80"/>
<polyline points="911.0,287.8 1003.0,289.4" stroke-width="0.80"/>
<polyline points="910.9,292.2 1002.9,293.8" stroke-width="0.80"/>
<polyline points="910.8,296.8 1002.8,298.4" stroke-width="0.80"/>
<polyline points="910.8,301.3 1002.8,302.9" stroke-width="0.80"/>
<polyline points="910.7,306.3 1002.7,307.9" stroke-width="0.80"/>
<polyline points="910.6,310.9 1002.6,312.5" stroke-width="0.80"/>
<polyline points="910.5,315.5 1002.5,317.1" stroke-width="0.80"/>
<polyline points="910.4,319.7 1002.4,321.3" stroke-width="0.80"/>
<polyline points="910.4,324.7 1002.3,326.4" stroke-width="0.80"/>
<polyline points="910.3,329.1 1002.3,330.7" stroke-width="0.80"/>
<polyline points="910.2,333.5 1002.2,335.1" stroke-width="0.80"/>
<polyline points="910.1,338.3 1002.1,339.9" stroke-width="0.80"/>
<polyline points="910.0,342.8 1002.0,344.4" stroke-width="0.80"/>
<polyline points="902.4,241.5 900.8,333.5" stroke-width="0.80"/>
<polyline points="907.2,241.6 905.6,333.6" stroke-width="0.80"/>
<polyline points="911.7,241.7 910.1,333.7" stroke-width="0.80"/>
<polyline points="916.5,241.8 914.8,333.8" stroke-width="0.80"/>
<polyline points="921.3,241.9 919.7,333.9" stroke-width="0.80"/>
<polyline points="925.7,241.9 924.1,333.9" stroke-width="0.80"/>
<polyline points="930.2,242.0 928.5,334.0" stroke-width="0.80"/>
<polyline points="935.0,242.1 933.4,334.1" stroke-width="0.80"/>
<polyline points="939.7,242.2 938.1,334.2" stroke-width="0.80"/>
<polyline points="944.0,242.3 942.4,334.3" stroke-width="0.80"/>
<polyline points="948.9,242.4 947.3,334.3" stroke-width="0.80"/>
<polyline points="952.9,242.4 951.3,334.4" stroke-width="0.80"/>
<polyline points="957.6,242.5 956.0,334.5" stroke-width="0.80"/>
<polyline points="962.2,242.6 960.6,334.6" stroke-width="0.80"/>
<polyline points="967.3,242.7 965.7,334.7" stroke-width="0.80"/>
<polyline points="971.7,242.7 970.1,334.7" stroke-width="0.80"/>
<polyline points="976.3,242.8 974.7,334.8" stroke-width="0.80"/>
<polyline points="980.7,242.9 979.1,334.9" stroke-width="0.80"/>
<polyline points="985.4,243.0 983.8,335.0" stroke-width="0.80"/>
<polyline points="990.2,243.1 988.6,335.1" stroke-width="0.80"/>
<polyline points="994.4,243.1 992.8,335.1" stroke-width="0.80"/>
<polyline points="999.0,243.2 997.4,335.2" stroke-width="0.80"/>
<polyline points="1003.5,243.3 1001.9,335.3" stroke-width="0.80"/>
<polyline points="1008.4,243.4 1006.8,335.4" stroke-width="0.80"/>
<polyline points="1013.2,243.5 1011.6,335.5" stroke-width="0.80"/>
</g>
<clipPath id="g1b"><polygon points="961.0,226.0 986.0,238.0 986.0,250.0 980.0,262.0 975.0,258.0 969.6,249.0"/></clipPath>
<g clip-path="url(#g1b)">
<polyline points="955.7,188.4 1025.2,213.7" stroke-width="0.80"/>
<polyline points="953.8,193.5 1023.4,218.8" stroke-width="0.80"/>
<polyline points="952.3,197.7 1021.8,223.1" stroke-width="0.80"/>
<polyline points="950.4,202.8 1020.0,228.1" stroke-width="0.80"/>
<polyline points="948.9,207.1 1018.4,232.4" stroke-width="0.80"/>
<polyline points="947.1,211.9 1016.7,237.2" stroke-width="0.80"/>
<polyline points="945.3,217.0 1014.8,242.3" stroke-width="0.80"/>
<polyline points="943.7,221.3 1013.2,246.6" stroke-width="0.80"/>
<polyline points="941.9,226.2 1011.4,251.5" stroke-width="0.80"/>
<polyline points="940.2,230.8 1009.8,256.1" stroke-width="0.80"/>
<polyline points="938.5,235.5 1008.1,260.8" stroke-width="0.80"/>
<polyline points="936.8,240.2 1006.3,265.5" stroke-width="0.80"/>
<polyline points="935.2,244.8 1004.7,270.1" stroke-width="0.80"/>
<polyline points="933.3,249.8 1002.9,275.1" stroke-width="0.80"/>
<polyline points="931.8,254.1 1001.3,279.4" stroke-width="0.80"/>
<polyline points="930.0,258.9 999.6,284.2" stroke-width="0.80"/>
<polyline points="928.4,263.5 997.9,288.8" stroke-width="0.80"/>
<polyline points="926.6,268.3 996.1,293.6" stroke-width="0.80"/>
<polyline points="924.9,273.1 994.4,298.4" stroke-width="0.80"/>
<polyline points="942.8,192.4 917.5,261.9" stroke-width="0.80"/>
<polyline points="948.1,194.3 922.8,263.9" stroke-width="0.80"/>
<polyline points="953.6,196.3 928.3,265.9" stroke-width="0.80"/>
<polyline points="959.3,198.4 934.0,268.0" stroke-width="0.80"/>
<polyline points="965.4,200.6 940.1,270.2" stroke-width="0.80"/>
<polyline points="970.5,202.5 945.2,272.0" stroke-width="0.80"/>
<polyline points="976.4,204.7 951.1,274.2" stroke-width="0.80"/>
<polyline points="981.9,206.7 956.6,276.2" stroke-width="0.80"/>
<polyline points="987.7,208.8 962.4,278.3" stroke-width="0.80"/>
<polyline points="993.2,210.8 967.9,280.3" stroke-width="0.80"/>
<polyline points="999.0,212.9 973.7,282.4" stroke-width="0.80"/>
<polyline points="1004.6,214.9 979.3,284.4" stroke-width="0.80"/>
<polyline points="1010.3,217.0 985.0,286.5" stroke-width="0.80"/>
<polyline points="1016.1,219.1 990.8,288.6" stroke-width="0.80"/>
<polyline points="1021.5,221.1 996.2,290.6" stroke-width="0.80"/>
<polyline points="1026.9,223.0 1001.6,292.6" stroke-width="0.80"/>
<polyline points="1032.5,225.1 1007.2,294.6" stroke-width="0.80"/>
</g>
<polyline points="924.5,210.0 1007.2,216.9" stroke-width="1.70" stroke="#8d927c" stroke-opacity="0.95"/>
<path d="M939.0 298.2 C938.8 306.3 938.1 336.4 937.5 347.0 C936.9 357.6 935.8 359.5 935.5 362.0" stroke-width="1.00"/>
<path d="M952.0 298.2 C951.9 306.8 951.2 339.4 951.3 350.0 C951.4 360.6 952.8 353.6 952.8 362.0 C952.8 370.4 951.9 389.7 951.3 400.5 C950.7 411.3 949.5 417.2 949.0 426.6 C948.5 436.1 948.3 452.1 948.2 457.2" stroke-width="1.10"/>
<polyline points="939.0,307.4 959.5,307.8" stroke-width="0.90"/>
<polyline points="939.0,315.0 959.5,315.4" stroke-width="0.90"/>
<polyline points="939.0,322.7 959.5,323.1" stroke-width="0.90"/>
<polyline points="939.0,328.8 959.5,329.2" stroke-width="0.90"/>
<polyline points="939.0,338.0 959.5,338.4" stroke-width="0.90"/>
<polyline points="939.0,347.2 959.5,347.6" stroke-width="0.90"/>
<polyline points="899.2,298.2 978.8,299.0" stroke-width="1.50"/>
<polyline points="939.0,307.4 977.3,308.9" stroke-width="1.00"/>
<polyline points="902.3,347.2 974.2,347.2" stroke-width="1.20"/>
<polyline points="902.3,354.9 942.0,357.9" stroke-width="1.60"/>
<polyline points="903.8,355.4 957.4,361.5" stroke-width="0.90"/>
<polyline points="905.0,390.1 975.8,390.6" stroke-width="1.10"/>
<polyline points="957.4,361.5 975.0,362.3" stroke-width="0.90"/>
<polyline points="952.8,391.3 974.2,391.3" stroke-width="0.90"/>
<polyline points="951.3,400.5 973.5,402.0" stroke-width="0.90"/>
<polyline points="975.8,426.6 982.0,427.3" stroke-width="0.90"/>
<path d="M931.3 363.8 C931.0 369.8 930.3 387.0 929.8 400.0 C929.3 413.0 928.8 433.2 928.3 441.9 C927.8 450.6 927.2 450.3 927.0 452.0" stroke-width="1.00"/>
<path d="M942.1 350.0 C941.9 354.2 941.4 366.8 941.0 375.0 C940.6 383.2 940.0 395.0 939.8 399.0" stroke-width="1.80"/>
<polyline points="928.3,451.1 951.3,400.5" stroke-width="1.20"/>
<polyline points="960.4,308.0 960.0,347.0" stroke-width="0.90"/>
<polyline points="966.0,309.0 965.0,347.0" stroke-width="0.80"/>
<clipPath id="g2"><polygon points="901.0,300.0 938.0,300.0 936.5,346.0 903.5,346.0"/></clipPath>
<g clip-path="url(#g2)">
<polyline points="921.3,249.3 991.8,308.4" stroke-width="0.70"/>
<polyline points="917.3,254.1 987.8,313.2" stroke-width="0.70"/>
<polyline points="913.4,258.7 983.9,317.8" stroke-width="0.70"/>
<polyline points="908.6,264.5 979.0,323.6" stroke-width="0.70"/>
<polyline points="905.3,268.3 975.8,327.4" stroke-width="0.70"/>
<polyline points="900.7,273.8 971.2,333.0" stroke-width="0.70"/>
<polyline points="896.2,279.2 966.7,338.3" stroke-width="0.70"/>
<polyline points="892.9,283.1 963.4,342.2" stroke-width="0.70"/>
<polyline points="888.3,288.6 958.8,347.7" stroke-width="0.70"/>
<polyline points="884.1,293.6 954.6,352.7" stroke-width="0.70"/>
<polyline points="880.6,297.8 951.1,356.9" stroke-width="0.70"/>
<polyline points="876.2,303.1 946.6,362.2" stroke-width="0.70"/>
<polyline points="871.7,308.4 942.2,367.5" stroke-width="0.70"/>
<polyline points="867.9,313.0 938.3,372.1" stroke-width="0.70"/>
<polyline points="863.5,318.2 933.9,377.4" stroke-width="0.70"/>
<polyline points="859.9,322.4 930.4,381.6" stroke-width="0.70"/>
<polyline points="855.7,327.4 926.2,386.6" stroke-width="0.70"/>
<polyline points="851.8,332.2 922.2,391.3" stroke-width="0.70"/>
<polyline points="847.2,337.6 917.7,396.7" stroke-width="0.70"/>
<polyline points="907.9,253.2 848.8,323.7" stroke-width="0.70"/>
<polyline points="912.7,257.3 853.6,327.7" stroke-width="0.70"/>
<polyline points="918.1,261.8 859.0,332.3" stroke-width="0.70"/>
<polyline points="922.9,265.8 863.7,336.3" stroke-width="0.70"/>
<polyline points="928.5,270.5 869.4,341.0" stroke-width="0.70"/>
<polyline points="933.0,274.2 873.8,344.7" stroke-width="0.70"/>
<polyline points="938.4,278.8 879.3,349.3" stroke-width="0.70"/>
<polyline points="944.1,283.6 884.9,354.0" stroke-width="0.70"/>
<polyline points="949.3,288.0 890.2,358.5" stroke-width="0.70"/>
<polyline points="954.2,292.1 895.0,362.5" stroke-width="0.70"/>
<polyline points="959.0,296.1 899.8,366.6" stroke-width="0.70"/>
<polyline points="964.4,300.6 905.3,371.1" stroke-width="0.70"/>
<polyline points="969.5,304.9 910.4,375.4" stroke-width="0.70"/>
<polyline points="974.8,309.4 915.7,379.9" stroke-width="0.70"/>
<polyline points="980.7,314.3 921.6,384.8" stroke-width="0.70"/>
<polyline points="985.2,318.0 926.0,388.5" stroke-width="0.70"/>
<polyline points="991.2,323.1 932.1,393.6" stroke-width="0.70"/>
</g>
<clipPath id="g2b"><polygon points="915.0,347.0 942.0,347.0 942.0,358.0 915.0,356.0"/></clipPath>
<g clip-path="url(#g2b)">
<polyline points="904.7,291.1 958.6,293.9" stroke-width="0.90"/>
<polyline points="903.6,311.0 957.6,313.8" stroke-width="0.90"/>
<polyline points="902.6,331.1 956.5,333.9" stroke-width="0.90"/>
<polyline points="901.5,350.9 955.5,353.8" stroke-width="0.90"/>
<polyline points="900.5,370.9 954.4,373.7" stroke-width="0.90"/>
<polyline points="899.4,391.0 953.4,393.8" stroke-width="0.90"/>
<polyline points="898.4,411.2 952.3,414.0" stroke-width="0.90"/>
<polyline points="898.1,323.9 895.3,377.8" stroke-width="0.90"/>
<polyline points="902.1,324.1 899.2,378.0" stroke-width="0.90"/>
<polyline points="905.8,324.3 903.0,378.2" stroke-width="0.90"/>
<polyline points="910.0,324.5 907.1,378.4" stroke-width="0.90"/>
<polyline points="913.8,324.7 911.0,378.6" stroke-width="0.90"/>
<polyline points="917.8,324.9 915.0,378.8" stroke-width="0.90"/>
<polyline points="921.8,325.1 918.9,379.0" stroke-width="0.90"/>
<polyline points="925.8,325.3 923.0,379.2" stroke-width="0.90"/>
<polyline points="930.1,325.5 927.3,379.5" stroke-width="0.90"/>
<polyline points="934.0,325.8 931.2,379.7" stroke-width="0.90"/>
<polyline points="938.0,326.0 935.2,379.9" stroke-width="0.90"/>
<polyline points="942.0,326.2 939.2,380.1" stroke-width="0.90"/>
<polyline points="945.8,326.4 942.9,380.3" stroke-width="0.90"/>
<polyline points="949.8,326.6 947.0,380.5" stroke-width="0.90"/>
<polyline points="953.9,326.8 951.1,380.7" stroke-width="0.90"/>
<polyline points="958.0,327.0 955.1,380.9" stroke-width="0.90"/>
<polyline points="962.0,327.2 959.2,381.1" stroke-width="0.90"/>
</g>
<clipPath id="g3"><polygon points="932.9,362.3 952.8,362.3 951.3,400.5 931.5,400.5"/></clipPath>
<g clip-path="url(#g3)">
<polyline points="901.9,336.1 979.8,333.3" stroke-width="1.00"/>
<polyline points="902.1,340.8 980.0,338.0" stroke-width="1.00"/>
<polyline points="902.2,345.1 980.2,342.4" stroke-width="1.00"/>
<polyline points="902.4,349.8 980.3,347.1" stroke-width="1.00"/>
<polyline points="902.5,354.8 980.5,352.1" stroke-width="1.00"/>
<polyline points="902.7,359.5 980.7,356.7" stroke-width="1.00"/>
<polyline points="902.9,364.1 980.8,361.4" stroke-width="1.00"/>
<polyline points="903.0,368.7 981.0,366.0" stroke-width="1.00"/>
<polyline points="903.2,373.5 981.1,370.8" stroke-width="1.00"/>
<polyline points="903.4,378.2 981.3,375.5" stroke-width="1.00"/>
<polyline points="903.5,382.9 981.5,380.2" stroke-width="1.00"/>
<polyline points="903.7,387.4 981.6,384.7" stroke-width="1.00"/>
<polyline points="903.9,392.2 981.8,389.5" stroke-width="1.00"/>
<polyline points="904.0,396.9 982.0,394.2" stroke-width="1.00"/>
<polyline points="904.2,401.7 982.1,399.0" stroke-width="1.00"/>
<polyline points="904.4,406.5 982.3,403.8" stroke-width="1.00"/>
<polyline points="904.5,411.2 982.5,408.5" stroke-width="1.00"/>
<polyline points="904.7,415.8 982.6,413.0" stroke-width="1.00"/>
<polyline points="904.8,420.4 982.8,417.7" stroke-width="1.00"/>
<polyline points="905.0,425.0 982.9,422.3" stroke-width="1.00"/>
<polyline points="905.2,429.6 983.1,426.9" stroke-width="1.00"/>
<polyline points="895.0,344.1 897.7,422.1" stroke-width="1.00"/>
<polyline points="899.8,344.0 902.5,421.9" stroke-width="1.00"/>
<polyline points="904.3,343.8 907.0,421.8" stroke-width="1.00"/>
<polyline points="908.9,343.6 911.6,421.6" stroke-width="1.00"/>
<polyline points="913.7,343.5 916.4,421.4" stroke-width="1.00"/>
<polyline points="918.2,343.3 920.9,421.3" stroke-width="1.00"/>
<polyline points="922.8,343.2 925.5,421.1" stroke-width="1.00"/>
<polyline points="927.2,343.0 930.0,421.0" stroke-width="1.00"/>
<polyline points="931.8,342.9 934.5,420.8" stroke-width="1.00"/>
<polyline points="936.5,342.7 939.2,420.6" stroke-width="1.00"/>
<polyline points="941.0,342.5 943.7,420.5" stroke-width="1.00"/>
<polyline points="945.7,342.4 948.5,420.3" stroke-width="1.00"/>
<polyline points="950.5,342.2 953.3,420.1" stroke-width="1.00"/>
<polyline points="955.0,342.0 957.7,420.0" stroke-width="1.00"/>
<polyline points="959.4,341.9 962.1,419.8" stroke-width="1.00"/>
<polyline points="964.3,341.7 967.0,419.7" stroke-width="1.00"/>
<polyline points="968.8,341.6 971.6,419.5" stroke-width="1.00"/>
<polyline points="973.4,341.4 976.1,419.3" stroke-width="1.00"/>
<polyline points="978.1,341.2 980.8,419.2" stroke-width="1.00"/>
<polyline points="982.6,341.1 985.3,419.0" stroke-width="1.00"/>
<polyline points="987.2,340.9 989.9,418.9" stroke-width="1.00"/>
</g>
<clipPath id="g4"><polygon points="951.3,401.0 973.5,402.5 966.0,457.0 948.2,457.2 949.0,426.0"/></clipPath>
<g clip-path="url(#g4)">
<polyline points="911.9,361.5 1025.1,375.4" stroke-width="0.95"/>
<polyline points="911.4,365.9 1024.5,379.8" stroke-width="0.95"/>
<polyline points="910.9,370.1 1024.0,384.0" stroke-width="0.95"/>
<polyline points="910.3,374.4 1023.5,388.3" stroke-width="0.95"/>
<polyline points="909.8,378.7 1023.0,392.6" stroke-width="0.95"/>
<polyline points="909.2,383.3 1022.4,397.2" stroke-width="0.95"/>
<polyline points="908.7,387.6 1021.9,401.5" stroke-width="0.95"/>
<polyline points="908.2,392.1 1021.3,406.0" stroke-width="0.95"/>
<polyline points="907.6,396.3 1020.8,410.2" stroke-width="0.95"/>
<polyline points="907.1,400.8 1020.2,414.7" stroke-width="0.95"/>
<polyline points="906.6,405.0 1019.7,418.9" stroke-width="0.95"/>
<polyline points="906.0,409.6 1019.2,423.5" stroke-width="0.95"/>
<polyline points="905.5,413.9 1018.6,427.8" stroke-width="0.95"/>
<polyline points="905.0,418.2 1018.1,432.0" stroke-width="0.95"/>
<polyline points="904.4,422.6 1017.6,436.5" stroke-width="0.95"/>
<polyline points="903.9,427.0 1017.0,440.9" stroke-width="0.95"/>
<polyline points="903.4,431.2 1016.5,445.1" stroke-width="0.95"/>
<polyline points="902.8,435.7 1016.0,449.6" stroke-width="0.95"/>
<polyline points="902.3,440.1 1015.4,454.0" stroke-width="0.95"/>
<polyline points="901.8,444.3 1014.9,458.2" stroke-width="0.95"/>
<polyline points="901.2,448.9 1014.3,462.8" stroke-width="0.95"/>
<polyline points="900.7,453.2 1013.8,467.1" stroke-width="0.95"/>
<polyline points="900.1,457.6 1013.3,471.5" stroke-width="0.95"/>
<polyline points="899.6,461.8 1012.8,475.7" stroke-width="0.95"/>
<polyline points="899.1,466.1 1012.2,480.0" stroke-width="0.95"/>
<polyline points="898.5,470.7 1011.7,484.6" stroke-width="0.95"/>
<polyline points="898.0,475.1 1011.1,489.0" stroke-width="0.95"/>
<polyline points="897.5,479.3 1010.6,493.2" stroke-width="0.95"/>
<polyline points="896.9,483.5 1010.1,497.4" stroke-width="0.95"/>
<polyline points="903.8,365.0 889.9,478.2" stroke-width="0.95"/>
<polyline points="908.2,365.6 894.4,478.7" stroke-width="0.95"/>
<polyline points="912.4,366.1 898.5,479.3" stroke-width="0.95"/>
<polyline points="916.9,366.7 903.0,479.8" stroke-width="0.95"/>
<polyline points="921.0,367.2 907.1,480.3" stroke-width="0.95"/>
<polyline points="925.1,367.7 911.3,480.8" stroke-width="0.95"/>
<polyline points="929.6,368.2 915.7,481.4" stroke-width="0.95"/>
<polyline points="933.7,368.7 919.9,481.9" stroke-width="0.95"/>
<polyline points="938.2,369.3 924.3,482.4" stroke-width="0.95"/>
<polyline points="942.5,369.8 928.6,483.0" stroke-width="0.95"/>
<polyline points="946.6,370.3 932.7,483.5" stroke-width="0.95"/>
<polyline points="950.9,370.8 937.0,484.0" stroke-width="0.95"/>
<polyline points="955.2,371.4 941.3,484.5" stroke-width="0.95"/>
<polyline points="959.5,371.9 945.6,485.0" stroke-width="0.95"/>
<polyline points="963.9,372.4 950.0,485.6" stroke-width="0.95"/>
<polyline points="967.8,372.9 953.9,486.1" stroke-width="0.95"/>
<polyline points="972.2,373.4 958.3,486.6" stroke-width="0.95"/>
<polyline points="976.5,374.0 962.6,487.1" stroke-width="0.95"/>
<polyline points="980.7,374.5 966.8,487.6" stroke-width="0.95"/>
<polyline points="985.1,375.0 971.2,488.2" stroke-width="0.95"/>
<polyline points="989.1,375.5 975.2,488.7" stroke-width="0.95"/>
<polyline points="993.7,376.1 979.8,489.2" stroke-width="0.95"/>
<polyline points="997.8,376.6 983.9,489.7" stroke-width="0.95"/>
<polyline points="1001.9,377.1 988.0,490.2" stroke-width="0.95"/>
<polyline points="1006.4,377.6 992.5,490.8" stroke-width="0.95"/>
<polyline points="1010.6,378.2 996.7,491.3" stroke-width="0.95"/>
<polyline points="1014.8,378.7 1000.9,491.8" stroke-width="0.95"/>
<polyline points="1019.2,379.2 1005.3,492.4" stroke-width="0.95"/>
<polyline points="1023.3,379.7 1009.4,492.9" stroke-width="0.95"/>
<polyline points="1027.6,380.2 1013.7,493.4" stroke-width="0.95"/>
<polyline points="1032.1,380.8 1018.2,494.0" stroke-width="0.95"/>
</g>
<clipPath id="g5"><polygon points="928.3,425.0 944.0,417.0 951.0,401.0 949.0,426.0 948.2,457.2 927.0,451.5"/></clipPath>
<g clip-path="url(#g5)">
<polyline points="855.3,449.9 909.8,347.5" stroke-width="0.80"/>
<polyline points="859.2,452.0 913.6,349.6" stroke-width="0.80"/>
<polyline points="863.0,454.0 917.4,351.6" stroke-width="0.80"/>
<polyline points="866.6,455.9 921.0,353.5" stroke-width="0.80"/>
<polyline points="870.3,457.9 924.8,355.5" stroke-width="0.80"/>
<polyline points="874.3,460.0 928.7,357.6" stroke-width="0.80"/>
<polyline points="878.0,462.0 932.5,359.6" stroke-width="0.80"/>
<polyline points="882.0,464.1 936.5,361.7" stroke-width="0.80"/>
<polyline points="885.8,466.1 940.2,363.7" stroke-width="0.80"/>
<polyline points="889.5,468.1 944.0,365.7" stroke-width="0.80"/>
<polyline points="893.3,470.1 947.8,367.7" stroke-width="0.80"/>
<polyline points="897.1,472.2 951.6,369.7" stroke-width="0.80"/>
<polyline points="900.8,474.1 955.2,371.7" stroke-width="0.80"/>
<polyline points="904.7,476.2 959.1,373.7" stroke-width="0.80"/>
<polyline points="908.4,478.1 962.8,375.7" stroke-width="0.80"/>
<polyline points="912.4,480.3 966.9,377.9" stroke-width="0.80"/>
<polyline points="915.9,482.1 970.4,379.7" stroke-width="0.80"/>
<polyline points="920.0,484.3 974.4,381.9" stroke-width="0.80"/>
<polyline points="923.5,486.2 978.0,383.8" stroke-width="0.80"/>
<polyline points="927.5,488.3 982.0,385.9" stroke-width="0.80"/>
<polyline points="931.2,490.3 985.7,387.9" stroke-width="0.80"/>
<polyline points="935.0,492.3 989.5,389.9" stroke-width="0.80"/>
<polyline points="939.0,494.4 993.4,392.0" stroke-width="0.80"/>
<polyline points="942.5,496.3 996.9,393.8" stroke-width="0.80"/>
<polyline points="946.3,498.3 1000.7,395.9" stroke-width="0.80"/>
<polyline points="950.4,500.5 1004.8,398.1" stroke-width="0.80"/>
<polyline points="954.0,502.4 1008.5,400.0" stroke-width="0.80"/>
<polyline points="957.7,504.4 1012.1,401.9" stroke-width="0.80"/>
<polyline points="961.8,506.5 1016.3,404.1" stroke-width="0.80"/>
<polyline points="965.6,508.6 1020.0,406.1" stroke-width="0.80"/>
<polyline points="969.1,510.4 1023.5,408.0" stroke-width="0.80"/>
<polyline points="831.9,507.8 934.4,562.2" stroke-width="0.80"/>
<polyline points="860.1,454.9 962.5,509.3" stroke-width="0.80"/>
<polyline points="888.3,401.8 990.7,456.3" stroke-width="0.80"/>
<polyline points="916.5,348.8 1018.9,403.2" stroke-width="0.80"/>
<polyline points="944.6,295.9 1047.0,350.4" stroke-width="0.80"/>
</g>
<polyline points="960.0,312.0 977.0,313.0" stroke-width="0.80"/>
<polyline points="960.0,330.0 976.0,331.0" stroke-width="0.80"/>
<polyline points="962.0,370.0 963.0,390.0" stroke-width="0.80"/>
<polyline points="968.0,362.0 968.5,390.0" stroke-width="0.70"/>
</g>
<text x="781" y="473.3" font-family='"Liberation Sans", sans-serif' font-size="3.3" fill="#777">© OpenStreetMap contributors © CARTO</text>
</g>
<defs><linearGradient id="vir" x1="0" x2="1" y1="0" y2="0"><stop offset="0.0" stop-color="#f0e238"/><stop offset="0.1" stop-color="#cfd43f"/><stop offset="0.2" stop-color="#a5c254"/><stop offset="0.3" stop-color="#80b26e"/><stop offset="0.4" stop-color="#62a080"/><stop offset="0.5" stop-color="#4d8b8e"/><stop offset="0.6" stop-color="#437592"/><stop offset="0.7" stop-color="#3d5e90"/><stop offset="0.8" stop-color="#3b4a8b"/><stop offset="0.9" stop-color="#37317b"/><stop offset="1.0" stop-color="#2b1b5b"/></linearGradient></defs>
<rect x="780.00" y="476.80" width="351.20" height="11.90" fill="url(#vir)" />
<line x1="780.00" y1="488.8" x2="780.00" y2="494" stroke="#555" stroke-width="0.7"/>
<text x="780.00" y="506.80" font-family='"Liberation Sans", sans-serif' font-size="12.60" text-anchor="middle" fill="#1d1d1b" textLength="6.45" lengthAdjust="spacingAndGlyphs"  stroke="#1d1d1b" stroke-width="0.22">0</text>
<line x1="850.24" y1="488.8" x2="850.24" y2="494" stroke="#555" stroke-width="0.7"/>
<text x="850.24" y="506.80" font-family='"Liberation Sans", sans-serif' font-size="12.60" text-anchor="middle" fill="#1d1d1b" textLength="12.89" lengthAdjust="spacingAndGlyphs"  stroke="#1d1d1b" stroke-width="0.22">20</text>
<line x1="920.48" y1="488.8" x2="920.48" y2="494" stroke="#555" stroke-width="0.7"/>
<text x="920.48" y="506.80" font-family='"Liberation Sans", sans-serif' font-size="12.60" text-anchor="middle" fill="#1d1d1b" textLength="12.89" lengthAdjust="spacingAndGlyphs"  stroke="#1d1d1b" stroke-width="0.22">40</text>
<line x1="990.72" y1="488.8" x2="990.72" y2="494" stroke="#555" stroke-width="0.7"/>
<text x="990.72" y="506.80" font-family='"Liberation Sans", sans-serif' font-size="12.60" text-anchor="middle" fill="#1d1d1b" textLength="12.89" lengthAdjust="spacingAndGlyphs"  stroke="#1d1d1b" stroke-width="0.22">60</text>
<line x1="1060.96" y1="488.8" x2="1060.96" y2="494" stroke="#555" stroke-width="0.7"/>
<text x="1060.96" y="506.80" font-family='"Liberation Sans", sans-serif' font-size="12.60" text-anchor="middle" fill="#1d1d1b" textLength="12.89" lengthAdjust="spacingAndGlyphs"  stroke="#1d1d1b" stroke-width="0.22">80</text>
<line x1="1131.20" y1="488.8" x2="1131.20" y2="494" stroke="#555" stroke-width="0.7"/>
<text x="1130.70" y="506.80" font-family='"Liberation Sans", sans-serif' font-size="12.60" text-anchor="middle" fill="#1d1d1b" textLength="19.34" lengthAdjust="spacingAndGlyphs"  stroke="#1d1d1b" stroke-width="0.22">100</text>
<text x="784.50" y="524.30" font-family='"Liberation Sans", sans-serif' font-size="14.60" text-anchor="middle" fill="#1d1d1b" font-style="italic" textLength="61.20" lengthAdjust="spacingAndGlyphs"  stroke="#1d1d1b" stroke-width="0.22">Nenhuma</text>
<text x="784.50" y="540.20" font-family='"Liberation Sans", sans-serif' font-size="14.60" text-anchor="middle" fill="#1d1d1b" font-style="italic" textLength="53.60" lengthAdjust="spacingAndGlyphs"  stroke="#1d1d1b" stroke-width="0.22">função é</text>
<text x="784.50" y="556.10" font-family='"Liberation Sans", sans-serif' font-size="14.60" text-anchor="middle" fill="#1d1d1b" font-style="italic" textLength="88.00" lengthAdjust="spacingAndGlyphs"  stroke="#1d1d1b" stroke-width="0.22">acessível a pé</text>
<text x="1134.30" y="524.30" font-family='"Liberation Sans", sans-serif' font-size="14.60" text-anchor="middle" fill="#1d1d1b" font-style="italic" textLength="54.80" lengthAdjust="spacingAndGlyphs"  stroke="#1d1d1b" stroke-width="0.22">Todas as</text>
<text x="1134.30" y="540.20" font-family='"Liberation Sans", sans-serif' font-size="14.60" text-anchor="middle" fill="#1d1d1b" font-style="italic" textLength="74.40" lengthAdjust="spacingAndGlyphs"  stroke="#1d1d1b" stroke-width="0.22">funções são</text>
<text x="1134.30" y="556.10" font-family='"Liberation Sans", sans-serif' font-size="14.60" text-anchor="middle" fill="#1d1d1b" font-style="italic" textLength="93.60" lengthAdjust="spacingAndGlyphs"  stroke="#1d1d1b" stroke-width="0.22">acessíveis a pé</text>
<circle cx="961.30" cy="686.60" r="17.80" fill="none" stroke="#bdbdbd" stroke-width="0.8"/>
<circle cx="961.30" cy="686.60" r="35.60" fill="none" stroke="#bdbdbd" stroke-width="0.8"/>
<circle cx="961.30" cy="686.60" r="53.40" fill="none" stroke="#bdbdbd" stroke-width="0.8"/>
<circle cx="961.30" cy="686.60" r="71.20" fill="none" stroke="#bdbdbd" stroke-width="0.8"/>
<line x1="961.30" y1="686.60" x2="1050.30" y2="686.60" stroke="#7a7a7a" stroke-width="0.8"/>
<line x1="961.30" y1="686.60" x2="1033.30" y2="634.29" stroke="#b8b8b8" stroke-width="0.8"/>
<line x1="961.30" y1="686.60" x2="988.80" y2="601.96" stroke="#b8b8b8" stroke-width="0.8"/>
<line x1="961.30" y1="686.60" x2="933.80" y2="601.96" stroke="#b8b8b8" stroke-width="0.8"/>
<line x1="961.30" y1="686.60" x2="889.30" y2="634.29" stroke="#b8b8b8" stroke-width="0.8"/>
<line x1="961.30" y1="686.60" x2="872.30" y2="686.60" stroke="#b8b8b8" stroke-width="0.8"/>
<line x1="961.30" y1="686.60" x2="889.30" y2="738.91" stroke="#b8b8b8" stroke-width="0.8"/>
<line x1="961.30" y1="686.60" x2="933.80" y2="771.24" stroke="#b8b8b8" stroke-width="0.8"/>
<line x1="961.30" y1="686.60" x2="988.80" y2="771.24" stroke="#b8b8b8" stroke-width="0.8"/>
<line x1="961.30" y1="686.60" x2="1033.30" y2="738.91" stroke="#b8b8b8" stroke-width="0.8"/>
<polygon points="982.66,686.60 972.82,678.23 974.91,644.70 946.17,640.05 929.62,663.58 910.57,686.60 933.94,706.48 950.85,718.76 984.13,756.85 982.90,702.29" fill="#c9d558" fill-opacity="0.72" stroke="#bccb3d" stroke-width="0.8"/>
<polygon points="986.22,686.60 998.38,659.66 975.60,642.59 945.07,636.66 922.42,658.35 906.12,686.60 928.54,710.40 945.90,734.00 984.68,758.55 1004.50,717.99" fill="none" stroke="#1f2d7a" stroke-width="1.5" stroke-linejoin="round"/>
<circle cx="986.22" cy="686.60" r="1.5" fill="#1f2d7a"/>
<circle cx="998.38" cy="659.66" r="1.5" fill="#1f2d7a"/>
<circle cx="975.60" cy="642.59" r="1.5" fill="#1f2d7a"/>
<circle cx="945.07" cy="636.66" r="1.5" fill="#1f2d7a"/>
<circle cx="922.42" cy="658.35" r="1.5" fill="#1f2d7a"/>
<circle cx="906.12" cy="686.60" r="1.5" fill="#1f2d7a"/>
<circle cx="928.54" cy="710.40" r="1.5" fill="#1f2d7a"/>
<circle cx="945.90" cy="734.00" r="1.5" fill="#1f2d7a"/>
<circle cx="984.68" cy="758.55" r="1.5" fill="#1f2d7a"/>
<circle cx="1004.50" cy="717.99" r="1.5" fill="#1f2d7a"/>
<circle cx="982.66" cy="686.60" r="1.1" fill="#c3d040"/>
<circle cx="972.82" cy="678.23" r="1.1" fill="#c3d040"/>
<circle cx="974.91" cy="644.70" r="1.1" fill="#c3d040"/>
<circle cx="946.17" cy="640.05" r="1.1" fill="#c3d040"/>
<circle cx="929.62" cy="663.58" r="1.1" fill="#c3d040"/>
<circle cx="910.57" cy="686.60" r="1.1" fill="#c3d040"/>
<circle cx="933.94" cy="706.48" r="1.1" fill="#c3d040"/>
<circle cx="950.85" cy="718.76" r="1.1" fill="#c3d040"/>
<circle cx="984.13" cy="756.85" r="1.1" fill="#c3d040"/>
<circle cx="982.90" cy="702.29" r="1.1" fill="#c3d040"/>
<circle cx="961.30" cy="686.60" r="89.00" fill="none" stroke="#707070" stroke-width="1.2"/>
<text x="961.30" y="698.40" font-family='"Liberation Sans", sans-serif' font-size="9.60" text-anchor="middle" fill="#1d1d1b" font-weight="bold" textLength="4.91" lengthAdjust="spacingAndGlyphs" >0</text>
<text x="979.10" y="698.40" font-family='"Liberation Sans", sans-serif' font-size="9.60" text-anchor="middle" fill="#1d1d1b" font-weight="bold" textLength="9.82" lengthAdjust="spacingAndGlyphs" >20</text>
<text x="996.90" y="698.40" font-family='"Liberation Sans", sans-serif' font-size="9.60" text-anchor="middle" fill="#1d1d1b" font-weight="bold" textLength="9.82" lengthAdjust="spacingAndGlyphs" >40</text>
<text x="1014.70" y="698.40" font-family='"Liberation Sans", sans-serif' font-size="9.60" text-anchor="middle" fill="#1d1d1b" font-weight="bold" textLength="9.82" lengthAdjust="spacingAndGlyphs" >60</text>
<text x="1032.50" y="698.40" font-family='"Liberation Sans", sans-serif' font-size="9.60" text-anchor="middle" fill="#1d1d1b" font-weight="bold" textLength="9.82" lengthAdjust="spacingAndGlyphs" >80</text>
<text x="1050.30" y="698.40" font-family='"Liberation Sans", sans-serif' font-size="9.60" text-anchor="middle" fill="#1d1d1b" font-weight="bold" textLength="14.74" lengthAdjust="spacingAndGlyphs" >100</text>
<text x="794.80" y="600.00" font-family='"Liberation Sans", sans-serif' font-size="16.20" text-anchor="start" fill="#1d1d1b" textLength="133.20" lengthAdjust="spacingAndGlyphs"  stroke="#1d1d1b" stroke-width="0.22">Transporte Público</text>
<text x="994.70" y="600.00" font-family='"Liberation Sans", sans-serif' font-size="16.20" text-anchor="start" fill="#1d1d1b" textLength="68.90" lengthAdjust="spacingAndGlyphs"  stroke="#1d1d1b" stroke-width="0.22">Educação</text>
<text x="815.70" y="634.20" font-family='"Liberation Sans", sans-serif' font-size="16.20" text-anchor="start" fill="#1d1d1b" textLength="67.10" lengthAdjust="spacingAndGlyphs"  stroke="#1d1d1b" stroke-width="0.22">Comércio</text>
<text x="1040.50" y="634.20" font-family='"Liberation Sans", sans-serif' font-size="16.20" text-anchor="start" fill="#1d1d1b" textLength="44.00" lengthAdjust="spacingAndGlyphs"  stroke="#1d1d1b" stroke-width="0.22">Saúde</text>
<text x="778.30" y="690.00" font-family='"Liberation Sans", sans-serif' font-size="16.20" text-anchor="start" fill="#1d1d1b" textLength="86.20" lengthAdjust="spacingAndGlyphs"  stroke="#1d1d1b" stroke-width="0.22">Restauração</text>
<text x="1060.70" y="690.00" font-family='"Liberation Sans", sans-serif' font-size="16.20" text-anchor="start" fill="#1d1d1b" textLength="104.50" lengthAdjust="spacingAndGlyphs"  stroke="#1d1d1b" stroke-width="0.22">Cultura e Lazer</text>
<text x="794.80" y="747.90" font-family='"Liberation Sans", sans-serif' font-size="16.20" text-anchor="start" fill="#1d1d1b" textLength="88.00" lengthAdjust="spacingAndGlyphs"  stroke="#1d1d1b" stroke-width="0.22">Alimentação</text>
<text x="1042.40" y="747.90" font-family='"Liberation Sans", sans-serif' font-size="16.20" text-anchor="start" fill="#1d1d1b" textLength="133.80" lengthAdjust="spacingAndGlyphs"  stroke="#1d1d1b" stroke-width="0.22">Desporto e Recreio</text>
<text x="846.90" y="787.00" font-family='"Liberation Sans", sans-serif' font-size="16.20" text-anchor="start" fill="#1d1d1b" textLength="80.70" lengthAdjust="spacingAndGlyphs"  stroke="#1d1d1b" stroke-width="0.22">Ação Social</text>
<text x="994.70" y="787.00" font-family='"Liberation Sans", sans-serif' font-size="16.20" text-anchor="start" fill="#1d1d1b" textLength="107.10" lengthAdjust="spacingAndGlyphs"  stroke="#1d1d1b" stroke-width="0.22">Espaços Verdes</text>
<rect x="818.70" y="821.20" width="20.10" height="12.80" fill="#d3dc7a" />
<text x="846.20" y="834.00" font-family='"Liberation Sans", sans-serif' font-size="14.60" text-anchor="start" fill="#1d1d1b" textLength="137.50" lengthAdjust="spacingAndGlyphs"  stroke="#1d1d1b" stroke-width="0.22">MÉDIA DA FREGUESIA</text>
<line x1="1016.7" y1="827.8" x2="1035.8" y2="827.8" stroke="#1f2d7a" stroke-width="1.5"/>
<text x="1042.40" y="834.00" font-family='"Liberation Sans", sans-serif' font-size="14.60" text-anchor="start" fill="#1d1d1b" textLength="114.40" lengthAdjust="spacingAndGlyphs"  stroke="#1d1d1b" stroke-width="0.22">MÉDIA DA CIDADE</text>
<polygon points="21,773.4 52,773.4 52,803.3 81.7,803.3 81.7,833.7 21,833.7" fill="#1d1d1b"/>
<g fill="none" stroke="#fff" stroke-width="1.15"><path d="M30.5 817.2 L34.7 813.6 L38.9 817.2 M34.7 813.4 V823.8 M29.6 819.6 Q34.7 824.6 39.8 819.6 M31 822.6 H38.4 M32.2 824.6 H37.2"/><circle cx="34.7" cy="818.6" r="2.1" fill="#fff" stroke="none"/></g>
<text x="43.30" y="822.50" font-family='"Liberation Sans", sans-serif' font-size="9.00" text-anchor="start" fill="#fff" font-weight="bold" textLength="31.50" lengthAdjust="spacingAndGlyphs" >LISBOA</text>
<text x="92.10" y="782.30" font-family='"Liberation Sans", sans-serif' font-size="11.20" text-anchor="start" fill="#1d1d1b" font-weight="bold" textLength="38.60" lengthAdjust="spacingAndGlyphs" >Lisboa</text>
<text x="92.10" y="797.30" font-family='"Liberation Sans", sans-serif' font-size="11.60" text-anchor="start" fill="#1d1d1b" textLength="62.90" lengthAdjust="spacingAndGlyphs" >Urbanismo</text>
<polygon points="201.5,772 219,772 219,790 205,799.5 191,799.5 191,789" fill="#1c3f94"/>
<polyline points="202.6,772 202.6,788.4 219,788.4" fill="none" stroke="#fff" stroke-width="0.8"/>
<rect x="202.20" y="800.00" width="16.80" height="16.50" fill="#1c3f94" />
<path d="M212.3 807 A2.5 2.5 0 1 0 212.3 810.4" fill="none" stroke="#fff" stroke-width="1"/>
<text x="225.00" y="812.70" font-family='"Liberation Sans", sans-serif' font-size="12.20" text-anchor="start" fill="#1a2a78" font-weight="bold" textLength="38.50" lengthAdjust="spacingAndGlyphs" stroke="#1a2a78" stroke-width="0.4">CIAUD</text>
<text x="225.00" y="820.50" font-family='"Liberation Sans", sans-serif' font-size="5.60" text-anchor="start" fill="#2e3f9c" font-weight="bold" textLength="56.50" lengthAdjust="spacingAndGlyphs" >Centro de Investigação</text>
<text x="225.00" y="826.50" font-family='"Liberation Sans", sans-serif' font-size="5.60" text-anchor="start" fill="#2e3f9c" font-weight="bold" textLength="37.00" lengthAdjust="spacingAndGlyphs" >em Arquitetura</text>
<text x="225.00" y="832.30" font-family='"Liberation Sans", sans-serif' font-size="5.60" text-anchor="start" fill="#2e3f9c" font-weight="bold" textLength="49.50" lengthAdjust="spacingAndGlyphs" >Urbanismo e Design</text>
<g fill="none" stroke="#333" stroke-width="1">
<rect x="314.3" y="786.3" width="34.7" height="35.1" fill="#fff" stroke-width="1.1"/>
<path d="M314.5 799.8 L349 788.2" stroke="#4a4a4a" stroke-width="3"/>
<path d="M314.5 799.8 L349 788.2" stroke="#9a9a9a" stroke-width="0.7"/>
<path d="M331.3 785.6 L315 820.8 M331.9 785.6 L348.6 821" stroke-width="1.7"/>
<path d="M314.5 802 H349" stroke-width="1.8"/>
<path d="M318.5 805.6 H345" stroke-width="2.2" stroke="#555"/>
<path d="M314.5 808.6 H349" stroke-width="1.2"/>
<path d="M319.5 802 V821 M322 805 V821 M324.6 808.6 V821 M339 808.6 V821 M341.6 805 V821 M344.2 802 V821" stroke-width="1.1"/>
<path d="M324.6 811 H339" stroke-width="1"/>
<path d="M321 803 V808 M326 803 V808 M331 803 V808 M336 803 V808 M341 803 V808" stroke="#fff" stroke-width="0.7"/>
<circle cx="331.6" cy="786.2" r="1.6" fill="#333" stroke="none"/>
</g>
<text x="353.80" y="802.60" font-family='"Liberation Sans", sans-serif' font-size="8.00" text-anchor="start" fill="#2a2f7c" font-weight="bold" textLength="132.00" lengthAdjust="spacingAndGlyphs" stroke="#2a2f7c" stroke-width="0.25">FACULDADE DE ARQUITETURA</text>
<text x="353.80" y="812.30" font-family='"Liberation Sans", sans-serif' font-size="8.00" text-anchor="start" fill="#34398a" textLength="132.00" lengthAdjust="spacingAndGlyphs" stroke="#34398a" stroke-width="0.2">LISBON SCHOOL OF ARCHITECTURE</text>
<text x="353.80" y="821.60" font-family='"Liberation Sans", sans-serif' font-size="4.90" text-anchor="start" fill="#222" font-weight="bold" textLength="65.00" lengthAdjust="spacingAndGlyphs" >UNIVERSIDADE DE LISBOA</text>
</svg>
</body></html>
